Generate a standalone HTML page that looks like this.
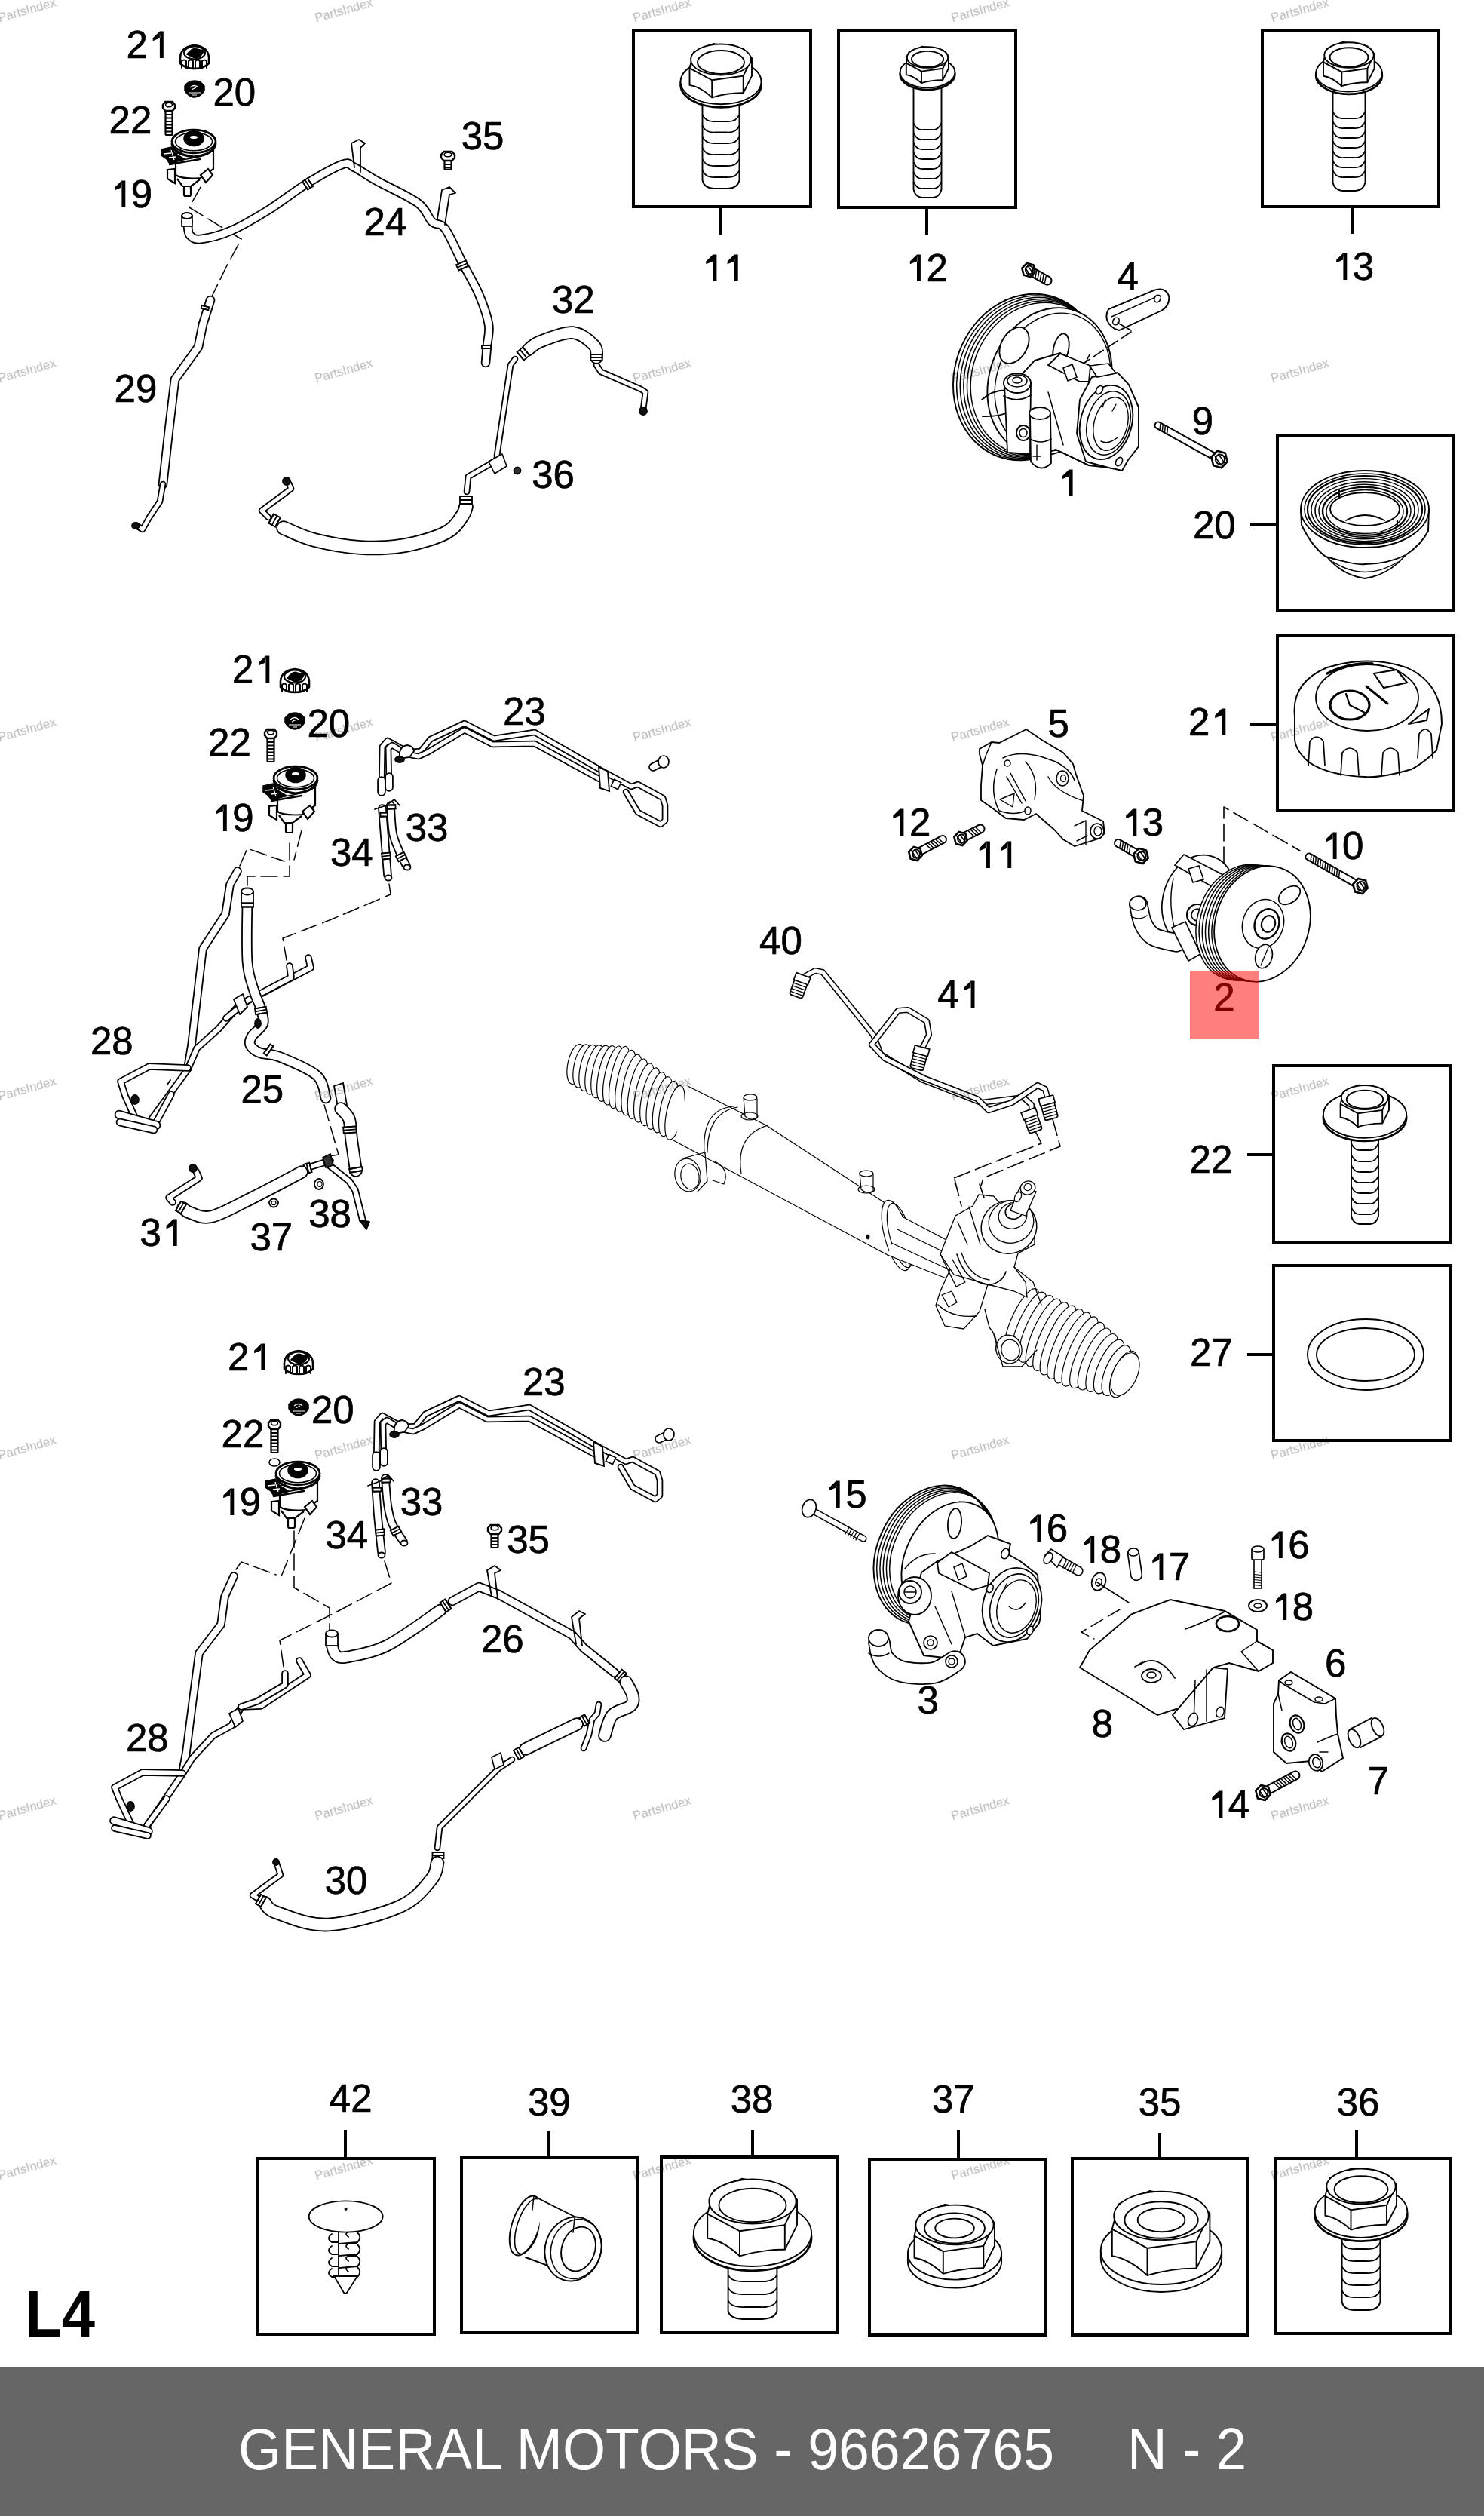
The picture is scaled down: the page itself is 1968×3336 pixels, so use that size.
<!DOCTYPE html>
<html><head><meta charset="utf-8"><style>
html,body{margin:0;padding:0;background:#fff;}
body{width:1968px;height:3336px;overflow:hidden;position:relative;}
svg{position:absolute;left:0;top:0;}
.lb{font-family:"Liberation Sans",sans-serif;font-size:51px;text-anchor:middle;fill:#000;stroke:#000;stroke-width:0.7px;}
.wm{font-family:"Liberation Sans",sans-serif;font-size:16.5px;text-anchor:middle;fill:#b8b8b8;}
.bx{fill:none;stroke:#000;stroke-width:4;}
.st{stroke:#000;stroke-width:4;}
.ln{fill:none;stroke:#000;stroke-width:1.8;stroke-linejoin:round;stroke-linecap:round;}
.lw{fill:#fff;stroke:#000;stroke-width:1.8;stroke-linejoin:round;stroke-linecap:round;}
.dash{fill:none;stroke:#000;stroke-width:1.8;stroke-dasharray:26 10 4 10;}
</style></head><body>
<svg width="1968" height="3336" viewBox="0 0 1968 3336">
<path d="M239.0,76.0 Q240.0,62.0 258.0,60.0 Q276.0,62.0 277.0,76.0 L277.0,84.0 Q270.0,91.0 258.0,91.0 Q246.0,91.0 239.0,84.0 Z" fill="#fff" stroke="#000" stroke-width="2.6"/><ellipse cx="258.0" cy="70.0" rx="14.0" ry="8.5" fill="#fff" stroke="#000" stroke-width="2.2"/><path d="M248.0,72.0 Q256.0,62.0 261.0,65.0 L270.0,67.0 Q268.0,76.0 258.0,77.0 Z" fill="#000" stroke="#000" stroke-width="1.5"/><path d="M241.0,90.0 L241.0,81.0 Q244.0,78.0 247.0,81.0 L247.0,90.0" fill="none" stroke="#000" stroke-width="2.0" stroke-linejoin="round" stroke-linecap="round"/><path d="M250.0,90.0 L250.0,81.0 Q253.0,78.0 256.0,81.0 L256.0,90.0" fill="none" stroke="#000" stroke-width="2.0" stroke-linejoin="round" stroke-linecap="round"/><path d="M259.0,90.0 L259.0,81.0 Q262.0,78.0 265.0,81.0 L265.0,90.0" fill="none" stroke="#000" stroke-width="2.0" stroke-linejoin="round" stroke-linecap="round"/><path d="M268.0,90.0 L268.0,81.0 Q271.0,78.0 274.0,81.0 L274.0,90.0" fill="none" stroke="#000" stroke-width="2.0" stroke-linejoin="round" stroke-linecap="round"/><path d="M245.0,114.0 Q250.0,107.0 258.0,107.0 Q266.0,107.0 271.0,114.0 L271.0,120.0 Q266.0,129.0 258.0,129.0 Q250.0,129.0 245.0,120.0 Z" fill="#000" stroke="#000" stroke-width="1.5"/><path d="M252.0,116.0 Q258.0,111.0 263.0,116.0 M254.0,119.0 L260.0,116.0 M250.0,123.0 L266.0,123.0 M255.0,126.0 L261.0,126.0" fill="none" stroke="#fff" stroke-width="1.2"/><g><rect x="219.5" y="146.0" width="9" height="33.0" rx="1.5" fill="#fff" stroke="#000" stroke-width="2.2"/><path d="M220.0,152.0 L228.0,152.0" fill="none" stroke="#000" stroke-width="1.8" stroke-linejoin="round" stroke-linecap="round"/><path d="M220.0,156.5 L228.0,156.5" fill="none" stroke="#000" stroke-width="1.8" stroke-linejoin="round" stroke-linecap="round"/><path d="M220.0,161.0 L228.0,161.0" fill="none" stroke="#000" stroke-width="1.8" stroke-linejoin="round" stroke-linecap="round"/><path d="M220.0,165.5 L228.0,165.5" fill="none" stroke="#000" stroke-width="1.8" stroke-linejoin="round" stroke-linecap="round"/><path d="M220.0,170.0 L228.0,170.0" fill="none" stroke="#000" stroke-width="1.8" stroke-linejoin="round" stroke-linecap="round"/><path d="M220.0,174.5 L228.0,174.5" fill="none" stroke="#000" stroke-width="1.8" stroke-linejoin="round" stroke-linecap="round"/><path d="M216.0,143.0 L216.0,139.0 L219.2,135.0 L228.8,135.0 L232.0,139.0 L232.0,143.0 L228.8,147.0 L219.2,147.0 Z" fill="#fff" stroke="#000" stroke-width="2.4"/><ellipse cx="224.0" cy="139.0" rx="4.4" ry="2.8" fill="#fff" stroke="#000" stroke-width="1.6"/></g><path d="M233.0,204.0 L233.0,232.0 Q242.0,238.0 266.0,236.0 L283.0,224.0 L283.0,188.0 Z" fill="#fff" stroke="#000" stroke-width="2.2"/><path d="M235.0,237.0 L242.0,247.0 L253.0,247.0 L265.0,238.0" fill="#fff" stroke="#000" stroke-width="2.2"/><rect x="244.0" y="247.0" width="9" height="13" rx="2" fill="#fff" stroke="#000" stroke-width="2.2"/><path d="M266.0,232.0 L276.0,224.0 L282.0,232.0 L273.0,242.0 Z" fill="#fff" stroke="#000" stroke-width="2.2"/><path d="M222.0,225.0 L232.0,224.0 L232.0,243.0 L222.0,237.0 Z" fill="#fff" stroke="#000" stroke-width="2.2"/><path d="M228.0,190.0 Q230.0,205.0 257.0,208.0 Q284.0,205.0 286.0,190.0" fill="none" stroke="#000" stroke-width="3.2"/><ellipse cx="257.0" cy="187.5" rx="29.0" ry="15.3" fill="#fff" stroke="#000" stroke-width="2.8"/><ellipse cx="257.0" cy="187.7" rx="24.5" ry="12.0" fill="#fff" stroke="#000" stroke-width="1.6"/><ellipse cx="257.0" cy="183.5" rx="13.0" ry="10.0" fill="#000" stroke="#000" stroke-width="1.5"/><ellipse cx="257.0" cy="182.0" rx="5.0" ry="2.0" fill="#fff" stroke="#000" stroke-width="0"/><path d="M214.0,198.0 L227.0,195.0 L233.0,204.0 L245.0,211.0 L225.0,217.0 L221.0,211.0 L214.0,206.0 Z" fill="#000" stroke="#000" stroke-width="1.5"/><path d="M217.0,204.0 L227.0,203.0 M224.0,209.0 L233.0,208.0 M227.0,199.0 L231.0,212.0" fill="none" stroke="#fff" stroke-width="1.3"/><path d="M225.0,218.0 L265.0,211.0" fill="none" stroke="#000" stroke-width="2.4" stroke-linejoin="round" stroke-linecap="round"/><path d="M225.0,215.0 L259.0,209.0" fill="none" stroke="#000" stroke-width="1.4" stroke-linejoin="round" stroke-linecap="round"/><path d="M266.0,248.0 L251.0,275.0 L320.0,317.0 L300.0,354.0 L279.0,397.0" fill="none" stroke="#000" stroke-width="1.5" stroke-linejoin="round" stroke-linecap="round" stroke-dasharray="22 8"/><path d="M249.0,300.0 C249.5,302.0 249.2,309.2 252.0,312.0 C254.8,314.8 257.0,318.0 266.0,317.0 C275.0,316.0 291.2,312.3 306.0,306.0 C320.8,299.7 338.3,289.3 355.0,279.0 C371.7,268.7 389.5,254.2 406.0,244.0 C422.5,233.8 443.3,221.7 454.0,218.0 C464.7,214.3 462.3,218.3 470.0,222.0 C477.7,225.7 486.0,232.2 500.0,240.0 C514.0,247.8 541.8,260.0 554.0,269.0 C566.2,278.0 567.0,288.3 573.0,294.0 C579.0,299.7 583.3,294.0 590.0,303.0 C596.7,312.0 605.5,333.5 613.0,348.0 C620.5,362.5 629.2,376.3 635.0,390.0 C640.8,403.7 646.2,418.7 648.0,430.0 C649.8,441.3 646.7,449.5 646.0,458.0 C645.3,466.5 644.3,477.2 644.0,481.0" fill="none" stroke="#000" stroke-width="12.6" stroke-linejoin="round" stroke-linecap="round"/><path d="M249.0,300.0 C249.5,302.0 249.2,309.2 252.0,312.0 C254.8,314.8 257.0,318.0 266.0,317.0 C275.0,316.0 291.2,312.3 306.0,306.0 C320.8,299.7 338.3,289.3 355.0,279.0 C371.7,268.7 389.5,254.2 406.0,244.0 C422.5,233.8 443.3,221.7 454.0,218.0 C464.7,214.3 462.3,218.3 470.0,222.0 C477.7,225.7 486.0,232.2 500.0,240.0 C514.0,247.8 541.8,260.0 554.0,269.0 C566.2,278.0 567.0,288.3 573.0,294.0 C579.0,299.7 583.3,294.0 590.0,303.0 C596.7,312.0 605.5,333.5 613.0,348.0 C620.5,362.5 629.2,376.3 635.0,390.0 C640.8,403.7 646.2,418.7 648.0,430.0 C649.8,441.3 646.7,449.5 646.0,458.0 C645.3,466.5 644.3,477.2 644.0,481.0" fill="none" stroke="#fff" stroke-width="9.0" stroke-linejoin="round" stroke-linecap="round"/><ellipse cx="248.0" cy="294.0" rx="7.0" ry="5.0" fill="#fff" stroke="#000" stroke-width="1.8"/><rect x="241" y="286" width="14" height="14" fill="#fff" stroke="#000" stroke-width="1.6"/><ellipse cx="248.0" cy="286.0" rx="7.0" ry="4.0" fill="#fff" stroke="#000" stroke-width="1.8"/><path d="M408.2,251.6 L414.9,247.3 L407.8,236.4 L401.1,240.7 Z" fill="#fff" stroke="#000" stroke-width="1.8"/><path d="M408.2,251.6 L401.1,240.7" fill="none" stroke="#000" stroke-width="1.8" stroke-linejoin="round" stroke-linecap="round"/><path d="M411.5,249.5 L404.5,238.5" fill="none" stroke="#000" stroke-width="1.8" stroke-linejoin="round" stroke-linecap="round"/><path d="M414.9,247.3 L407.8,236.4" fill="none" stroke="#000" stroke-width="1.8" stroke-linejoin="round" stroke-linecap="round"/><path d="M605.0,351.2 L608.2,358.5 L621.0,352.8 L617.8,345.5 Z" fill="#fff" stroke="#000" stroke-width="1.8"/><path d="M605.0,351.2 L617.8,345.5" fill="none" stroke="#000" stroke-width="1.8" stroke-linejoin="round" stroke-linecap="round"/><path d="M606.6,354.8 L619.4,349.2" fill="none" stroke="#000" stroke-width="1.8" stroke-linejoin="round" stroke-linecap="round"/><path d="M608.2,358.5 L621.0,352.8" fill="none" stroke="#000" stroke-width="1.8" stroke-linejoin="round" stroke-linecap="round"/><path d="M638.9,458.2 L639.1,462.2 L651.1,461.8 L650.9,457.8 Z" fill="#fff" stroke="#000" stroke-width="1.8"/><path d="M638.9,458.2 L650.9,457.8" fill="none" stroke="#000" stroke-width="1.8" stroke-linejoin="round" stroke-linecap="round"/><path d="M639.1,462.2 L651.1,461.8" fill="none" stroke="#000" stroke-width="1.8" stroke-linejoin="round" stroke-linecap="round"/><path d="M470,222 L466,190 L476,185 L484,190 L478,196 L478,228" fill="none" stroke="#000" stroke-width="1.8" stroke-linejoin="round" stroke-linecap="round"/><path d="M580,290 L586,252 L596,248 L604,256 L596,258 L590,298" fill="none" stroke="#000" stroke-width="1.8" stroke-linejoin="round" stroke-linecap="round"/><g><rect x="589.5" y="212.0" width="9" height="13.0" rx="1.5" fill="#fff" stroke="#000" stroke-width="2.2"/><path d="M590.0,218.0 L598.0,218.0" fill="none" stroke="#000" stroke-width="1.8" stroke-linejoin="round" stroke-linecap="round"/><path d="M590.0,222.5 L598.0,222.5" fill="none" stroke="#000" stroke-width="1.8" stroke-linejoin="round" stroke-linecap="round"/><path d="M585.0,209.0 L585.0,205.0 L588.6,201.0 L599.4,201.0 L603.0,205.0 L603.0,209.0 L599.4,213.0 L588.6,213.0 Z" fill="#fff" stroke="#000" stroke-width="2.4"/><ellipse cx="594.0" cy="205.0" rx="5.0" ry="2.8" fill="#fff" stroke="#000" stroke-width="1.6"/></g><path d="M279.0,398.0 L269.0,430.0 L263.0,460.0 L232.0,503.0 L224.0,570.0 L216.0,642.0" fill="none" stroke="#000" stroke-width="12.6" stroke-linejoin="round" stroke-linecap="round"/><path d="M279.0,398.0 L269.0,430.0 L263.0,460.0 L232.0,503.0 L224.0,570.0 L216.0,642.0" fill="none" stroke="#fff" stroke-width="9.0" stroke-linejoin="round" stroke-linecap="round"/><path d="M216.0,642.0 L212.0,665.0 L198.0,686.0 L189.0,702.0 L181.0,697.0" fill="none" stroke="#000" stroke-width="8.6" stroke-linejoin="round" stroke-linecap="round"/><path d="M216.0,642.0 L212.0,665.0 L198.0,686.0 L189.0,702.0 L181.0,697.0" fill="none" stroke="#fff" stroke-width="5.0" stroke-linejoin="round" stroke-linecap="round"/><ellipse cx="180.0" cy="697.0" rx="5.0" ry="4.0" fill="#111" stroke="#000" stroke-width="1.8"/><path d="M267.7,404.8 L266.7,408.6 L276.3,411.2 L277.3,407.4 Z" fill="#fff" stroke="#000" stroke-width="1.8"/><path d="M267.7,404.8 L277.3,407.4" fill="none" stroke="#000" stroke-width="1.8" stroke-linejoin="round" stroke-linecap="round"/><path d="M266.7,408.6 L276.3,411.2" fill="none" stroke="#000" stroke-width="1.8" stroke-linejoin="round" stroke-linecap="round"/><path d="M853.0,543.0 L856.0,520.0 L850.0,516.0 L797.0,493.0 L791.0,484.0" fill="none" stroke="#000" stroke-width="8.6" stroke-linejoin="round" stroke-linecap="round"/><path d="M853.0,543.0 L856.0,520.0 L850.0,516.0 L797.0,493.0 L791.0,484.0" fill="none" stroke="#fff" stroke-width="5.0" stroke-linejoin="round" stroke-linecap="round"/><ellipse cx="853.0" cy="545.0" rx="5.0" ry="5.0" fill="#111" stroke="#000" stroke-width="1.8"/><path d="M791.0,474.0 C790.5,471.3 793.3,463.5 788.0,458.0 C782.7,452.5 771.0,441.8 759.0,441.0 C747.0,440.2 725.8,449.2 716.0,453.0 C706.2,456.8 702.7,462.2 700.0,464.0" fill="none" stroke="#000" stroke-width="17.6" stroke-linejoin="round" stroke-linecap="round"/><path d="M791.0,474.0 C790.5,471.3 793.3,463.5 788.0,458.0 C782.7,452.5 771.0,441.8 759.0,441.0 C747.0,440.2 725.8,449.2 716.0,453.0 C706.2,456.8 702.7,462.2 700.0,464.0" fill="none" stroke="#fff" stroke-width="14.0" stroke-linejoin="round" stroke-linecap="round"/><path d="M783.5,470.0 L783.5,478.0 L798.5,478.0 L798.5,470.0 Z" fill="#fff" stroke="#000" stroke-width="1.8"/><path d="M783.5,470.0 L798.5,470.0" fill="none" stroke="#000" stroke-width="1.8" stroke-linejoin="round" stroke-linecap="round"/><path d="M783.5,474.0 L798.5,474.0" fill="none" stroke="#000" stroke-width="1.8" stroke-linejoin="round" stroke-linecap="round"/><path d="M783.5,478.0 L798.5,478.0" fill="none" stroke="#000" stroke-width="1.8" stroke-linejoin="round" stroke-linecap="round"/><path d="M693.3,460.4 L685.7,466.9 L694.7,477.6 L702.3,471.1 Z" fill="#fff" stroke="#000" stroke-width="1.8"/><path d="M693.3,460.4 L702.3,471.1" fill="none" stroke="#000" stroke-width="1.8" stroke-linejoin="round" stroke-linecap="round"/><path d="M689.5,463.6 L698.5,474.4" fill="none" stroke="#000" stroke-width="1.8" stroke-linejoin="round" stroke-linecap="round"/><path d="M685.7,466.9 L694.7,477.6" fill="none" stroke="#000" stroke-width="1.8" stroke-linejoin="round" stroke-linecap="round"/><path d="M683.0,476.0 L677.0,484.0 L659.0,604.0 L659.0,610.0 L621.0,632.0 L619.0,652.0" fill="none" stroke="#000" stroke-width="8.6" stroke-linejoin="round" stroke-linecap="round"/><path d="M683.0,476.0 L677.0,484.0 L659.0,604.0 L659.0,610.0 L621.0,632.0 L619.0,652.0" fill="none" stroke="#fff" stroke-width="5.0" stroke-linejoin="round" stroke-linecap="round"/><path d="M648,612 L666,602 L672,618 L656,628 Z" fill="#fff" stroke="#000" stroke-width="1.6" stroke-linejoin="round" stroke-linecap="round"/><path d="M618.0,672.0 C617.2,674.0 617.3,678.3 613.0,684.0 C608.7,689.7 604.5,699.5 592.0,706.0 C579.5,712.5 557.0,719.7 538.0,723.0 C519.0,726.3 498.2,727.2 478.0,726.0 C457.8,724.8 434.0,720.3 417.0,716.0 C400.0,711.7 382.8,702.7 376.0,700.0" fill="none" stroke="#000" stroke-width="19.6" stroke-linejoin="round" stroke-linecap="round"/><path d="M618.0,672.0 C617.2,674.0 617.3,678.3 613.0,684.0 C608.7,689.7 604.5,699.5 592.0,706.0 C579.5,712.5 557.0,719.7 538.0,723.0 C519.0,726.3 498.2,727.2 478.0,726.0 C457.8,724.8 434.0,720.3 417.0,716.0 C400.0,711.7 382.8,702.7 376.0,700.0" fill="none" stroke="#fff" stroke-width="16.0" stroke-linejoin="round" stroke-linecap="round"/><path d="M610.0,658.0 L610.0,668.0 L626.0,668.0 L626.0,658.0 Z" fill="#fff" stroke="#000" stroke-width="1.8"/><path d="M610.0,658.0 L626.0,658.0" fill="none" stroke="#000" stroke-width="1.8" stroke-linejoin="round" stroke-linecap="round"/><path d="M610.0,663.0 L626.0,663.0" fill="none" stroke="#000" stroke-width="1.8" stroke-linejoin="round" stroke-linecap="round"/><path d="M610.0,668.0 L626.0,668.0" fill="none" stroke="#000" stroke-width="1.8" stroke-linejoin="round" stroke-linecap="round"/><path d="M356.3,693.8 L365.1,698.5 L371.7,686.2 L362.9,681.5 Z" fill="#fff" stroke="#000" stroke-width="1.8"/><path d="M356.3,693.8 L362.9,681.5" fill="none" stroke="#000" stroke-width="1.8" stroke-linejoin="round" stroke-linecap="round"/><path d="M360.7,696.2 L367.3,683.8" fill="none" stroke="#000" stroke-width="1.8" stroke-linejoin="round" stroke-linecap="round"/><path d="M365.1,698.5 L371.7,686.2" fill="none" stroke="#000" stroke-width="1.8" stroke-linejoin="round" stroke-linecap="round"/><path d="M356.0,686.0 L347.0,677.0 L386.0,648.0 L383.0,641.0" fill="none" stroke="#000" stroke-width="8.6" stroke-linejoin="round" stroke-linecap="round"/><path d="M356.0,686.0 L347.0,677.0 L386.0,648.0 L383.0,641.0" fill="none" stroke="#fff" stroke-width="5.0" stroke-linejoin="round" stroke-linecap="round"/><ellipse cx="380.0" cy="638.0" rx="5.0" ry="5.0" fill="#111" stroke="#000" stroke-width="1.8"/><ellipse cx="686.0" cy="624.0" rx="4.5" ry="4.5" fill="#333" stroke="#000" stroke-width="1.8"/><path d="M931.5,134.0 L931.5,239.0 Q933.5,249.0 946.2,250.0 L965.8,250.0 Q978.5,249.0 980.5,239.0 L980.5,134.0 Z" fill="#fff" stroke="#000" stroke-width="1.9"/><path d="M931.5,152.0 Q935.5,162.0 948.6,161.0 L963.4,161.0 Q976.5,162.0 980.5,152.0" fill="none" stroke="#000" stroke-width="1.9"/><path d="M931.5,166.5 Q935.5,176.5 948.6,175.5 L963.4,175.5 Q976.5,176.5 980.5,166.5" fill="none" stroke="#000" stroke-width="1.9"/><path d="M931.5,181.0 Q935.5,191.0 948.6,190.0 L963.4,190.0 Q976.5,191.0 980.5,181.0" fill="none" stroke="#000" stroke-width="1.9"/><path d="M931.5,196.0 Q935.5,206.0 948.6,205.0 L963.4,205.0 Q976.5,206.0 980.5,196.0" fill="none" stroke="#000" stroke-width="1.9"/><path d="M931.5,211.0 Q935.5,221.0 948.6,220.0 L963.4,220.0 Q976.5,221.0 980.5,211.0" fill="none" stroke="#000" stroke-width="1.9"/><path d="M931.5,226.0 Q935.5,236.0 948.6,235.0 L963.4,235.0 Q976.5,236.0 980.5,226.0" fill="none" stroke="#000" stroke-width="1.9"/><ellipse cx="956.0" cy="112.3" rx="53.5" ry="30.0" fill="#fff" stroke="#000" stroke-width="2.7"/><ellipse cx="956.0" cy="108.3" rx="53.5" ry="30.0" fill="#fff" stroke="#000" stroke-width="1.9"/><path d="M914.5,90.3 L914.5,112.9 Q929.0,115.0 944.2,129.3 Q965.0,123.0 985.7,123.3 L997.0,100.7 L997.0,77.1 L986.0,65.0 L946.0,58.0 L920.0,69.0 Z" fill="#fff" stroke="#000" stroke-width="1.9" stroke-linejoin="round"/><path d="M914.5,90.3 L944.2,106.3 L985.7,100.7 L997.0,77.1 M944.2,106.3 L944.2,129.3 M985.7,100.7 L985.7,123.3" fill="none" stroke="#000" stroke-width="1.9"/><ellipse cx="956.0" cy="79.0" rx="40.0" ry="20.5" fill="#fff" stroke="#000" stroke-width="1.9"/><ellipse cx="956.0" cy="82.5" rx="31.0" ry="15.5" fill="#fff" stroke="#000" stroke-width="1.9"/><path d="M1211.5,113.4 L1211.5,251.0 Q1213.5,261.0 1222.6,262.0 L1237.4,262.0 Q1246.5,261.0 1248.5,251.0 L1248.5,113.4 Z" fill="#fff" stroke="#000" stroke-width="1.9"/><path d="M1211.5,163.0 Q1215.5,173.0 1224.5,172.0 L1235.5,172.0 Q1244.5,173.0 1248.5,163.0" fill="none" stroke="#000" stroke-width="1.9"/><path d="M1211.5,176.0 Q1215.5,186.0 1224.5,185.0 L1235.5,185.0 Q1244.5,186.0 1248.5,176.0" fill="none" stroke="#000" stroke-width="1.9"/><path d="M1211.5,189.0 Q1215.5,199.0 1224.5,198.0 L1235.5,198.0 Q1244.5,199.0 1248.5,189.0" fill="none" stroke="#000" stroke-width="1.9"/><path d="M1211.5,202.0 Q1215.5,212.0 1224.5,211.0 L1235.5,211.0 Q1244.5,212.0 1248.5,202.0" fill="none" stroke="#000" stroke-width="1.9"/><path d="M1211.5,215.0 Q1215.5,225.0 1224.5,224.0 L1235.5,224.0 Q1244.5,225.0 1248.5,215.0" fill="none" stroke="#000" stroke-width="1.9"/><path d="M1211.5,228.0 Q1215.5,238.0 1224.5,237.0 L1235.5,237.0 Q1244.5,238.0 1248.5,228.0" fill="none" stroke="#000" stroke-width="1.9"/><path d="M1211.5,241.0 Q1215.5,251.0 1224.5,250.0 L1235.5,250.0 Q1244.5,251.0 1248.5,241.0" fill="none" stroke="#000" stroke-width="1.9"/><ellipse cx="1230.0" cy="98.6" rx="36.4" ry="20.4" fill="#fff" stroke="#000" stroke-width="2.7"/><ellipse cx="1230.0" cy="95.9" rx="36.4" ry="20.4" fill="#fff" stroke="#000" stroke-width="1.9"/><path d="M1201.8,83.7 L1201.8,99.1 Q1211.6,100.5 1222.0,110.2 Q1236.1,105.9 1250.2,106.1 L1257.9,90.8 L1257.9,74.7 L1250.4,66.5 L1223.2,61.7 L1205.5,69.2 Z" fill="#fff" stroke="#000" stroke-width="1.9" stroke-linejoin="round"/><path d="M1201.8,83.7 L1222.0,94.6 L1250.2,90.8 L1257.9,74.7 M1222.0,94.6 L1222.0,110.2 M1250.2,90.8 L1250.2,106.1" fill="none" stroke="#000" stroke-width="1.9"/><ellipse cx="1230.0" cy="76.0" rx="27.2" ry="13.9" fill="#fff" stroke="#000" stroke-width="1.9"/><ellipse cx="1230.0" cy="78.4" rx="21.1" ry="10.5" fill="#fff" stroke="#000" stroke-width="1.9"/><path d="M1767.5,118.1 L1767.5,242.0 Q1769.5,252.0 1780.4,253.0 L1797.6,253.0 Q1808.5,252.0 1810.5,242.0 L1810.5,118.1 Z" fill="#fff" stroke="#000" stroke-width="1.9"/><path d="M1767.5,148.0 Q1771.5,158.0 1782.5,157.0 L1795.5,157.0 Q1806.5,158.0 1810.5,148.0" fill="none" stroke="#000" stroke-width="1.9"/><path d="M1767.5,161.0 Q1771.5,171.0 1782.5,170.0 L1795.5,170.0 Q1806.5,171.0 1810.5,161.0" fill="none" stroke="#000" stroke-width="1.9"/><path d="M1767.5,174.0 Q1771.5,184.0 1782.5,183.0 L1795.5,183.0 Q1806.5,184.0 1810.5,174.0" fill="none" stroke="#000" stroke-width="1.9"/><path d="M1767.5,187.0 Q1771.5,197.0 1782.5,196.0 L1795.5,196.0 Q1806.5,197.0 1810.5,187.0" fill="none" stroke="#000" stroke-width="1.9"/><path d="M1767.5,200.0 Q1771.5,210.0 1782.5,209.0 L1795.5,209.0 Q1806.5,210.0 1810.5,200.0" fill="none" stroke="#000" stroke-width="1.9"/><path d="M1767.5,213.0 Q1771.5,223.0 1782.5,222.0 L1795.5,222.0 Q1806.5,223.0 1810.5,213.0" fill="none" stroke="#000" stroke-width="1.9"/><path d="M1767.5,226.0 Q1771.5,236.0 1782.5,235.0 L1795.5,235.0 Q1806.5,236.0 1810.5,226.0" fill="none" stroke="#000" stroke-width="1.9"/><ellipse cx="1789.0" cy="100.3" rx="43.9" ry="24.6" fill="#fff" stroke="#000" stroke-width="2.7"/><ellipse cx="1789.0" cy="97.0" rx="43.9" ry="24.6" fill="#fff" stroke="#000" stroke-width="1.9"/><path d="M1755.0,82.3 L1755.0,100.8 Q1766.9,102.5 1779.3,114.2 Q1796.4,109.1 1813.4,109.3 L1822.6,90.8 L1822.6,71.4 L1813.6,61.5 L1780.8,55.8 L1759.5,64.8 Z" fill="#fff" stroke="#000" stroke-width="1.9" stroke-linejoin="round"/><path d="M1755.0,82.3 L1779.3,95.4 L1813.4,90.8 L1822.6,71.4 M1779.3,95.4 L1779.3,114.2 M1813.4,90.8 L1813.4,109.3" fill="none" stroke="#000" stroke-width="1.9"/><ellipse cx="1789.0" cy="73.0" rx="32.8" ry="16.8" fill="#fff" stroke="#000" stroke-width="1.9"/><ellipse cx="1789.0" cy="75.9" rx="25.4" ry="12.7" fill="#fff" stroke="#000" stroke-width="1.9"/><ellipse cx="1362.0" cy="500.0" rx="96.0" ry="112.0" fill="#fff" stroke="#000" stroke-width="1.9" transform="rotate(20 1362.0 500.0)"/><ellipse cx="1365.0" cy="500.5" rx="94.4" ry="110.2" fill="none" stroke="#000" stroke-width="1.5" transform="rotate(20 1365.0 500.5)"/><ellipse cx="1368.0" cy="501.0" rx="92.8" ry="108.4" fill="none" stroke="#000" stroke-width="1.5" transform="rotate(20 1368.0 501.0)"/><ellipse cx="1371.0" cy="501.5" rx="91.2" ry="106.6" fill="none" stroke="#000" stroke-width="1.5" transform="rotate(20 1371.0 501.5)"/><ellipse cx="1374.0" cy="502.0" rx="89.6" ry="104.8" fill="none" stroke="#000" stroke-width="1.5" transform="rotate(20 1374.0 502.0)"/><ellipse cx="1377.0" cy="502.5" rx="88.0" ry="103.0" fill="none" stroke="#000" stroke-width="1.5" transform="rotate(20 1377.0 502.5)"/><ellipse cx="1392.0" cy="506.0" rx="80.0" ry="100.0" fill="#fff" stroke="#000" stroke-width="1.9" transform="rotate(20 1392.0 506.0)"/><ellipse cx="1396.0" cy="507.0" rx="74.0" ry="94.0" fill="none" stroke="#000" stroke-width="1.4" transform="rotate(20 1396.0 507.0)"/><ellipse cx="1345.0" cy="458.0" rx="17.0" ry="26.0" fill="#fff" stroke="#000" stroke-width="1.9" transform="rotate(30 1345.0 458.0)"/><ellipse cx="1407.0" cy="463.0" rx="10.0" ry="21.0" fill="#fff" stroke="#000" stroke-width="1.9" transform="rotate(12 1407.0 463.0)"/><path d="M1302,530 Q1318,515 1340,518" fill="none" stroke="#000" stroke-width="1.9" stroke-linejoin="round" stroke-linecap="round"/><path d="M1303,552 Q1325,553 1342,545" fill="none" stroke="#000" stroke-width="1.9" stroke-linejoin="round" stroke-linecap="round"/><path d="M1372,478 L1406,468 L1453,492 L1490,505 L1509,538 L1505,590 L1488,622 L1444,617 L1400,596 L1372,604 L1345,600 L1333,520 Z" fill="#fff" stroke="#000" stroke-width="1.9"/><path d="M1448,500 L1482,494 L1497,510 L1510,540 L1510,592 L1496,610 L1488,624 L1470,620 L1440,612 L1428,575 L1432,530 Z" fill="#fff" stroke="#000" stroke-width="1.9"/><ellipse cx="1467.0" cy="560.0" rx="34.0" ry="50.0" fill="#fff" stroke="#000" stroke-width="1.9" transform="rotate(15 1467.0 560.0)"/><ellipse cx="1470.0" cy="561.0" rx="28.0" ry="43.0" fill="#fff" stroke="#000" stroke-width="1.6" transform="rotate(15 1470.0 561.0)"/><ellipse cx="1473.0" cy="562.0" rx="22.0" ry="36.0" fill="#fff" stroke="#000" stroke-width="1.4" transform="rotate(15 1473.0 562.0)"/><path d="M1462,540 L1466,530 M1475,545 L1480,536 M1460,585 Q1470,590 1482,580" fill="none" stroke="#000" stroke-width="1.4" stroke-linejoin="round" stroke-linecap="round"/><ellipse cx="1458.0" cy="517.0" rx="4.0" ry="6.0" fill="#fff" stroke="#000" stroke-width="1.6" transform="rotate(30 1458.0 517.0)"/><ellipse cx="1484.0" cy="612.0" rx="4.0" ry="6.0" fill="#fff" stroke="#000" stroke-width="1.6" transform="rotate(30 1484.0 612.0)"/><path d="M1400,596 L1444,617" fill="none" stroke="#000" stroke-width="1.8" stroke-linejoin="round" stroke-linecap="round"/><path d="M1390,520 L1410,590" fill="none" stroke="#000" stroke-width="1.5" stroke-linejoin="round" stroke-linecap="round"/><path d="M1390,484 L1406,469 L1446,485 L1444,506 L1432,506 L1409,494 Z" fill="#fff" stroke="#000" stroke-width="1.8"/><path d="M1410,488 L1422,483 L1428,500 L1416,505 Z" fill="#fff" stroke="#000" stroke-width="1.6"/><path d="M1445,485 L1470,482 L1480,495 L1455,500 Z" fill="#fff" stroke="#000" stroke-width="1.6"/><path d="M1440.0,480.0 L1445.0,470.0" fill="none" stroke="#000" stroke-width="1.6" stroke-linejoin="round" stroke-linecap="round"/><path d="M1332,508 L1336,600 L1366,602 L1367,508 Z" fill="#fff" stroke="#000" stroke-width="1.8"/><ellipse cx="1349.0" cy="508.0" rx="18.0" ry="13.0" fill="#fff" stroke="#000" stroke-width="1.9"/><ellipse cx="1349.0" cy="505.0" rx="13.0" ry="8.0" fill="#fff" stroke="#000" stroke-width="1.6"/><ellipse cx="1349.0" cy="504.0" rx="6.0" ry="4.0" fill="#fff" stroke="#000" stroke-width="1.5"/><path d="M1331,525 Q1349,535 1367,524" fill="none" stroke="#000" stroke-width="1.7" stroke-linejoin="round" stroke-linecap="round"/><path d="M1366,548 L1367,612 Q1380,628 1394,614 L1393,548 Z" fill="#fff" stroke="#000" stroke-width="1.8"/><ellipse cx="1379.0" cy="548.0" rx="14.0" ry="8.0" fill="#fff" stroke="#000" stroke-width="1.8"/><path d="M1366,582 Q1380,590 1394,582" fill="none" stroke="#000" stroke-width="1.6" stroke-linejoin="round" stroke-linecap="round"/><path d="M1375,590 L1375,610 M1370,605 L1380,605" fill="none" stroke="#000" stroke-width="1.4" stroke-linejoin="round" stroke-linecap="round"/><ellipse cx="1357.0" cy="574.0" rx="9.0" ry="10.0" fill="#fff" stroke="#000" stroke-width="1.9"/><ellipse cx="1357.0" cy="574.0" rx="5.0" ry="5.5" fill="#fff" stroke="#000" stroke-width="1.5"/><path d="M1478,436 Q1462,425 1470,410 L1530,385 Q1545,380 1550,392 Q1552,405 1540,412 L1484,438 Z" fill="#fff" stroke="#000" stroke-width="1.9"/><path d="M1474,420 L1535,393" fill="none" stroke="#000" stroke-width="1.4" stroke-linejoin="round" stroke-linecap="round"/><ellipse cx="1480.0" cy="426.0" rx="4.0" ry="5.0" fill="#fff" stroke="#000" stroke-width="1.6" transform="rotate(30 1480.0 426.0)"/><ellipse cx="1535.0" cy="396.0" rx="4.0" ry="5.0" fill="#fff" stroke="#000" stroke-width="1.6" transform="rotate(30 1535.0 396.0)"/><path d="M1482.0,428.0 L1500.0,438.0" fill="none" stroke="#000" stroke-width="1.6" stroke-linejoin="round" stroke-linecap="round"/><path d="M1500.0,440.0 L1438.0,481.0" fill="none" stroke="#000" stroke-width="1.6" stroke-linejoin="round" stroke-linecap="round" stroke-dasharray="16 6"/><path d="M1617.0,609.0 L1536.0,564.0" fill="none" stroke="#000" stroke-width="11.0" stroke-linejoin="round" stroke-linecap="round"/><path d="M1617.0,609.0 L1536.0,564.0" fill="none" stroke="#fff" stroke-width="7.0" stroke-linejoin="round" stroke-linecap="round"/><path d="M1539.0,561.7 L1538.2,569.2" fill="none" stroke="#000" stroke-width="1.5" stroke-linejoin="round" stroke-linecap="round"/><path d="M1542.2,563.4 L1541.4,571.0" fill="none" stroke="#000" stroke-width="1.5" stroke-linejoin="round" stroke-linecap="round"/><path d="M1545.3,565.2 L1544.5,572.7" fill="none" stroke="#000" stroke-width="1.5" stroke-linejoin="round" stroke-linecap="round"/><path d="M1548.5,566.9 L1547.7,574.5" fill="none" stroke="#000" stroke-width="1.5" stroke-linejoin="round" stroke-linecap="round"/><path d="M1627.6,612.0 L1619.8,620.2 L1609.2,617.2 L1606.4,606.0 L1614.2,597.8 L1624.8,600.8 Z" fill="#fff" stroke="#000" stroke-width="2.6"/><ellipse cx="1618.0" cy="609.0" rx="6.1" ry="6.6" fill="#fff" stroke="#000" stroke-width="2.0"/><path d="M1611.5,605.7 L1619.2,616.7" fill="none" stroke="#000" stroke-width="1.6" stroke-linejoin="round" stroke-linecap="round"/><path d="M1615.9,602.4 L1623.6,613.4" fill="none" stroke="#000" stroke-width="1.6" stroke-linejoin="round" stroke-linecap="round"/><path d="M1364.0,358.0 L1389.0,372.0" fill="none" stroke="#000" stroke-width="13.0" stroke-linejoin="round" stroke-linecap="round"/><path d="M1364.0,358.0 L1389.0,372.0" fill="none" stroke="#fff" stroke-width="9.0" stroke-linejoin="round" stroke-linecap="round"/><path d="M1385.5,375.2 L1387.3,365.9" fill="none" stroke="#000" stroke-width="1.5" stroke-linejoin="round" stroke-linecap="round"/><path d="M1382.4,373.4 L1384.1,364.1" fill="none" stroke="#000" stroke-width="1.5" stroke-linejoin="round" stroke-linecap="round"/><path d="M1379.2,371.7 L1381.0,362.4" fill="none" stroke="#000" stroke-width="1.5" stroke-linejoin="round" stroke-linecap="round"/><path d="M1376.1,369.9 L1377.8,360.6" fill="none" stroke="#000" stroke-width="1.5" stroke-linejoin="round" stroke-linecap="round"/><path d="M1372.9,368.2 L1374.7,358.8" fill="none" stroke="#000" stroke-width="1.5" stroke-linejoin="round" stroke-linecap="round"/><path d="M1369.8,366.4 L1371.6,357.1" fill="none" stroke="#000" stroke-width="1.5" stroke-linejoin="round" stroke-linecap="round"/><path d="M1366.6,364.6 L1368.4,355.3" fill="none" stroke="#000" stroke-width="1.5" stroke-linejoin="round" stroke-linecap="round"/><path d="M1372.7,360.4 L1366.3,367.1 L1357.6,364.7 L1355.3,355.6 L1361.7,348.9 L1370.4,351.3 Z" fill="#fff" stroke="#000" stroke-width="2.6"/><ellipse cx="1365.0" cy="358.0" rx="5.0" ry="5.4" fill="#fff" stroke="#000" stroke-width="2.0"/><path d="M1359.5,355.3 L1365.8,364.3" fill="none" stroke="#000" stroke-width="1.6" stroke-linejoin="round" stroke-linecap="round"/><path d="M1363.1,352.6 L1369.4,361.6" fill="none" stroke="#000" stroke-width="1.6" stroke-linejoin="round" stroke-linecap="round"/><path d="M1758,736 Q1778,762 1810,767 Q1842,762 1864,736 Z" fill="#fff" stroke="#000" stroke-width="1.9"/><path d="M1768,745 Q1810,772 1854,745" fill="none" stroke="#000" stroke-width="1.4" stroke-linejoin="round" stroke-linecap="round"/><path d="M1725,676 L1726,696 Q1740,725 1758,738 Q1800,750 1810,748 Q1840,748 1864,736 Q1885,722 1894,704 L1895,676 Z" fill="#fff" stroke="#000" stroke-width="1.9"/><ellipse cx="1810.0" cy="675.0" rx="85.0" ry="51.0" fill="#fff" stroke="#000" stroke-width="1.9"/><ellipse cx="1810.0" cy="675.0" rx="80.0" ry="47.0" fill="none" stroke="#000" stroke-width="1.5"/><ellipse cx="1810.0" cy="675.5" rx="76.0" ry="44.5" fill="none" stroke="#000" stroke-width="2.2"/><ellipse cx="1810.0" cy="676.1" rx="71.0" ry="41.5" fill="none" stroke="#000" stroke-width="1.4"/><ellipse cx="1810.0" cy="676.7" rx="66.0" ry="38.0" fill="none" stroke="#000" stroke-width="1.6"/><ellipse cx="1810.0" cy="677.3" rx="61.0" ry="35.0" fill="none" stroke="#000" stroke-width="1.4"/><ellipse cx="1810.0" cy="677.9" rx="56.0" ry="32.0" fill="none" stroke="#000" stroke-width="2.4"/><ellipse cx="1810.0" cy="678.5" rx="51.0" ry="29.0" fill="none" stroke="#000" stroke-width="1.4"/><ellipse cx="1810.0" cy="675.0" rx="46.0" ry="22.0" fill="#fff" stroke="#000" stroke-width="1.9"/><path d="M1785,690 Q1810,676 1836,690" fill="none" stroke="#000" stroke-width="1.8" stroke-linejoin="round" stroke-linecap="round"/><path d="M1776,650 L1776,660 M1853,690 L1853,698" fill="none" stroke="#000" stroke-width="2.2" stroke-linejoin="round" stroke-linecap="round"/><path d="M1717,950 Q1712,905 1760,885 Q1815,868 1865,885 Q1912,905 1912,960 L1905,995 Q1890,1010 1872,1020 Q1830,1032 1810,1030 Q1760,1028 1735,1010 Q1718,995 1717,980 Z" fill="#fff" stroke="#000" stroke-width="1.9"/><ellipse cx="1813.0" cy="925.0" rx="68.0" ry="44.0" fill="#fff" stroke="#000" stroke-width="1.8"/><ellipse cx="1790.0" cy="935.0" rx="26.0" ry="19.0" fill="#fff" stroke="#000" stroke-width="3.2"/><path d="M1790,935 L1785,920 M1790,935 L1810,945" fill="none" stroke="#000" stroke-width="2.2" stroke-linejoin="round" stroke-linecap="round"/><path d="M1822,893 L1852,888 L1866,905 L1835,912 Z" fill="#fff" stroke="#000" stroke-width="2.2"/><path d="M1812,910 L1840,933" fill="none" stroke="#000" stroke-width="3" stroke-linejoin="round" stroke-linecap="round"/><path d="M1760,893 Q1790,878 1820,880" fill="none" stroke="#000" stroke-width="3.5" stroke-linejoin="round" stroke-linecap="round"/><path d="M1868,960 L1895,940 L1892,955 Z" fill="none" stroke="#000" stroke-width="2" stroke-linejoin="round" stroke-linecap="round"/><path d="M1735,1015 L1737,983 Q1746.0,971 1755,983 L1757,1015" fill="none" stroke="#000" stroke-width="1.7" stroke-linejoin="round" stroke-linecap="round"/><path d="M1778,1028 L1780,998 Q1790.0,986 1800,998 L1802,1028" fill="none" stroke="#000" stroke-width="1.7" stroke-linejoin="round" stroke-linecap="round"/><path d="M1832,1028 L1834,998 Q1844.0,986 1854,998 L1856,1028" fill="none" stroke="#000" stroke-width="1.7" stroke-linejoin="round" stroke-linecap="round"/><path d="M1880,1005 L1882,973 Q1890.0,961 1898,973 L1900,1005" fill="none" stroke="#000" stroke-width="1.7" stroke-linejoin="round" stroke-linecap="round"/><path d="M372.0,903.0 Q373.0,889.0 391.0,887.0 Q409.0,889.0 410.0,903.0 L410.0,911.0 Q403.0,918.0 391.0,918.0 Q379.0,918.0 372.0,911.0 Z" fill="#fff" stroke="#000" stroke-width="2.6"/><ellipse cx="391.0" cy="897.0" rx="14.0" ry="8.5" fill="#fff" stroke="#000" stroke-width="2.2"/><path d="M381.0,899.0 Q389.0,889.0 394.0,892.0 L403.0,894.0 Q401.0,903.0 391.0,904.0 Z" fill="#000" stroke="#000" stroke-width="1.5"/><path d="M374.0,917.0 L374.0,908.0 Q377.0,905.0 380.0,908.0 L380.0,917.0" fill="none" stroke="#000" stroke-width="2.0" stroke-linejoin="round" stroke-linecap="round"/><path d="M383.0,917.0 L383.0,908.0 Q386.0,905.0 389.0,908.0 L389.0,917.0" fill="none" stroke="#000" stroke-width="2.0" stroke-linejoin="round" stroke-linecap="round"/><path d="M392.0,917.0 L392.0,908.0 Q395.0,905.0 398.0,908.0 L398.0,917.0" fill="none" stroke="#000" stroke-width="2.0" stroke-linejoin="round" stroke-linecap="round"/><path d="M401.0,917.0 L401.0,908.0 Q404.0,905.0 407.0,908.0 L407.0,917.0" fill="none" stroke="#000" stroke-width="2.0" stroke-linejoin="round" stroke-linecap="round"/><path d="M378.0,952.0 Q383.0,945.0 391.0,945.0 Q399.0,945.0 404.0,952.0 L404.0,958.0 Q399.0,967.0 391.0,967.0 Q383.0,967.0 378.0,958.0 Z" fill="#000" stroke="#000" stroke-width="1.5"/><path d="M385.0,954.0 Q391.0,949.0 396.0,954.0 M387.0,957.0 L393.0,954.0 M383.0,961.0 L399.0,961.0 M388.0,964.0 L394.0,964.0" fill="none" stroke="#fff" stroke-width="1.2"/><g><rect x="354.5" y="978.0" width="9" height="32.0" rx="1.5" fill="#fff" stroke="#000" stroke-width="2.2"/><path d="M355.0,984.0 L363.0,984.0" fill="none" stroke="#000" stroke-width="1.8" stroke-linejoin="round" stroke-linecap="round"/><path d="M355.0,988.5 L363.0,988.5" fill="none" stroke="#000" stroke-width="1.8" stroke-linejoin="round" stroke-linecap="round"/><path d="M355.0,993.0 L363.0,993.0" fill="none" stroke="#000" stroke-width="1.8" stroke-linejoin="round" stroke-linecap="round"/><path d="M355.0,997.5 L363.0,997.5" fill="none" stroke="#000" stroke-width="1.8" stroke-linejoin="round" stroke-linecap="round"/><path d="M355.0,1002.0 L363.0,1002.0" fill="none" stroke="#000" stroke-width="1.8" stroke-linejoin="round" stroke-linecap="round"/><path d="M355.0,1006.5 L363.0,1006.5" fill="none" stroke="#000" stroke-width="1.8" stroke-linejoin="round" stroke-linecap="round"/><path d="M351.0,975.0 L351.0,971.0 L354.2,967.0 L363.8,967.0 L367.0,971.0 L367.0,975.0 L363.8,979.0 L354.2,979.0 Z" fill="#fff" stroke="#000" stroke-width="2.4"/><ellipse cx="359.0" cy="971.0" rx="4.4" ry="2.8" fill="#fff" stroke="#000" stroke-width="1.6"/></g><path d="M368.0,1048.0 L368.0,1076.0 Q377.0,1082.0 401.0,1080.0 L418.0,1068.0 L418.0,1032.0 Z" fill="#fff" stroke="#000" stroke-width="2.2"/><path d="M370.0,1081.0 L377.0,1091.0 L388.0,1091.0 L400.0,1082.0" fill="#fff" stroke="#000" stroke-width="2.2"/><rect x="379.0" y="1091.0" width="9" height="13" rx="2" fill="#fff" stroke="#000" stroke-width="2.2"/><path d="M401.0,1076.0 L411.0,1068.0 L417.0,1076.0 L408.0,1086.0 Z" fill="#fff" stroke="#000" stroke-width="2.2"/><path d="M357.0,1069.0 L367.0,1068.0 L367.0,1087.0 L357.0,1081.0 Z" fill="#fff" stroke="#000" stroke-width="2.2"/><path d="M363.0,1034.0 Q365.0,1049.0 392.0,1052.0 Q419.0,1049.0 421.0,1034.0" fill="none" stroke="#000" stroke-width="3.2"/><ellipse cx="392.0" cy="1031.5" rx="29.0" ry="15.3" fill="#fff" stroke="#000" stroke-width="2.8"/><ellipse cx="392.0" cy="1031.7" rx="24.5" ry="12.0" fill="#fff" stroke="#000" stroke-width="1.6"/><ellipse cx="392.0" cy="1027.5" rx="13.0" ry="10.0" fill="#000" stroke="#000" stroke-width="1.5"/><ellipse cx="392.0" cy="1026.0" rx="5.0" ry="2.0" fill="#fff" stroke="#000" stroke-width="0"/><path d="M349.0,1042.0 L362.0,1039.0 L368.0,1048.0 L380.0,1055.0 L360.0,1061.0 L356.0,1055.0 L349.0,1050.0 Z" fill="#000" stroke="#000" stroke-width="1.5"/><path d="M352.0,1048.0 L362.0,1047.0 M359.0,1053.0 L368.0,1052.0 M362.0,1043.0 L366.0,1056.0" fill="none" stroke="#fff" stroke-width="1.3"/><path d="M360.0,1062.0 L400.0,1055.0" fill="none" stroke="#000" stroke-width="2.4" stroke-linejoin="round" stroke-linecap="round"/><path d="M360.0,1059.0 L394.0,1053.0" fill="none" stroke="#000" stroke-width="1.4" stroke-linejoin="round" stroke-linecap="round"/><path d="M506.0,1050.0 L507.0,990.0 L514.0,982.0 L532.0,992.0 L543.0,997.0 L558.0,996.0 L571.0,980.0 L616.0,959.0 L655.0,979.0 L709.0,971.0 L800.0,1023.0 L837.0,1043.0 L846.0,1040.0 L879.0,1058.0 L882.0,1068.0 L882.0,1088.0 L876.0,1093.0 L846.0,1077.0 L830.0,1050.0" fill="none" stroke="#000" stroke-width="8.6" stroke-linejoin="round" stroke-linecap="round"/><path d="M506.0,1050.0 L507.0,990.0 L514.0,982.0 L532.0,992.0 L543.0,997.0 L558.0,996.0 L571.0,980.0 L616.0,959.0 L655.0,979.0 L709.0,971.0 L800.0,1023.0 L837.0,1043.0 L846.0,1040.0 L879.0,1058.0 L882.0,1068.0 L882.0,1088.0 L876.0,1093.0 L846.0,1077.0 L830.0,1050.0" fill="none" stroke="#fff" stroke-width="5.0" stroke-linejoin="round" stroke-linecap="round"/><path d="M516.0,1044.0 L515.0,992.0 L520.0,988.0 L540.0,1000.0 L555.0,1003.0 L568.0,997.0 L616.0,968.0 L653.0,987.0 L709.0,986.0 L795.0,1033.0" fill="none" stroke="#000" stroke-width="8.6" stroke-linejoin="round" stroke-linecap="round"/><path d="M516.0,1044.0 L515.0,992.0 L520.0,988.0 L540.0,1000.0 L555.0,1003.0 L568.0,997.0 L616.0,968.0 L653.0,987.0 L709.0,986.0 L795.0,1033.0" fill="none" stroke="#fff" stroke-width="5.0" stroke-linejoin="round" stroke-linecap="round"/><path d="M506.0,1035.0 L506.0,1050.0" fill="none" stroke="#000" stroke-width="11.6" stroke-linejoin="round" stroke-linecap="round"/><path d="M506.0,1035.0 L506.0,1050.0" fill="none" stroke="#fff" stroke-width="8.0" stroke-linejoin="round" stroke-linecap="round"/><path d="M516.0,1030.0 L516.0,1044.0" fill="none" stroke="#000" stroke-width="11.6" stroke-linejoin="round" stroke-linecap="round"/><path d="M516.0,1030.0 L516.0,1044.0" fill="none" stroke="#fff" stroke-width="8.0" stroke-linejoin="round" stroke-linecap="round"/><path d="M530.0,1006.0 Q528.0,990.0 540.0,988.0 Q548.0,989.0 549.0,996.0 L543.0,1004.0 Z" fill="#fff" stroke="#000" stroke-width="1.8"/><ellipse cx="530.0" cy="1007.0" rx="6.0" ry="4.0" fill="#111" stroke="#000" stroke-width="1.8"/><path d="M794.0,1017.0 L806.0,1023.0 L808.0,1049.0 L796.0,1045.0 Z" fill="#fff" stroke="#000" stroke-width="1.9"/><rect x="812.0" y="1035.0" width="10" height="10" fill="#fff" stroke="#000" stroke-width="1.6" transform="rotate(25 817.0 1040.0)"/><path d="M866.0,1017.0 L880.0,1010.0" fill="none" stroke="#000" stroke-width="11.6" stroke-linejoin="round" stroke-linecap="round"/><path d="M866.0,1017.0 L880.0,1010.0" fill="none" stroke="#fff" stroke-width="8.0" stroke-linejoin="round" stroke-linecap="round"/><ellipse cx="880.0" cy="1010.0" rx="7.0" ry="8.0" fill="#fff" stroke="#000" stroke-width="1.7"/><path d="M507.0,1072.0 C507.5,1078.3 508.8,1095.3 510.0,1110.0 C511.2,1124.7 513.3,1151.7 514.0,1160.0" fill="none" stroke="#000" stroke-width="11.6" stroke-linejoin="round" stroke-linecap="round"/><path d="M507.0,1072.0 C507.5,1078.3 508.8,1095.3 510.0,1110.0 C511.2,1124.7 513.3,1151.7 514.0,1160.0" fill="none" stroke="#fff" stroke-width="8.0" stroke-linejoin="round" stroke-linecap="round"/><path d="M504.4,1077.7 L504.6,1082.7 L515.6,1082.3 L515.4,1077.3 Z" fill="#fff" stroke="#000" stroke-width="1.8"/><path d="M504.4,1077.7 L515.4,1077.3" fill="none" stroke="#000" stroke-width="1.8" stroke-linejoin="round" stroke-linecap="round"/><path d="M504.6,1082.7 L515.6,1082.3" fill="none" stroke="#000" stroke-width="1.8" stroke-linejoin="round" stroke-linecap="round"/><path d="M506.1,1131.6 L506.9,1139.6 L517.9,1138.4 L517.1,1130.4 Z" fill="#fff" stroke="#000" stroke-width="1.8"/><path d="M506.1,1131.6 L517.1,1130.4" fill="none" stroke="#000" stroke-width="1.8" stroke-linejoin="round" stroke-linecap="round"/><path d="M506.5,1135.6 L517.5,1134.4" fill="none" stroke="#000" stroke-width="1.8" stroke-linejoin="round" stroke-linecap="round"/><path d="M506.9,1139.6 L517.9,1138.4" fill="none" stroke="#000" stroke-width="1.8" stroke-linejoin="round" stroke-linecap="round"/><ellipse cx="515.0" cy="1164.0" rx="4.5" ry="3.5" fill="#fff" stroke="#000" stroke-width="1.8"/><path d="M518.0,1068.0 C518.5,1074.2 519.0,1094.7 521.0,1105.0 C523.0,1115.3 527.0,1122.8 530.0,1130.0 C533.0,1137.2 537.5,1145.0 539.0,1148.0" fill="none" stroke="#000" stroke-width="11.6" stroke-linejoin="round" stroke-linecap="round"/><path d="M518.0,1068.0 C518.5,1074.2 519.0,1094.7 521.0,1105.0 C523.0,1115.3 527.0,1122.8 530.0,1130.0 C533.0,1137.2 537.5,1145.0 539.0,1148.0" fill="none" stroke="#fff" stroke-width="8.0" stroke-linejoin="round" stroke-linecap="round"/><path d="M513.4,1067.7 L513.6,1072.7 L524.6,1072.3 L524.4,1067.3 Z" fill="#fff" stroke="#000" stroke-width="1.8"/><path d="M513.4,1067.7 L524.4,1067.3" fill="none" stroke="#000" stroke-width="1.8" stroke-linejoin="round" stroke-linecap="round"/><path d="M513.6,1072.7 L524.6,1072.3" fill="none" stroke="#000" stroke-width="1.8" stroke-linejoin="round" stroke-linecap="round"/><path d="M524.8,1135.3 L528.6,1142.3 L539.2,1136.7 L535.4,1129.7 Z" fill="#fff" stroke="#000" stroke-width="1.8"/><path d="M524.8,1135.3 L535.4,1129.7" fill="none" stroke="#000" stroke-width="1.8" stroke-linejoin="round" stroke-linecap="round"/><path d="M526.7,1138.8 L537.3,1133.2" fill="none" stroke="#000" stroke-width="1.8" stroke-linejoin="round" stroke-linecap="round"/><path d="M528.6,1142.3 L539.2,1136.7" fill="none" stroke="#000" stroke-width="1.8" stroke-linejoin="round" stroke-linecap="round"/><ellipse cx="540.0" cy="1150.0" rx="4.5" ry="3.5" fill="#fff" stroke="#000" stroke-width="1.8"/><path d="M497,1073 L512,1068 L523,1060 L530,1068" fill="none" stroke="#000" stroke-width="1.8" stroke-linejoin="round" stroke-linecap="round"/><path d="M400.0,1101.0 L390.0,1140.0" fill="none" stroke="#000" stroke-width="1.5" stroke-linejoin="round" stroke-linecap="round" stroke-dasharray="22 8"/><path d="M384.0,1118.0 L384.0,1162.0 L328.0,1162.0 L328.0,1182.0" fill="none" stroke="#000" stroke-width="1.5" stroke-linejoin="round" stroke-linecap="round" stroke-dasharray="22 8"/><path d="M318.0,1148.0 L328.0,1125.0 L377.0,1142.0" fill="none" stroke="#000" stroke-width="1.5" stroke-linejoin="round" stroke-linecap="round" stroke-dasharray="22 8"/><path d="M516.0,1172.0 L518.0,1186.0 L437.0,1220.0 L375.0,1244.0 L380.0,1273.0" fill="none" stroke="#000" stroke-width="1.5" stroke-linejoin="round" stroke-linecap="round" stroke-dasharray="22 8"/><path d="M315.0,1155.0 L305.0,1173.0 L299.0,1212.0 L269.0,1258.0 L254.0,1386.0 L249.0,1416.0" fill="none" stroke="#000" stroke-width="11.6" stroke-linejoin="round" stroke-linecap="round"/><path d="M315.0,1155.0 L305.0,1173.0 L299.0,1212.0 L269.0,1258.0 L254.0,1386.0 L249.0,1416.0" fill="none" stroke="#fff" stroke-width="8.0" stroke-linejoin="round" stroke-linecap="round"/><path d="M409.0,1270.0 L412.0,1283.0 L317.0,1333.0 L290.0,1364.0 L261.0,1390.0 L249.0,1418.0 L198.0,1488.0" fill="none" stroke="#000" stroke-width="9.6" stroke-linejoin="round" stroke-linecap="round"/><path d="M409.0,1270.0 L412.0,1283.0 L317.0,1333.0 L290.0,1364.0 L261.0,1390.0 L249.0,1418.0 L198.0,1488.0" fill="none" stroke="#fff" stroke-width="6.0" stroke-linejoin="round" stroke-linecap="round"/><path d="M384.0,1281.0 L386.0,1296.0 L329.0,1326.0 L300.0,1350.0" fill="none" stroke="#000" stroke-width="9.6" stroke-linejoin="round" stroke-linecap="round"/><path d="M384.0,1281.0 L386.0,1296.0 L329.0,1326.0 L300.0,1350.0" fill="none" stroke="#fff" stroke-width="6.0" stroke-linejoin="round" stroke-linecap="round"/><path d="M249.0,1416.0 L198.0,1414.0 L160.0,1434.0 L166.0,1453.0 L179.0,1482.0" fill="none" stroke="#000" stroke-width="9.6" stroke-linejoin="round" stroke-linecap="round"/><path d="M249.0,1416.0 L198.0,1414.0 L160.0,1434.0 L166.0,1453.0 L179.0,1482.0" fill="none" stroke="#fff" stroke-width="6.0" stroke-linejoin="round" stroke-linecap="round"/><path d="M227.0,1451.0 L206.0,1490.0" fill="none" stroke="#000" stroke-width="9.6" stroke-linejoin="round" stroke-linecap="round"/><path d="M227.0,1451.0 L206.0,1490.0" fill="none" stroke="#fff" stroke-width="6.0" stroke-linejoin="round" stroke-linecap="round"/><path d="M158.0,1478.0 L207.0,1492.0" fill="none" stroke="#000" stroke-width="12.6" stroke-linejoin="round" stroke-linecap="round"/><path d="M158.0,1478.0 L207.0,1492.0" fill="none" stroke="#fff" stroke-width="9.0" stroke-linejoin="round" stroke-linecap="round"/><path d="M159.0,1488.0 L204.0,1498.0" fill="none" stroke="#000" stroke-width="10.6" stroke-linejoin="round" stroke-linecap="round"/><path d="M159.0,1488.0 L204.0,1498.0" fill="none" stroke="#fff" stroke-width="7.0" stroke-linejoin="round" stroke-linecap="round"/><ellipse cx="179.0" cy="1458.0" rx="5.0" ry="6.0" fill="#111" stroke="#000" stroke-width="1.8"/><path d="M222,1438 L226,1432" fill="none" stroke="#000" stroke-width="1.8" stroke-linejoin="round" stroke-linecap="round"/><path d="M328.0,1190.0 C328.0,1204.2 326.5,1254.3 328.0,1275.0 C329.5,1295.7 334.2,1304.0 337.0,1314.0 C339.8,1324.0 343.0,1327.8 345.0,1335.0 C347.0,1342.2 350.8,1350.5 349.0,1357.0 C347.2,1363.5 336.8,1369.2 334.0,1374.0 C331.2,1378.8 330.2,1382.3 332.0,1386.0 C333.8,1389.7 338.7,1393.5 345.0,1396.0 C351.3,1398.5 357.5,1396.0 370.0,1401.0 C382.5,1406.0 409.7,1416.8 420.0,1426.0 C430.3,1435.2 430.0,1451.0 432.0,1456.0" fill="none" stroke="#000" stroke-width="14.6" stroke-linejoin="round" stroke-linecap="round"/><path d="M328.0,1190.0 C328.0,1204.2 326.5,1254.3 328.0,1275.0 C329.5,1295.7 334.2,1304.0 337.0,1314.0 C339.8,1324.0 343.0,1327.8 345.0,1335.0 C347.0,1342.2 350.8,1350.5 349.0,1357.0 C347.2,1363.5 336.8,1369.2 334.0,1374.0 C331.2,1378.8 330.2,1382.3 332.0,1386.0 C333.8,1389.7 338.7,1393.5 345.0,1396.0 C351.3,1398.5 357.5,1396.0 370.0,1401.0 C382.5,1406.0 409.7,1416.8 420.0,1426.0 C430.3,1435.2 430.0,1451.0 432.0,1456.0" fill="none" stroke="#fff" stroke-width="11.0" stroke-linejoin="round" stroke-linecap="round"/><rect x="320" y="1182" width="16" height="16" fill="#fff" stroke="#000" stroke-width="1.8"/><ellipse cx="328.0" cy="1182.0" rx="8.0" ry="4.5" fill="#fff" stroke="#000" stroke-width="1.8"/><path d="M320.0,1197.5 L320.0,1202.5 L336.0,1202.5 L336.0,1197.5 Z" fill="#fff" stroke="#000" stroke-width="1.8"/><path d="M320.0,1197.5 L336.0,1197.5" fill="none" stroke="#000" stroke-width="1.8" stroke-linejoin="round" stroke-linecap="round"/><path d="M320.0,1202.5 L336.0,1202.5" fill="none" stroke="#000" stroke-width="1.8" stroke-linejoin="round" stroke-linecap="round"/><path d="M337.9,1337.4 L339.3,1345.2 L354.1,1342.6 L352.7,1334.8 Z" fill="#fff" stroke="#000" stroke-width="1.8"/><path d="M337.9,1337.4 L352.7,1334.8" fill="none" stroke="#000" stroke-width="1.8" stroke-linejoin="round" stroke-linecap="round"/><path d="M338.6,1341.3 L353.4,1338.7" fill="none" stroke="#000" stroke-width="1.8" stroke-linejoin="round" stroke-linecap="round"/><path d="M339.3,1345.2 L354.1,1342.6" fill="none" stroke="#000" stroke-width="1.8" stroke-linejoin="round" stroke-linecap="round"/><path d="M349.7,1396.7 L353.7,1399.6 L362.3,1387.3 L358.3,1384.4 Z" fill="#fff" stroke="#000" stroke-width="1.8"/><path d="M349.7,1396.7 L358.3,1384.4" fill="none" stroke="#000" stroke-width="1.8" stroke-linejoin="round" stroke-linecap="round"/><path d="M353.7,1399.6 L362.3,1387.3" fill="none" stroke="#000" stroke-width="1.8" stroke-linejoin="round" stroke-linecap="round"/><ellipse cx="342.0" cy="1357.0" rx="4.0" ry="6.0" fill="#111" stroke="#000" stroke-width="1.8"/><path d="M310,1325 L322,1318 L328,1335 L318,1345 Z" fill="#fff" stroke="#000" stroke-width="1.8" stroke-linejoin="round" stroke-linecap="round"/><path d="M443,1440 L455,1436 L460,1465 L448,1468 Z" fill="#fff" stroke="#000" stroke-width="1.8"/><path d="M452.0,1470.0 C453.8,1472.3 460.7,1477.3 463.0,1484.0 C465.3,1490.7 464.7,1499.8 466.0,1510.0 C467.3,1520.2 470.0,1538.0 471.0,1545.0 C472.0,1552.0 471.8,1550.8 472.0,1552.0" fill="none" stroke="#000" stroke-width="17.6" stroke-linejoin="round" stroke-linecap="round"/><path d="M452.0,1470.0 C453.8,1472.3 460.7,1477.3 463.0,1484.0 C465.3,1490.7 464.7,1499.8 466.0,1510.0 C467.3,1520.2 470.0,1538.0 471.0,1545.0 C472.0,1552.0 471.8,1550.8 472.0,1552.0" fill="none" stroke="#fff" stroke-width="14.0" stroke-linejoin="round" stroke-linecap="round"/><path d="M455.2,1494.6 L455.8,1502.6 L472.8,1501.4 L472.2,1493.4 Z" fill="#fff" stroke="#000" stroke-width="1.8"/><path d="M455.2,1494.6 L472.2,1493.4" fill="none" stroke="#000" stroke-width="1.8" stroke-linejoin="round" stroke-linecap="round"/><path d="M455.5,1498.6 L472.5,1497.4" fill="none" stroke="#000" stroke-width="1.8" stroke-linejoin="round" stroke-linecap="round"/><path d="M455.8,1502.6 L472.8,1501.4" fill="none" stroke="#000" stroke-width="1.8" stroke-linejoin="round" stroke-linecap="round"/><path d="M463.2,1550.0 L464.1,1554.9 L480.8,1552.0 L479.9,1547.1 Z" fill="#fff" stroke="#000" stroke-width="1.8"/><path d="M463.2,1550.0 L479.9,1547.1" fill="none" stroke="#000" stroke-width="1.8" stroke-linejoin="round" stroke-linecap="round"/><path d="M464.1,1554.9 L480.8,1552.0" fill="none" stroke="#000" stroke-width="1.8" stroke-linejoin="round" stroke-linecap="round"/><path d="M430.0,1465.0 L449.0,1531.0 L436.0,1533.0" fill="none" stroke="#000" stroke-width="1.5" stroke-linejoin="round" stroke-linecap="round" stroke-dasharray="22 8"/><path d="M438.0,1539.0 L412.0,1547.0" fill="none" stroke="#000" stroke-width="9.6" stroke-linejoin="round" stroke-linecap="round"/><path d="M438.0,1539.0 L412.0,1547.0" fill="none" stroke="#fff" stroke-width="6.0" stroke-linejoin="round" stroke-linecap="round"/><path d="M405.8,1556.3 L413.5,1554.2 L410.2,1541.7 L402.5,1543.8 Z" fill="#fff" stroke="#000" stroke-width="1.8"/><path d="M405.8,1556.3 L402.5,1543.8" fill="none" stroke="#000" stroke-width="1.8" stroke-linejoin="round" stroke-linecap="round"/><path d="M409.7,1555.3 L406.3,1542.7" fill="none" stroke="#000" stroke-width="1.8" stroke-linejoin="round" stroke-linecap="round"/><path d="M413.5,1554.2 L410.2,1541.7" fill="none" stroke="#000" stroke-width="1.8" stroke-linejoin="round" stroke-linecap="round"/><path d="M400.0,1554.0 C389.2,1559.7 354.8,1578.2 335.0,1588.0 C315.2,1597.8 294.8,1609.7 281.0,1613.0 C267.2,1616.3 258.3,1609.8 252.0,1608.0 C245.7,1606.2 244.5,1603.0 243.0,1602.0" fill="none" stroke="#000" stroke-width="17.6" stroke-linejoin="round" stroke-linecap="round"/><path d="M400.0,1554.0 C389.2,1559.7 354.8,1578.2 335.0,1588.0 C315.2,1597.8 294.8,1609.7 281.0,1613.0 C267.2,1616.3 258.3,1609.8 252.0,1608.0 C245.7,1606.2 244.5,1603.0 243.0,1602.0" fill="none" stroke="#fff" stroke-width="14.0" stroke-linejoin="round" stroke-linecap="round"/><path d="M233.0,1605.1 L240.0,1609.1 L247.0,1596.9 L240.0,1592.9 Z" fill="#fff" stroke="#000" stroke-width="1.8"/><path d="M233.0,1605.1 L240.0,1592.9" fill="none" stroke="#000" stroke-width="1.8" stroke-linejoin="round" stroke-linecap="round"/><path d="M236.5,1607.1 L243.5,1594.9" fill="none" stroke="#000" stroke-width="1.8" stroke-linejoin="round" stroke-linecap="round"/><path d="M240.0,1609.1 L247.0,1596.9" fill="none" stroke="#000" stroke-width="1.8" stroke-linejoin="round" stroke-linecap="round"/><path d="M229.0,1594.0 L224.0,1588.0 L264.0,1562.0 L260.0,1553.0" fill="none" stroke="#000" stroke-width="9.6" stroke-linejoin="round" stroke-linecap="round"/><path d="M229.0,1594.0 L224.0,1588.0 L264.0,1562.0 L260.0,1553.0" fill="none" stroke="#fff" stroke-width="6.0" stroke-linejoin="round" stroke-linecap="round"/><ellipse cx="256.0" cy="1549.0" rx="5.0" ry="5.0" fill="#111" stroke="#000" stroke-width="1.8"/><path d="M434.0,1543.0 L463.0,1566.0 L471.0,1578.0 L481.0,1618.0" fill="none" stroke="#000" stroke-width="9.6" stroke-linejoin="round" stroke-linecap="round"/><path d="M434.0,1543.0 L463.0,1566.0 L471.0,1578.0 L481.0,1618.0" fill="none" stroke="#fff" stroke-width="6.0" stroke-linejoin="round" stroke-linecap="round"/><path d="M477,1618 L486,1630 L490,1620 Z" fill="#111" stroke="#000" stroke-width="1.8" stroke-linejoin="round" stroke-linecap="round"/><path d="M428,1535 L438,1530 L442,1545 L432,1548 Z" fill="#333" stroke="#000" stroke-width="1.8" stroke-linejoin="round" stroke-linecap="round"/><ellipse cx="423.0" cy="1570.0" rx="6.0" ry="7.0" fill="#fff" stroke="#000" stroke-width="1.8"/><ellipse cx="424.0" cy="1570.0" rx="3.0" ry="3.5" fill="#fff" stroke="#000" stroke-width="1.2"/><ellipse cx="363.0" cy="1595.0" rx="6.0" ry="5.5" fill="#fff" stroke="#000" stroke-width="1.8"/><ellipse cx="363.0" cy="1595.0" rx="3.0" ry="2.5" fill="#fff" stroke="#000" stroke-width="1.2"/><path d="M1299.0,993.0 L1315.0,984.0 L1325.0,985.0 L1361.0,967.0 L1383.0,982.0 L1410.0,998.0 L1423.0,1013.0 L1427.0,1027.0 L1437.0,1055.0 L1435.0,1075.0 L1463.0,1089.0 L1465.0,1105.0 L1457.0,1112.0 L1425.0,1122.0 L1410.0,1113.0 L1398.0,1100.0 L1374.0,1079.0 L1358.0,1087.0 L1334.0,1085.0 L1318.0,1073.0 L1301.0,1061.0 L1301.0,1041.0 L1303.0,1015.0 L1299.0,1000.0 Z" fill="#fff" stroke="#000" stroke-width="1.8"/><path d="M1315,984 L1308,1000 L1303,1015" fill="none" stroke="#000" stroke-width="1.5" stroke-linejoin="round" stroke-linecap="round"/><path d="M1330,1005 Q1350,995 1380,1003 L1400,1010 Q1420,1020 1425,1035" fill="none" stroke="#000" stroke-width="1.5" stroke-linejoin="round" stroke-linecap="round"/><path d="M1322,1020 Q1312,1050 1325,1075 Q1345,1082 1360,1075" fill="none" stroke="#000" stroke-width="1.5" stroke-linejoin="round" stroke-linecap="round"/><path d="M1335,1030 L1355,1065 M1340,1025 L1360,1062" fill="none" stroke="#000" stroke-width="1.5" stroke-linejoin="round" stroke-linecap="round"/><path d="M1326,1060 L1345,1052 L1343,1070 Z" fill="none" stroke="#000" stroke-width="1.4" stroke-linejoin="round" stroke-linecap="round"/><path d="M1360,1010 Q1378,1030 1372,1060" fill="none" stroke="#000" stroke-width="1.4" stroke-linejoin="round" stroke-linecap="round"/><ellipse cx="1336.0" cy="1012.0" rx="4.0" ry="4.0" fill="#fff" stroke="#000" stroke-width="1.5"/><ellipse cx="1363.0" cy="1075.0" rx="4.0" ry="5.0" fill="#fff" stroke="#000" stroke-width="1.5"/><ellipse cx="1409.0" cy="1032.0" rx="8.0" ry="10.0" fill="#fff" stroke="#000" stroke-width="1.6"/><ellipse cx="1410.0" cy="1032.0" rx="3.5" ry="4.5" fill="#fff" stroke="#000" stroke-width="1.3"/><path d="M1390,1030 Q1400,1050 1437,1062" fill="none" stroke="#000" stroke-width="1.4" stroke-linejoin="round" stroke-linecap="round"/><ellipse cx="1455.0" cy="1102.0" rx="9.0" ry="10.0" fill="#fff" stroke="#000" stroke-width="1.7"/><ellipse cx="1456.0" cy="1102.0" rx="5.0" ry="6.0" fill="#fff" stroke="#000" stroke-width="1.4"/><path d="M1425,1095 L1440,1088 L1440,1120 M1428,1115 L1442,1108" fill="none" stroke="#000" stroke-width="1.4" stroke-linejoin="round" stroke-linecap="round"/><path d="M1214.0,1132.0 L1250.0,1113.0" fill="none" stroke="#000" stroke-width="12.0" stroke-linejoin="round" stroke-linecap="round"/><path d="M1214.0,1132.0 L1250.0,1113.0" fill="none" stroke="#fff" stroke-width="8.0" stroke-linejoin="round" stroke-linecap="round"/><path d="M1250.5,1117.2 L1244.2,1111.6" fill="none" stroke="#000" stroke-width="1.5" stroke-linejoin="round" stroke-linecap="round"/><path d="M1247.4,1118.9 L1241.0,1113.2" fill="none" stroke="#000" stroke-width="1.5" stroke-linejoin="round" stroke-linecap="round"/><path d="M1244.2,1120.6 L1237.8,1114.9" fill="none" stroke="#000" stroke-width="1.5" stroke-linejoin="round" stroke-linecap="round"/><path d="M1241.0,1122.3 L1234.6,1116.6" fill="none" stroke="#000" stroke-width="1.5" stroke-linejoin="round" stroke-linecap="round"/><path d="M1237.8,1124.0 L1231.4,1118.3" fill="none" stroke="#000" stroke-width="1.5" stroke-linejoin="round" stroke-linecap="round"/><path d="M1234.6,1125.6 L1228.2,1120.0" fill="none" stroke="#000" stroke-width="1.5" stroke-linejoin="round" stroke-linecap="round"/><path d="M1222.7,1134.4 L1216.3,1141.1 L1207.6,1138.7 L1205.3,1129.6 L1211.7,1122.9 L1220.4,1125.3 Z" fill="#fff" stroke="#000" stroke-width="2.6"/><ellipse cx="1215.0" cy="1132.0" rx="5.0" ry="5.4" fill="#fff" stroke="#000" stroke-width="2.0"/><path d="M1209.5,1129.3 L1215.8,1138.3" fill="none" stroke="#000" stroke-width="1.6" stroke-linejoin="round" stroke-linecap="round"/><path d="M1213.1,1126.6 L1219.4,1135.6" fill="none" stroke="#000" stroke-width="1.6" stroke-linejoin="round" stroke-linecap="round"/><path d="M1274.0,1112.0 L1300.0,1099.0" fill="none" stroke="#000" stroke-width="13.0" stroke-linejoin="round" stroke-linecap="round"/><path d="M1274.0,1112.0 L1300.0,1099.0" fill="none" stroke="#fff" stroke-width="9.0" stroke-linejoin="round" stroke-linecap="round"/><path d="M1300.7,1103.7 L1294.0,1097.0" fill="none" stroke="#000" stroke-width="1.5" stroke-linejoin="round" stroke-linecap="round"/><path d="M1297.5,1105.3 L1290.7,1098.6" fill="none" stroke="#000" stroke-width="1.5" stroke-linejoin="round" stroke-linecap="round"/><path d="M1294.2,1106.9 L1287.5,1100.2" fill="none" stroke="#000" stroke-width="1.5" stroke-linejoin="round" stroke-linecap="round"/><path d="M1291.0,1108.5 L1284.3,1101.8" fill="none" stroke="#000" stroke-width="1.5" stroke-linejoin="round" stroke-linecap="round"/><path d="M1282.7,1114.4 L1276.3,1121.1 L1267.6,1118.7 L1265.3,1109.6 L1271.7,1102.9 L1280.4,1105.3 Z" fill="#fff" stroke="#000" stroke-width="2.6"/><ellipse cx="1275.0" cy="1112.0" rx="5.0" ry="5.4" fill="#fff" stroke="#000" stroke-width="2.0"/><path d="M1269.5,1109.3 L1275.8,1118.3" fill="none" stroke="#000" stroke-width="1.6" stroke-linejoin="round" stroke-linecap="round"/><path d="M1273.1,1106.6 L1279.4,1115.6" fill="none" stroke="#000" stroke-width="1.6" stroke-linejoin="round" stroke-linecap="round"/><path d="M1513.0,1135.0 L1483.0,1118.0" fill="none" stroke="#000" stroke-width="12.0" stroke-linejoin="round" stroke-linecap="round"/><path d="M1513.0,1135.0 L1483.0,1118.0" fill="none" stroke="#fff" stroke-width="8.0" stroke-linejoin="round" stroke-linecap="round"/><path d="M1486.3,1115.3 L1484.9,1123.7" fill="none" stroke="#000" stroke-width="1.5" stroke-linejoin="round" stroke-linecap="round"/><path d="M1489.4,1117.0 L1488.1,1125.5" fill="none" stroke="#000" stroke-width="1.5" stroke-linejoin="round" stroke-linecap="round"/><path d="M1492.5,1118.8 L1491.2,1127.2" fill="none" stroke="#000" stroke-width="1.5" stroke-linejoin="round" stroke-linecap="round"/><path d="M1495.7,1120.6 L1494.3,1129.0" fill="none" stroke="#000" stroke-width="1.5" stroke-linejoin="round" stroke-linecap="round"/><path d="M1498.8,1122.4 L1497.5,1130.8" fill="none" stroke="#000" stroke-width="1.5" stroke-linejoin="round" stroke-linecap="round"/><path d="M1522.7,1137.7 L1515.6,1145.1 L1505.9,1142.4 L1503.3,1132.3 L1510.4,1124.9 L1520.1,1127.6 Z" fill="#fff" stroke="#000" stroke-width="2.6"/><ellipse cx="1514.0" cy="1135.0" rx="5.5" ry="6.0" fill="#fff" stroke="#000" stroke-width="2.0"/><path d="M1508.0,1132.0 L1515.0,1142.0" fill="none" stroke="#000" stroke-width="1.6" stroke-linejoin="round" stroke-linecap="round"/><path d="M1512.0,1129.0 L1519.0,1139.0" fill="none" stroke="#000" stroke-width="1.6" stroke-linejoin="round" stroke-linecap="round"/><path d="M1804.0,1175.0 L1736.0,1136.0" fill="none" stroke="#000" stroke-width="11.0" stroke-linejoin="round" stroke-linecap="round"/><path d="M1804.0,1175.0 L1736.0,1136.0" fill="none" stroke="#fff" stroke-width="7.0" stroke-linejoin="round" stroke-linecap="round"/><path d="M1739.0,1133.7 L1738.2,1141.3" fill="none" stroke="#000" stroke-width="1.5" stroke-linejoin="round" stroke-linecap="round"/><path d="M1742.2,1135.5 L1741.3,1143.1" fill="none" stroke="#000" stroke-width="1.5" stroke-linejoin="round" stroke-linecap="round"/><path d="M1745.3,1137.3 L1744.4,1144.9" fill="none" stroke="#000" stroke-width="1.5" stroke-linejoin="round" stroke-linecap="round"/><path d="M1748.4,1139.1 L1747.5,1146.6" fill="none" stroke="#000" stroke-width="1.5" stroke-linejoin="round" stroke-linecap="round"/><path d="M1751.5,1140.9 L1750.7,1148.4" fill="none" stroke="#000" stroke-width="1.5" stroke-linejoin="round" stroke-linecap="round"/><path d="M1754.7,1142.7 L1753.8,1150.2" fill="none" stroke="#000" stroke-width="1.5" stroke-linejoin="round" stroke-linecap="round"/><path d="M1757.8,1144.5 L1756.9,1152.0" fill="none" stroke="#000" stroke-width="1.5" stroke-linejoin="round" stroke-linecap="round"/><path d="M1760.9,1146.2 L1760.0,1153.8" fill="none" stroke="#000" stroke-width="1.5" stroke-linejoin="round" stroke-linecap="round"/><path d="M1764.0,1148.0 L1763.1,1155.6" fill="none" stroke="#000" stroke-width="1.5" stroke-linejoin="round" stroke-linecap="round"/><path d="M1767.1,1149.8 L1766.3,1157.4" fill="none" stroke="#000" stroke-width="1.5" stroke-linejoin="round" stroke-linecap="round"/><path d="M1770.3,1151.6 L1769.4,1159.2" fill="none" stroke="#000" stroke-width="1.5" stroke-linejoin="round" stroke-linecap="round"/><path d="M1773.4,1153.4 L1772.5,1161.0" fill="none" stroke="#000" stroke-width="1.5" stroke-linejoin="round" stroke-linecap="round"/><path d="M1776.5,1155.2 L1775.6,1162.8" fill="none" stroke="#000" stroke-width="1.5" stroke-linejoin="round" stroke-linecap="round"/><path d="M1813.7,1177.7 L1806.6,1185.1 L1796.9,1182.4 L1794.3,1172.3 L1801.4,1164.9 L1811.1,1167.6 Z" fill="#fff" stroke="#000" stroke-width="2.6"/><ellipse cx="1805.0" cy="1175.0" rx="5.5" ry="6.0" fill="#fff" stroke="#000" stroke-width="2.0"/><path d="M1799.0,1172.0 L1806.0,1182.0" fill="none" stroke="#000" stroke-width="1.6" stroke-linejoin="round" stroke-linecap="round"/><path d="M1803.0,1169.0 L1810.0,1179.0" fill="none" stroke="#000" stroke-width="1.6" stroke-linejoin="round" stroke-linecap="round"/><path d="M1623.0,1175.0 L1623.0,1070.0 L1724.0,1128.0" fill="none" stroke="#000" stroke-width="1.6" stroke-linejoin="round" stroke-linecap="round" stroke-dasharray="22 8"/><ellipse cx="1590.0" cy="1195.0" rx="48.0" ry="62.0" fill="#fff" stroke="#000" stroke-width="1.7" transform="rotate(15 1590.0 1195.0)"/><path d="M1556,1165 Q1548,1200 1560,1240" fill="none" stroke="#000" stroke-width="1.4" stroke-linejoin="round" stroke-linecap="round"/><path d="M1558,1147 L1570,1133 L1622,1160 L1615,1180 Z" fill="#fff" stroke="#000" stroke-width="1.7"/><path d="M1576,1152 L1590,1148 L1596,1166 L1582,1170 Z" fill="#fff" stroke="#000" stroke-width="1.5"/><path d="M1510.0,1200.0 C1511.0,1204.2 1512.7,1218.0 1516.0,1225.0 C1519.3,1232.0 1522.7,1237.8 1530.0,1242.0 C1537.3,1246.2 1555.0,1248.7 1560.0,1250.0" fill="none" stroke="#000" stroke-width="25.4" stroke-linejoin="round" stroke-linecap="round"/><path d="M1510.0,1200.0 C1511.0,1204.2 1512.7,1218.0 1516.0,1225.0 C1519.3,1232.0 1522.7,1237.8 1530.0,1242.0 C1537.3,1246.2 1555.0,1248.7 1560.0,1250.0" fill="none" stroke="#fff" stroke-width="22.0" stroke-linejoin="round" stroke-linecap="round"/><ellipse cx="1509.0" cy="1198.0" rx="11.0" ry="9.0" fill="#fff" stroke="#000" stroke-width="1.7"/><path d="M1499,1214 Q1510,1222 1521,1214" fill="none" stroke="#000" stroke-width="1.5" stroke-linejoin="round" stroke-linecap="round"/><path d="M1554,1230 L1572,1222 L1592,1265 L1576,1274 Z" fill="#fff" stroke="#000" stroke-width="1.7"/><ellipse cx="1588.0" cy="1213.0" rx="14.0" ry="14.0" fill="#fff" stroke="#000" stroke-width="2.2"/><ellipse cx="1588.0" cy="1213.0" rx="8.0" ry="8.0" fill="#fff" stroke="#000" stroke-width="1.6"/><ellipse cx="1648.0" cy="1223.0" rx="60.0" ry="78.0" fill="#fff" stroke="#000" stroke-width="1.5" transform="rotate(18 1648.0 1223.0)"/><ellipse cx="1652.2" cy="1223.3" rx="60.0" ry="78.0" fill="none" stroke="#000" stroke-width="1.5" transform="rotate(18 1652.2 1223.3)"/><ellipse cx="1656.4" cy="1223.6" rx="60.0" ry="78.0" fill="none" stroke="#000" stroke-width="1.5" transform="rotate(18 1656.4 1223.6)"/><ellipse cx="1660.6" cy="1223.9" rx="60.0" ry="78.0" fill="none" stroke="#000" stroke-width="1.5" transform="rotate(18 1660.6 1223.9)"/><ellipse cx="1664.8" cy="1224.2" rx="60.0" ry="78.0" fill="none" stroke="#000" stroke-width="1.5" transform="rotate(18 1664.8 1224.2)"/><ellipse cx="1669.0" cy="1224.5" rx="60.0" ry="78.0" fill="none" stroke="#000" stroke-width="1.5" transform="rotate(18 1669.0 1224.5)"/><ellipse cx="1674.0" cy="1225.0" rx="62.0" ry="78.0" fill="#fff" stroke="#000" stroke-width="1.8" transform="rotate(18 1674.0 1225.0)"/><ellipse cx="1675.0" cy="1225.0" rx="27.0" ry="33.0" fill="#fff" stroke="#000" stroke-width="1.5" transform="rotate(18 1675.0 1225.0)"/><ellipse cx="1680.0" cy="1225.0" rx="16.0" ry="20.0" fill="#fff" stroke="#000" stroke-width="2.4" transform="rotate(18 1680.0 1225.0)"/><ellipse cx="1682.0" cy="1225.0" rx="9.0" ry="11.0" fill="#fff" stroke="#000" stroke-width="2.2" transform="rotate(18 1682.0 1225.0)"/><ellipse cx="1710.0" cy="1187.0" rx="10.0" ry="16.0" fill="#fff" stroke="#000" stroke-width="1.7" transform="rotate(55 1710.0 1187.0)"/><ellipse cx="1676.0" cy="1268.0" rx="11.0" ry="16.0" fill="#fff" stroke="#000" stroke-width="1.7" transform="rotate(15 1676.0 1268.0)"/><path d="M1672,1280 L1682,1256" fill="none" stroke="#000" stroke-width="1.3" stroke-linejoin="round" stroke-linecap="round"/><ellipse cx="764.0" cy="1411.0" rx="11.0" ry="27.0" fill="#fff" stroke="#000" stroke-width="1.2" transform="rotate(12 764.0 1411.0)"/><ellipse cx="772.2" cy="1413.5" rx="11.0" ry="29.1" fill="#fff" stroke="#000" stroke-width="1.2" transform="rotate(12 772.2 1413.5)"/><ellipse cx="780.4" cy="1416.0" rx="11.0" ry="31.2" fill="#fff" stroke="#000" stroke-width="1.2" transform="rotate(12 780.4 1416.0)"/><ellipse cx="788.6" cy="1418.5" rx="11.0" ry="33.4" fill="#fff" stroke="#000" stroke-width="1.2" transform="rotate(12 788.6 1418.5)"/><ellipse cx="796.8" cy="1421.0" rx="11.0" ry="35.5" fill="#fff" stroke="#000" stroke-width="1.2" transform="rotate(12 796.8 1421.0)"/><ellipse cx="804.9" cy="1423.5" rx="11.0" ry="37.6" fill="#fff" stroke="#000" stroke-width="1.2" transform="rotate(12 804.9 1423.5)"/><ellipse cx="813.1" cy="1426.0" rx="11.0" ry="39.8" fill="#fff" stroke="#000" stroke-width="1.2" transform="rotate(12 813.1 1426.0)"/><ellipse cx="821.3" cy="1428.5" rx="11.0" ry="41.9" fill="#fff" stroke="#000" stroke-width="1.2" transform="rotate(12 821.3 1428.5)"/><ellipse cx="829.5" cy="1433.2" rx="11.0" ry="41.8" fill="#fff" stroke="#000" stroke-width="1.2" transform="rotate(12 829.5 1433.2)"/><ellipse cx="837.7" cy="1438.5" rx="11.0" ry="41.1" fill="#fff" stroke="#000" stroke-width="1.2" transform="rotate(12 837.7 1438.5)"/><ellipse cx="845.9" cy="1443.7" rx="11.0" ry="40.5" fill="#fff" stroke="#000" stroke-width="1.2" transform="rotate(12 845.9 1443.7)"/><ellipse cx="854.1" cy="1449.0" rx="11.0" ry="39.9" fill="#fff" stroke="#000" stroke-width="1.2" transform="rotate(12 854.1 1449.0)"/><ellipse cx="862.2" cy="1454.3" rx="11.0" ry="39.2" fill="#fff" stroke="#000" stroke-width="1.2" transform="rotate(12 862.2 1454.3)"/><ellipse cx="870.4" cy="1459.5" rx="11.0" ry="38.6" fill="#fff" stroke="#000" stroke-width="1.2" transform="rotate(12 870.4 1459.5)"/><ellipse cx="878.6" cy="1464.8" rx="11.0" ry="37.9" fill="#fff" stroke="#000" stroke-width="1.2" transform="rotate(12 878.6 1464.8)"/><ellipse cx="886.8" cy="1470.1" rx="11.0" ry="37.3" fill="#fff" stroke="#000" stroke-width="1.2" transform="rotate(12 886.8 1470.1)"/><ellipse cx="895.0" cy="1475.3" rx="11.0" ry="36.6" fill="#fff" stroke="#000" stroke-width="1.2" transform="rotate(12 895.0 1475.3)"/><path d="M912,1440 L1016,1492 L1100,1543 L1198,1610 L1177,1664 L1100,1622 L1002,1567 L895,1512 Z" fill="#fff" stroke="none"/><path d="M912,1440 L1016,1492" fill="none" stroke="#000" stroke-width="1.2" stroke-linejoin="round" stroke-linecap="round"/><path d="M1016,1492 L1198,1611" fill="none" stroke="#000" stroke-width="1.2" stroke-linejoin="round" stroke-linecap="round"/><path d="M893,1512 L1177,1664" fill="none" stroke="#000" stroke-width="1.2" stroke-linejoin="round" stroke-linecap="round"/><path d="M973,1467 Q930,1470 934,1530" fill="none" stroke="#000" stroke-width="1.2" stroke-linejoin="round" stroke-linecap="round"/><path d="M978,1468 Q938,1475 938,1528" fill="none" stroke="#000" stroke-width="1.2" stroke-linejoin="round" stroke-linecap="round"/><path d="M1018,1492 Q975,1505 983,1556" fill="none" stroke="#000" stroke-width="1.2" stroke-linejoin="round" stroke-linecap="round"/><ellipse cx="912.0" cy="1558.0" rx="17.0" ry="22.0" fill="#fff" stroke="#000" stroke-width="1.2" transform="rotate(-10 912.0 1558.0)"/><ellipse cx="915.0" cy="1560.0" rx="12.0" ry="17.0" fill="#fff" stroke="#000" stroke-width="1.2" transform="rotate(-10 915.0 1560.0)"/><path d="M905,1536 L935,1528 L938,1566 L925,1580" fill="none" stroke="#000" stroke-width="1.2" stroke-linejoin="round" stroke-linecap="round"/><path d="M948,1540 Q968,1550 960,1570 L945,1565" fill="none" stroke="#000" stroke-width="1.2" stroke-linejoin="round" stroke-linecap="round"/><path d="M986,1455 L988,1480 Q996,1487 1004,1482 L1004,1457 Z" fill="#fff" stroke="#000" stroke-width="1.2"/><ellipse cx="995.0" cy="1455.0" rx="9.0" ry="4.0" fill="#fff" stroke="#000" stroke-width="1.2"/><ellipse cx="994.0" cy="1480.0" rx="11.0" ry="5.0" fill="none" stroke="#000" stroke-width="1.2"/><path d="M1140,1555 L1142,1577 Q1150,1584 1158,1579 L1158,1557 Z" fill="#fff" stroke="#000" stroke-width="1.2"/><ellipse cx="1149.0" cy="1556.0" rx="9.0" ry="4.0" fill="#fff" stroke="#000" stroke-width="1.2"/><ellipse cx="1149.0" cy="1577.0" rx="11.0" ry="5.0" fill="none" stroke="#000" stroke-width="1.2"/><ellipse cx="1151.0" cy="1640.0" rx="2.0" ry="3.0" fill="#000" stroke="#000" stroke-width="1"/><ellipse cx="1189.0" cy="1638.0" rx="16.0" ry="48.0" fill="#fff" stroke="#000" stroke-width="1.2" transform="rotate(-15 1189.0 1638.0)"/><ellipse cx="1194.0" cy="1638.0" rx="14.0" ry="44.0" fill="none" stroke="#000" stroke-width="1.2" transform="rotate(-15 1194.0 1638.0)"/><path d="M1198,1614 L1272,1653 L1260,1697 L1177,1664 Z" fill="#fff" stroke="none"/><path d="M1198,1614 L1272,1653 M1190,1630 L1268,1668 M1182,1648 L1262,1685 M1177,1664 L1260,1697" fill="none" stroke="#000" stroke-width="1.2" stroke-linejoin="round" stroke-linecap="round"/><ellipse cx="1355.0" cy="1752.0" rx="14.0" ry="47.0" fill="#fff" stroke="#000" stroke-width="1.2" transform="rotate(24 1355.0 1752.0)"/><ellipse cx="1364.6" cy="1757.0" rx="14.0" ry="47.6" fill="#fff" stroke="#000" stroke-width="1.2" transform="rotate(24 1364.6 1757.0)"/><ellipse cx="1374.3" cy="1762.0" rx="14.0" ry="48.1" fill="#fff" stroke="#000" stroke-width="1.2" transform="rotate(24 1374.3 1762.0)"/><ellipse cx="1383.9" cy="1767.0" rx="14.0" ry="48.7" fill="#fff" stroke="#000" stroke-width="1.2" transform="rotate(24 1383.9 1767.0)"/><ellipse cx="1393.6" cy="1772.0" rx="14.0" ry="49.3" fill="#fff" stroke="#000" stroke-width="1.2" transform="rotate(24 1393.6 1772.0)"/><ellipse cx="1403.2" cy="1777.0" rx="14.0" ry="49.9" fill="#fff" stroke="#000" stroke-width="1.2" transform="rotate(24 1403.2 1777.0)"/><ellipse cx="1412.9" cy="1782.0" rx="14.0" ry="50.4" fill="#fff" stroke="#000" stroke-width="1.2" transform="rotate(24 1412.9 1782.0)"/><ellipse cx="1422.5" cy="1787.0" rx="14.0" ry="51.0" fill="#fff" stroke="#000" stroke-width="1.2" transform="rotate(24 1422.5 1787.0)"/><ellipse cx="1432.1" cy="1792.0" rx="14.0" ry="50.1" fill="#fff" stroke="#000" stroke-width="1.2" transform="rotate(24 1432.1 1792.0)"/><ellipse cx="1441.8" cy="1797.0" rx="14.0" ry="47.3" fill="#fff" stroke="#000" stroke-width="1.2" transform="rotate(24 1441.8 1797.0)"/><ellipse cx="1451.4" cy="1802.0" rx="14.0" ry="44.4" fill="#fff" stroke="#000" stroke-width="1.2" transform="rotate(24 1451.4 1802.0)"/><ellipse cx="1461.1" cy="1807.0" rx="14.0" ry="41.6" fill="#fff" stroke="#000" stroke-width="1.2" transform="rotate(24 1461.1 1807.0)"/><ellipse cx="1470.7" cy="1812.0" rx="14.0" ry="38.7" fill="#fff" stroke="#000" stroke-width="1.2" transform="rotate(24 1470.7 1812.0)"/><ellipse cx="1480.4" cy="1817.0" rx="14.0" ry="35.9" fill="#fff" stroke="#000" stroke-width="1.2" transform="rotate(24 1480.4 1817.0)"/><ellipse cx="1490.0" cy="1822.0" rx="14.0" ry="33.0" fill="#fff" stroke="#000" stroke-width="1.2" transform="rotate(24 1490.0 1822.0)"/><ellipse cx="1492.0" cy="1822.0" rx="16.0" ry="30.0" fill="#fff" stroke="#000" stroke-width="1.2" transform="rotate(24 1492.0 1822.0)"/><path d="M1247,1712 L1241,1731 L1253,1758 L1278,1762 L1299,1739 L1310,1703 L1269,1663 Z" fill="#fff" stroke="#000" stroke-width="1.3"/><path d="M1244,1730 Q1262,1748 1295,1745" fill="none" stroke="#000" stroke-width="1.3" stroke-linejoin="round" stroke-linecap="round"/><path d="M1249,1717 L1258,1733 L1269,1727 L1262,1712 Z" fill="none" stroke="#000" stroke-width="1.3" stroke-linejoin="round" stroke-linecap="round"/><path d="M1247,1663 L1267,1612 L1290,1599 L1298,1584 L1318,1586 L1325,1595 L1372,1620 L1372,1650 L1350,1662 L1345,1680 L1360,1700 L1362,1720 L1345,1712 L1310,1703 L1265,1690 Z" fill="#fff" stroke="#000" stroke-width="1.3"/><ellipse cx="1338.0" cy="1627.0" rx="37.0" ry="35.0" fill="#fff" stroke="#000" stroke-width="1.5" transform="rotate(-20 1338.0 1627.0)"/><ellipse cx="1341.0" cy="1620.0" rx="30.0" ry="28.0" fill="#fff" stroke="#000" stroke-width="1.3" transform="rotate(-20 1341.0 1620.0)"/><ellipse cx="1343.0" cy="1612.0" rx="19.0" ry="17.0" fill="#fff" stroke="#000" stroke-width="1.3" transform="rotate(-20 1343.0 1612.0)"/><ellipse cx="1345.0" cy="1606.0" rx="12.0" ry="10.0" fill="#fff" stroke="#000" stroke-width="1.6" transform="rotate(-20 1345.0 1606.0)"/><path d="M1340,1605 L1352,1575 L1374,1580 L1360,1612 Z" fill="#fff" stroke="#000" stroke-width="1.3"/><ellipse cx="1350.0" cy="1587.0" rx="4.0" ry="7.0" fill="#fff" stroke="#000" stroke-width="1.3" transform="rotate(25 1350.0 1587.0)"/><ellipse cx="1363.0" cy="1575.0" rx="10.0" ry="9.0" fill="#fff" stroke="#000" stroke-width="1.4" transform="rotate(-20 1363.0 1575.0)"/><ellipse cx="1363.0" cy="1574.0" rx="5.0" ry="4.5" fill="#fff" stroke="#000" stroke-width="1.2" transform="rotate(-20 1363.0 1574.0)"/><path d="M1269,1663 Q1280,1700 1312,1704 Q1330,1700 1334,1686" fill="none" stroke="#000" stroke-width="1.6" stroke-linejoin="round" stroke-linecap="round"/><path d="M1275,1661 Q1286,1694 1312,1697" fill="none" stroke="#000" stroke-width="1.3" stroke-linejoin="round" stroke-linecap="round"/><path d="M1247,1663 L1268,1706 L1280,1700 L1263,1670" fill="none" stroke="#000" stroke-width="1.3" stroke-linejoin="round" stroke-linecap="round"/><path d="M1270,1620 L1283,1650 M1285,1600 L1300,1650" fill="none" stroke="#000" stroke-width="1.3" stroke-linejoin="round" stroke-linecap="round"/><path d="M1345,1680 L1370,1700 L1381,1730" fill="none" stroke="#000" stroke-width="1.3" stroke-linejoin="round" stroke-linecap="round"/><path d="M1306,1736 L1312,1760 Q1325,1775 1320,1790" fill="none" stroke="#000" stroke-width="1.3" stroke-linejoin="round" stroke-linecap="round"/><ellipse cx="1338.0" cy="1789.0" rx="17.0" ry="19.0" fill="#fff" stroke="#000" stroke-width="1.3" transform="rotate(-15 1338.0 1789.0)"/><ellipse cx="1340.0" cy="1790.0" rx="12.0" ry="14.0" fill="#fff" stroke="#000" stroke-width="1.3" transform="rotate(-15 1340.0 1790.0)"/><path d="M1318,1770 L1330,1812 L1355,1812 L1375,1790" fill="none" stroke="#000" stroke-width="1.3" stroke-linejoin="round" stroke-linecap="round"/><path d="M1068.0,1294.0 L1081.0,1287.0 L1091.0,1289.0 L1158.0,1372.0 L1168.0,1398.0 L1224.0,1432.0 L1301.0,1462.0 L1357.0,1455.0 L1368.0,1465.0 L1368.0,1478.0" fill="none" stroke="#000" stroke-width="8.2" stroke-linejoin="round" stroke-linecap="round"/><path d="M1068.0,1294.0 L1081.0,1287.0 L1091.0,1289.0 L1158.0,1372.0 L1168.0,1398.0 L1224.0,1432.0 L1301.0,1462.0 L1357.0,1455.0 L1368.0,1465.0 L1368.0,1478.0" fill="none" stroke="#fff" stroke-width="5.0" stroke-linejoin="round" stroke-linecap="round"/><path d="M1219.0,1398.0 L1232.0,1372.0 L1229.0,1354.0 L1204.0,1339.0 L1191.0,1340.0 L1156.0,1385.0 L1173.0,1403.0 L1224.0,1429.0 L1296.0,1457.0 L1311.0,1472.0 L1342.0,1462.0 L1376.0,1439.0 L1386.0,1444.0 L1391.0,1462.0" fill="none" stroke="#000" stroke-width="8.2" stroke-linejoin="round" stroke-linecap="round"/><path d="M1219.0,1398.0 L1232.0,1372.0 L1229.0,1354.0 L1204.0,1339.0 L1191.0,1340.0 L1156.0,1385.0 L1173.0,1403.0 L1224.0,1429.0 L1296.0,1457.0 L1311.0,1472.0 L1342.0,1462.0 L1376.0,1439.0 L1386.0,1444.0 L1391.0,1462.0" fill="none" stroke="#fff" stroke-width="5.0" stroke-linejoin="round" stroke-linecap="round"/><g transform="rotate(20 1060 1308)"><rect x="1051" y="1294" width="18" height="28" rx="3" fill="#fff" stroke="#000" stroke-width="1.7"/><rect x="1050" y="1292" width="20" height="10" fill="#fff" stroke="#000" stroke-width="1.7"/><path d="M1051.0,1306.0 L1069.0,1306.0" fill="none" stroke="#000" stroke-width="1.3" stroke-linejoin="round" stroke-linecap="round"/><path d="M1051.0,1310.0 L1069.0,1310.0" fill="none" stroke="#000" stroke-width="1.3" stroke-linejoin="round" stroke-linecap="round"/><path d="M1051.0,1314.0 L1069.0,1314.0" fill="none" stroke="#000" stroke-width="1.3" stroke-linejoin="round" stroke-linecap="round"/><path d="M1051.0,1318.0 L1069.0,1318.0" fill="none" stroke="#000" stroke-width="1.3" stroke-linejoin="round" stroke-linecap="round"/></g><g transform="rotate(15 1219 1404)"><rect x="1210" y="1390" width="18" height="28" rx="3" fill="#fff" stroke="#000" stroke-width="1.7"/><rect x="1209" y="1388" width="20" height="10" fill="#fff" stroke="#000" stroke-width="1.7"/><path d="M1210.0,1402.0 L1228.0,1402.0" fill="none" stroke="#000" stroke-width="1.3" stroke-linejoin="round" stroke-linecap="round"/><path d="M1210.0,1406.0 L1228.0,1406.0" fill="none" stroke="#000" stroke-width="1.3" stroke-linejoin="round" stroke-linecap="round"/><path d="M1210.0,1410.0 L1228.0,1410.0" fill="none" stroke="#000" stroke-width="1.3" stroke-linejoin="round" stroke-linecap="round"/><path d="M1210.0,1414.0 L1228.0,1414.0" fill="none" stroke="#000" stroke-width="1.3" stroke-linejoin="round" stroke-linecap="round"/></g><g transform="rotate(-20 1369 1487)"><rect x="1360" y="1473" width="18" height="28" rx="3" fill="#fff" stroke="#000" stroke-width="1.7"/><rect x="1359" y="1471" width="20" height="10" fill="#fff" stroke="#000" stroke-width="1.7"/><path d="M1360.0,1485.0 L1378.0,1485.0" fill="none" stroke="#000" stroke-width="1.3" stroke-linejoin="round" stroke-linecap="round"/><path d="M1360.0,1489.0 L1378.0,1489.0" fill="none" stroke="#000" stroke-width="1.3" stroke-linejoin="round" stroke-linecap="round"/><path d="M1360.0,1493.0 L1378.0,1493.0" fill="none" stroke="#000" stroke-width="1.3" stroke-linejoin="round" stroke-linecap="round"/><path d="M1360.0,1497.0 L1378.0,1497.0" fill="none" stroke="#000" stroke-width="1.3" stroke-linejoin="round" stroke-linecap="round"/></g><g transform="rotate(-15 1391 1470)"><rect x="1382" y="1456" width="18" height="28" rx="3" fill="#fff" stroke="#000" stroke-width="1.7"/><rect x="1381" y="1454" width="20" height="10" fill="#fff" stroke="#000" stroke-width="1.7"/><path d="M1382.0,1468.0 L1400.0,1468.0" fill="none" stroke="#000" stroke-width="1.3" stroke-linejoin="round" stroke-linecap="round"/><path d="M1382.0,1472.0 L1400.0,1472.0" fill="none" stroke="#000" stroke-width="1.3" stroke-linejoin="round" stroke-linecap="round"/><path d="M1382.0,1476.0 L1400.0,1476.0" fill="none" stroke="#000" stroke-width="1.3" stroke-linejoin="round" stroke-linecap="round"/><path d="M1382.0,1480.0 L1400.0,1480.0" fill="none" stroke="#000" stroke-width="1.3" stroke-linejoin="round" stroke-linecap="round"/></g><path d="M1373.0,1500.0 L1381.0,1516.0 L1265.0,1562.0 L1267.0,1572.0" fill="none" stroke="#000" stroke-width="1.6" stroke-linejoin="round" stroke-linecap="round" stroke-dasharray="22 8"/><path d="M1396.0,1484.0 L1406.0,1520.0 L1304.0,1562.0 L1301.0,1572.0" fill="none" stroke="#000" stroke-width="1.6" stroke-linejoin="round" stroke-linecap="round" stroke-dasharray="22 8"/><path d="M1266.0,1564.0 L1275.0,1599.0" fill="none" stroke="#000" stroke-width="1.6" stroke-linejoin="round" stroke-linecap="round" stroke-dasharray="22 8"/><path d="M1299.0,1570.0 L1305.0,1588.0" fill="none" stroke="#000" stroke-width="1.6" stroke-linejoin="round" stroke-linecap="round" stroke-dasharray="22 8"/><path d="M377.0,1807.0 Q378.0,1793.0 396.0,1791.0 Q414.0,1793.0 415.0,1807.0 L415.0,1815.0 Q408.0,1822.0 396.0,1822.0 Q384.0,1822.0 377.0,1815.0 Z" fill="#fff" stroke="#000" stroke-width="2.6"/><ellipse cx="396.0" cy="1801.0" rx="14.0" ry="8.5" fill="#fff" stroke="#000" stroke-width="2.2"/><path d="M386.0,1803.0 Q394.0,1793.0 399.0,1796.0 L408.0,1798.0 Q406.0,1807.0 396.0,1808.0 Z" fill="#000" stroke="#000" stroke-width="1.5"/><path d="M379.0,1821.0 L379.0,1812.0 Q382.0,1809.0 385.0,1812.0 L385.0,1821.0" fill="none" stroke="#000" stroke-width="2.0" stroke-linejoin="round" stroke-linecap="round"/><path d="M388.0,1821.0 L388.0,1812.0 Q391.0,1809.0 394.0,1812.0 L394.0,1821.0" fill="none" stroke="#000" stroke-width="2.0" stroke-linejoin="round" stroke-linecap="round"/><path d="M397.0,1821.0 L397.0,1812.0 Q400.0,1809.0 403.0,1812.0 L403.0,1821.0" fill="none" stroke="#000" stroke-width="2.0" stroke-linejoin="round" stroke-linecap="round"/><path d="M406.0,1821.0 L406.0,1812.0 Q409.0,1809.0 412.0,1812.0 L412.0,1821.0" fill="none" stroke="#000" stroke-width="2.0" stroke-linejoin="round" stroke-linecap="round"/><path d="M383.0,1862.0 Q388.0,1855.0 396.0,1855.0 Q404.0,1855.0 409.0,1862.0 L409.0,1868.0 Q404.0,1877.0 396.0,1877.0 Q388.0,1877.0 383.0,1868.0 Z" fill="#000" stroke="#000" stroke-width="1.5"/><path d="M390.0,1864.0 Q396.0,1859.0 401.0,1864.0 M392.0,1867.0 L398.0,1864.0 M388.0,1871.0 L404.0,1871.0 M393.0,1874.0 L399.0,1874.0" fill="none" stroke="#fff" stroke-width="1.2"/><g><rect x="359.5" y="1894.0" width="9" height="32.0" rx="1.5" fill="#fff" stroke="#000" stroke-width="2.2"/><path d="M360.0,1900.0 L368.0,1900.0" fill="none" stroke="#000" stroke-width="1.8" stroke-linejoin="round" stroke-linecap="round"/><path d="M360.0,1904.5 L368.0,1904.5" fill="none" stroke="#000" stroke-width="1.8" stroke-linejoin="round" stroke-linecap="round"/><path d="M360.0,1909.0 L368.0,1909.0" fill="none" stroke="#000" stroke-width="1.8" stroke-linejoin="round" stroke-linecap="round"/><path d="M360.0,1913.5 L368.0,1913.5" fill="none" stroke="#000" stroke-width="1.8" stroke-linejoin="round" stroke-linecap="round"/><path d="M360.0,1918.0 L368.0,1918.0" fill="none" stroke="#000" stroke-width="1.8" stroke-linejoin="round" stroke-linecap="round"/><path d="M360.0,1922.5 L368.0,1922.5" fill="none" stroke="#000" stroke-width="1.8" stroke-linejoin="round" stroke-linecap="round"/><path d="M356.0,1891.0 L356.0,1887.0 L359.2,1883.0 L368.8,1883.0 L372.0,1887.0 L372.0,1891.0 L368.8,1895.0 L359.2,1895.0 Z" fill="#fff" stroke="#000" stroke-width="2.4"/><ellipse cx="364.0" cy="1887.0" rx="4.4" ry="2.8" fill="#fff" stroke="#000" stroke-width="1.6"/></g><ellipse cx="364.0" cy="1939.0" rx="7.0" ry="5.0" fill="#fff" stroke="#000" stroke-width="1.5"/><path d="M371.0,1970.0 L371.0,1998.0 Q380.0,2004.0 404.0,2002.0 L421.0,1990.0 L421.0,1954.0 Z" fill="#fff" stroke="#000" stroke-width="2.2"/><path d="M373.0,2003.0 L380.0,2013.0 L391.0,2013.0 L403.0,2004.0" fill="#fff" stroke="#000" stroke-width="2.2"/><rect x="382.0" y="2013.0" width="9" height="13" rx="2" fill="#fff" stroke="#000" stroke-width="2.2"/><path d="M404.0,1998.0 L414.0,1990.0 L420.0,1998.0 L411.0,2008.0 Z" fill="#fff" stroke="#000" stroke-width="2.2"/><path d="M360.0,1991.0 L370.0,1990.0 L370.0,2009.0 L360.0,2003.0 Z" fill="#fff" stroke="#000" stroke-width="2.2"/><path d="M366.0,1956.0 Q368.0,1971.0 395.0,1974.0 Q422.0,1971.0 424.0,1956.0" fill="none" stroke="#000" stroke-width="3.2"/><ellipse cx="395.0" cy="1953.5" rx="29.0" ry="15.3" fill="#fff" stroke="#000" stroke-width="2.8"/><ellipse cx="395.0" cy="1953.7" rx="24.5" ry="12.0" fill="#fff" stroke="#000" stroke-width="1.6"/><ellipse cx="395.0" cy="1949.5" rx="13.0" ry="10.0" fill="#000" stroke="#000" stroke-width="1.5"/><ellipse cx="395.0" cy="1948.0" rx="5.0" ry="2.0" fill="#fff" stroke="#000" stroke-width="0"/><path d="M352.0,1964.0 L365.0,1961.0 L371.0,1970.0 L383.0,1977.0 L363.0,1983.0 L359.0,1977.0 L352.0,1972.0 Z" fill="#000" stroke="#000" stroke-width="1.5"/><path d="M355.0,1970.0 L365.0,1969.0 M362.0,1975.0 L371.0,1974.0 M365.0,1965.0 L369.0,1978.0" fill="none" stroke="#fff" stroke-width="1.3"/><path d="M363.0,1984.0 L403.0,1977.0" fill="none" stroke="#000" stroke-width="2.4" stroke-linejoin="round" stroke-linecap="round"/><path d="M363.0,1981.0 L397.0,1975.0" fill="none" stroke="#000" stroke-width="1.4" stroke-linejoin="round" stroke-linecap="round"/><g transform="translate(-7,895)"><path d="M506.0,1050.0 L507.0,990.0 L514.0,982.0 L532.0,992.0 L543.0,997.0 L558.0,996.0 L571.0,980.0 L616.0,959.0 L655.0,979.0 L709.0,971.0 L800.0,1023.0 L837.0,1043.0 L846.0,1040.0 L879.0,1058.0 L882.0,1068.0 L882.0,1088.0 L876.0,1093.0 L846.0,1077.0 L830.0,1050.0" fill="none" stroke="#000" stroke-width="8.6" stroke-linejoin="round" stroke-linecap="round"/><path d="M506.0,1050.0 L507.0,990.0 L514.0,982.0 L532.0,992.0 L543.0,997.0 L558.0,996.0 L571.0,980.0 L616.0,959.0 L655.0,979.0 L709.0,971.0 L800.0,1023.0 L837.0,1043.0 L846.0,1040.0 L879.0,1058.0 L882.0,1068.0 L882.0,1088.0 L876.0,1093.0 L846.0,1077.0 L830.0,1050.0" fill="none" stroke="#fff" stroke-width="5.0" stroke-linejoin="round" stroke-linecap="round"/><path d="M516.0,1044.0 L515.0,992.0 L520.0,988.0 L540.0,1000.0 L555.0,1003.0 L568.0,997.0 L616.0,968.0 L653.0,987.0 L709.0,986.0 L795.0,1033.0" fill="none" stroke="#000" stroke-width="8.6" stroke-linejoin="round" stroke-linecap="round"/><path d="M516.0,1044.0 L515.0,992.0 L520.0,988.0 L540.0,1000.0 L555.0,1003.0 L568.0,997.0 L616.0,968.0 L653.0,987.0 L709.0,986.0 L795.0,1033.0" fill="none" stroke="#fff" stroke-width="5.0" stroke-linejoin="round" stroke-linecap="round"/><path d="M506.0,1035.0 L506.0,1050.0" fill="none" stroke="#000" stroke-width="11.6" stroke-linejoin="round" stroke-linecap="round"/><path d="M506.0,1035.0 L506.0,1050.0" fill="none" stroke="#fff" stroke-width="8.0" stroke-linejoin="round" stroke-linecap="round"/><path d="M516.0,1030.0 L516.0,1044.0" fill="none" stroke="#000" stroke-width="11.6" stroke-linejoin="round" stroke-linecap="round"/><path d="M516.0,1030.0 L516.0,1044.0" fill="none" stroke="#fff" stroke-width="8.0" stroke-linejoin="round" stroke-linecap="round"/><path d="M530.0,1006.0 Q528.0,990.0 540.0,988.0 Q548.0,989.0 549.0,996.0 L543.0,1004.0 Z" fill="#fff" stroke="#000" stroke-width="1.8"/><ellipse cx="530.0" cy="1007.0" rx="6.0" ry="4.0" fill="#111" stroke="#000" stroke-width="1.8"/><path d="M794.0,1017.0 L806.0,1023.0 L808.0,1049.0 L796.0,1045.0 Z" fill="#fff" stroke="#000" stroke-width="1.9"/><rect x="812.0" y="1035.0" width="10" height="10" fill="#fff" stroke="#000" stroke-width="1.6" transform="rotate(25 817.0 1040.0)"/></g><path d="M874.0,1908.0 L887.0,1902.0" fill="none" stroke="#000" stroke-width="11.6" stroke-linejoin="round" stroke-linecap="round"/><path d="M874.0,1908.0 L887.0,1902.0" fill="none" stroke="#fff" stroke-width="8.0" stroke-linejoin="round" stroke-linecap="round"/><ellipse cx="887.0" cy="1902.0" rx="7.0" ry="8.0" fill="#fff" stroke="#000" stroke-width="1.7"/><path d="M498.0,1966.0 C498.5,1973.3 499.7,1994.7 501.0,2010.0 C502.3,2025.3 505.2,2050.0 506.0,2058.0" fill="none" stroke="#000" stroke-width="11.6" stroke-linejoin="round" stroke-linecap="round"/><path d="M498.0,1966.0 C498.5,1973.3 499.7,1994.7 501.0,2010.0 C502.3,2025.3 505.2,2050.0 506.0,2058.0" fill="none" stroke="#fff" stroke-width="8.0" stroke-linejoin="round" stroke-linecap="round"/><path d="M494.4,1972.7 L494.6,1977.7 L505.6,1977.3 L505.4,1972.3 Z" fill="#fff" stroke="#000" stroke-width="1.8"/><path d="M494.4,1972.7 L505.4,1972.3" fill="none" stroke="#000" stroke-width="1.8" stroke-linejoin="round" stroke-linecap="round"/><path d="M494.6,1977.7 L505.6,1977.3" fill="none" stroke="#000" stroke-width="1.8" stroke-linejoin="round" stroke-linecap="round"/><path d="M498.1,2028.6 L498.9,2036.6 L509.9,2035.4 L509.1,2027.4 Z" fill="#fff" stroke="#000" stroke-width="1.8"/><path d="M498.1,2028.6 L509.1,2027.4" fill="none" stroke="#000" stroke-width="1.8" stroke-linejoin="round" stroke-linecap="round"/><path d="M498.5,2032.6 L509.5,2031.4" fill="none" stroke="#000" stroke-width="1.8" stroke-linejoin="round" stroke-linecap="round"/><path d="M498.9,2036.6 L509.9,2035.4" fill="none" stroke="#000" stroke-width="1.8" stroke-linejoin="round" stroke-linecap="round"/><ellipse cx="506.0" cy="2062.0" rx="4.5" ry="3.5" fill="#fff" stroke="#000" stroke-width="1.8"/><path d="M511.0,1960.0 C511.5,1965.8 512.5,1985.0 514.0,1995.0 C515.5,2005.0 516.5,2011.8 520.0,2020.0 C523.5,2028.2 532.5,2040.0 535.0,2044.0" fill="none" stroke="#000" stroke-width="11.6" stroke-linejoin="round" stroke-linecap="round"/><path d="M511.0,1960.0 C511.5,1965.8 512.5,1985.0 514.0,1995.0 C515.5,2005.0 516.5,2011.8 520.0,2020.0 C523.5,2028.2 532.5,2040.0 535.0,2044.0" fill="none" stroke="#fff" stroke-width="8.0" stroke-linejoin="round" stroke-linecap="round"/><path d="M506.4,1960.7 L506.6,1965.7 L517.6,1965.3 L517.4,1960.3 Z" fill="#fff" stroke="#000" stroke-width="1.8"/><path d="M506.4,1960.7 L517.4,1960.3" fill="none" stroke="#000" stroke-width="1.8" stroke-linejoin="round" stroke-linecap="round"/><path d="M506.6,1965.7 L517.6,1965.3" fill="none" stroke="#000" stroke-width="1.8" stroke-linejoin="round" stroke-linecap="round"/><path d="M517.8,2029.3 L521.6,2036.3 L532.2,2030.7 L528.4,2023.7 Z" fill="#fff" stroke="#000" stroke-width="1.8"/><path d="M517.8,2029.3 L528.4,2023.7" fill="none" stroke="#000" stroke-width="1.8" stroke-linejoin="round" stroke-linecap="round"/><path d="M519.7,2032.8 L530.3,2027.2" fill="none" stroke="#000" stroke-width="1.8" stroke-linejoin="round" stroke-linecap="round"/><path d="M521.6,2036.3 L532.2,2030.7" fill="none" stroke="#000" stroke-width="1.8" stroke-linejoin="round" stroke-linecap="round"/><ellipse cx="536.0" cy="2046.0" rx="4.5" ry="3.5" fill="#fff" stroke="#000" stroke-width="1.8"/><path d="M488,1970 L504,1964 L515,1956 L522,1964" fill="none" stroke="#000" stroke-width="1.8" stroke-linejoin="round" stroke-linecap="round"/><path d="M404.0,2013.0 L373.0,2090.0" fill="none" stroke="#000" stroke-width="1.5" stroke-linejoin="round" stroke-linecap="round" stroke-dasharray="22 8"/><path d="M390.0,2030.0 L390.0,2105.0 L437.0,2132.0 L437.0,2166.0" fill="none" stroke="#000" stroke-width="1.5" stroke-linejoin="round" stroke-linecap="round" stroke-dasharray="22 8"/><path d="M313.0,2081.0 L320.0,2071.0 L366.0,2088.0" fill="none" stroke="#000" stroke-width="1.5" stroke-linejoin="round" stroke-linecap="round" stroke-dasharray="22 8"/><path d="M510.0,2070.0 L519.0,2099.0 L443.0,2139.0 L371.0,2175.0 L377.0,2217.0" fill="none" stroke="#000" stroke-width="1.5" stroke-linejoin="round" stroke-linecap="round" stroke-dasharray="22 8"/><path d="M310.0,2090.0 L298.0,2117.0 L293.0,2154.0 L264.0,2192.0 L255.0,2260.0 L247.0,2323.0 L242.0,2350.0" fill="none" stroke="#000" stroke-width="11.6" stroke-linejoin="round" stroke-linecap="round"/><path d="M310.0,2090.0 L298.0,2117.0 L293.0,2154.0 L264.0,2192.0 L255.0,2260.0 L247.0,2323.0 L242.0,2350.0" fill="none" stroke="#fff" stroke-width="8.0" stroke-linejoin="round" stroke-linecap="round"/><path d="M397.0,2202.0 L408.0,2221.0 L346.0,2262.0 L320.0,2263.0 L307.0,2288.0 L283.0,2301.0 L255.0,2331.0 L242.0,2352.0 L193.0,2424.0" fill="none" stroke="#000" stroke-width="9.6" stroke-linejoin="round" stroke-linecap="round"/><path d="M397.0,2202.0 L408.0,2221.0 L346.0,2262.0 L320.0,2263.0 L307.0,2288.0 L283.0,2301.0 L255.0,2331.0 L242.0,2352.0 L193.0,2424.0" fill="none" stroke="#fff" stroke-width="6.0" stroke-linejoin="round" stroke-linecap="round"/><path d="M378.0,2219.0 L378.0,2234.0 L341.0,2256.0 L320.0,2263.0" fill="none" stroke="#000" stroke-width="9.6" stroke-linejoin="round" stroke-linecap="round"/><path d="M378.0,2219.0 L378.0,2234.0 L341.0,2256.0 L320.0,2263.0" fill="none" stroke="#fff" stroke-width="6.0" stroke-linejoin="round" stroke-linecap="round"/><path d="M304,2272 L316,2265 L322,2282 L312,2290 Z" fill="#fff" stroke="#000" stroke-width="1.8" stroke-linejoin="round" stroke-linecap="round"/><path d="M242.0,2351.0 L189.0,2350.0 L152.0,2370.0 L158.0,2385.0 L173.0,2417.0" fill="none" stroke="#000" stroke-width="9.6" stroke-linejoin="round" stroke-linecap="round"/><path d="M242.0,2351.0 L189.0,2350.0 L152.0,2370.0 L158.0,2385.0 L173.0,2417.0" fill="none" stroke="#fff" stroke-width="6.0" stroke-linejoin="round" stroke-linecap="round"/><path d="M221.0,2385.0 L195.0,2420.0" fill="none" stroke="#000" stroke-width="9.6" stroke-linejoin="round" stroke-linecap="round"/><path d="M221.0,2385.0 L195.0,2420.0" fill="none" stroke="#fff" stroke-width="6.0" stroke-linejoin="round" stroke-linecap="round"/><path d="M151.0,2414.0 L197.0,2428.0" fill="none" stroke="#000" stroke-width="11.6" stroke-linejoin="round" stroke-linecap="round"/><path d="M151.0,2414.0 L197.0,2428.0" fill="none" stroke="#fff" stroke-width="8.0" stroke-linejoin="round" stroke-linecap="round"/><path d="M152.0,2424.0 L196.0,2434.0" fill="none" stroke="#000" stroke-width="9.6" stroke-linejoin="round" stroke-linecap="round"/><path d="M152.0,2424.0 L196.0,2434.0" fill="none" stroke="#fff" stroke-width="6.0" stroke-linejoin="round" stroke-linecap="round"/><ellipse cx="173.0" cy="2395.0" rx="5.0" ry="6.0" fill="#111" stroke="#000" stroke-width="1.8"/><path d="M440.0,2180.0 C440.8,2182.3 441.7,2191.2 445.0,2194.0 C448.3,2196.8 448.7,2199.0 460.0,2197.0 C471.3,2195.0 492.3,2192.3 513.0,2182.0 C533.7,2171.7 572.2,2142.8 584.0,2135.0" fill="none" stroke="#000" stroke-width="16.6" stroke-linejoin="round" stroke-linecap="round"/><path d="M440.0,2180.0 C440.8,2182.3 441.7,2191.2 445.0,2194.0 C448.3,2196.8 448.7,2199.0 460.0,2197.0 C471.3,2195.0 492.3,2192.3 513.0,2182.0 C533.7,2171.7 572.2,2142.8 584.0,2135.0" fill="none" stroke="#fff" stroke-width="13.0" stroke-linejoin="round" stroke-linecap="round"/><rect x="432" y="2166" width="16" height="16" fill="#fff" stroke="#000" stroke-width="1.8"/><ellipse cx="440.0" cy="2166.0" rx="8.0" ry="4.5" fill="#fff" stroke="#000" stroke-width="1.8"/><path d="M591.7,2137.5 L598.4,2133.1 L590.3,2120.5 L583.6,2124.9 Z" fill="#fff" stroke="#000" stroke-width="1.8"/><path d="M591.7,2137.5 L583.6,2124.9" fill="none" stroke="#000" stroke-width="1.8" stroke-linejoin="round" stroke-linecap="round"/><path d="M595.1,2135.3 L586.9,2122.7" fill="none" stroke="#000" stroke-width="1.8" stroke-linejoin="round" stroke-linecap="round"/><path d="M598.4,2133.1 L590.3,2120.5" fill="none" stroke="#000" stroke-width="1.8" stroke-linejoin="round" stroke-linecap="round"/><path d="M600.0,2123.0 L635.0,2104.0 L661.0,2114.0 L759.0,2168.0 L774.0,2185.0 L815.0,2218.0" fill="none" stroke="#000" stroke-width="12.6" stroke-linejoin="round" stroke-linecap="round"/><path d="M600.0,2123.0 L635.0,2104.0 L661.0,2114.0 L759.0,2168.0 L774.0,2185.0 L815.0,2218.0" fill="none" stroke="#fff" stroke-width="9.0" stroke-linejoin="round" stroke-linecap="round"/><path d="M815.1,2225.2 L821.2,2230.3 L830.9,2218.8 L824.8,2213.7 Z" fill="#fff" stroke="#000" stroke-width="1.8"/><path d="M815.1,2225.2 L824.8,2213.7" fill="none" stroke="#000" stroke-width="1.8" stroke-linejoin="round" stroke-linecap="round"/><path d="M818.2,2227.7 L827.8,2216.3" fill="none" stroke="#000" stroke-width="1.8" stroke-linejoin="round" stroke-linecap="round"/><path d="M821.2,2230.3 L830.9,2218.8" fill="none" stroke="#000" stroke-width="1.8" stroke-linejoin="round" stroke-linecap="round"/><path d="M830.0,2230.0 C831.5,2233.0 838.0,2242.7 839.0,2248.0 C840.0,2253.3 840.5,2257.7 836.0,2262.0 C831.5,2266.3 817.7,2267.5 812.0,2274.0 C806.3,2280.5 803.7,2296.5 802.0,2301.0" fill="none" stroke="#000" stroke-width="17.6" stroke-linejoin="round" stroke-linecap="round"/><path d="M830.0,2230.0 C831.5,2233.0 838.0,2242.7 839.0,2248.0 C840.0,2253.3 840.5,2257.7 836.0,2262.0 C831.5,2266.3 817.7,2267.5 812.0,2274.0 C806.3,2280.5 803.7,2296.5 802.0,2301.0" fill="none" stroke="#fff" stroke-width="14.0" stroke-linejoin="round" stroke-linecap="round"/><path d="M652,2117 L646,2082 L656,2076 L664,2082 L656,2086 L660,2120" fill="none" stroke="#000" stroke-width="1.8" stroke-linejoin="round" stroke-linecap="round"/><path d="M764,2180 L758,2144 L768,2136 L776,2140 L768,2146 L772,2182" fill="none" stroke="#000" stroke-width="1.8" stroke-linejoin="round" stroke-linecap="round"/><g><rect x="651.5" y="2033.0" width="9" height="19.0" rx="1.5" fill="#fff" stroke="#000" stroke-width="2.2"/><path d="M652.0,2039.0 L660.0,2039.0" fill="none" stroke="#000" stroke-width="1.8" stroke-linejoin="round" stroke-linecap="round"/><path d="M652.0,2043.5 L660.0,2043.5" fill="none" stroke="#000" stroke-width="1.8" stroke-linejoin="round" stroke-linecap="round"/><path d="M652.0,2048.0 L660.0,2048.0" fill="none" stroke="#000" stroke-width="1.8" stroke-linejoin="round" stroke-linecap="round"/><path d="M647.0,2030.0 L647.0,2026.0 L650.6,2022.0 L661.4,2022.0 L665.0,2026.0 L665.0,2030.0 L661.4,2034.0 L650.6,2034.0 Z" fill="#fff" stroke="#000" stroke-width="2.4"/><ellipse cx="656.0" cy="2026.0" rx="5.0" ry="2.8" fill="#fff" stroke="#000" stroke-width="1.6"/></g><path d="M794.0,2260.0 L792.0,2272.0 L785.0,2280.0 L781.0,2300.0 L774.0,2318.0" fill="none" stroke="#000" stroke-width="8.6" stroke-linejoin="round" stroke-linecap="round"/><path d="M794.0,2260.0 L792.0,2272.0 L785.0,2280.0 L781.0,2300.0 L774.0,2318.0" fill="none" stroke="#fff" stroke-width="5.0" stroke-linejoin="round" stroke-linecap="round"/><path d="M775.2,2273.4 L768.3,2277.4 L774.8,2288.6 L781.7,2284.6 Z" fill="#fff" stroke="#000" stroke-width="1.8"/><path d="M775.2,2273.4 L781.7,2284.6" fill="none" stroke="#000" stroke-width="1.8" stroke-linejoin="round" stroke-linecap="round"/><path d="M771.8,2275.4 L778.2,2286.6" fill="none" stroke="#000" stroke-width="1.8" stroke-linejoin="round" stroke-linecap="round"/><path d="M768.3,2277.4 L774.8,2288.6" fill="none" stroke="#000" stroke-width="1.8" stroke-linejoin="round" stroke-linecap="round"/><path d="M765.0,2286.0 L697.0,2319.0" fill="none" stroke="#000" stroke-width="17.6" stroke-linejoin="round" stroke-linecap="round"/><path d="M765.0,2286.0 L697.0,2319.0" fill="none" stroke="#fff" stroke-width="14.0" stroke-linejoin="round" stroke-linecap="round"/><path d="M688.0,2316.9 L681.0,2320.9 L688.0,2333.1 L695.0,2329.1 Z" fill="#fff" stroke="#000" stroke-width="1.8"/><path d="M688.0,2316.9 L695.0,2329.1" fill="none" stroke="#000" stroke-width="1.8" stroke-linejoin="round" stroke-linecap="round"/><path d="M684.5,2318.9 L691.5,2331.1" fill="none" stroke="#000" stroke-width="1.8" stroke-linejoin="round" stroke-linecap="round"/><path d="M681.0,2320.9 L688.0,2333.1" fill="none" stroke="#000" stroke-width="1.8" stroke-linejoin="round" stroke-linecap="round"/><path d="M679.0,2333.0 L661.0,2345.0 L583.0,2423.0 L580.0,2450.0" fill="none" stroke="#000" stroke-width="8.6" stroke-linejoin="round" stroke-linecap="round"/><path d="M679.0,2333.0 L661.0,2345.0 L583.0,2423.0 L580.0,2450.0" fill="none" stroke="#fff" stroke-width="5.0" stroke-linejoin="round" stroke-linecap="round"/><path d="M652,2330 L664,2324 L668,2340 L656,2346 Z" fill="#fff" stroke="#000" stroke-width="1.6" stroke-linejoin="round" stroke-linecap="round"/><path d="M573.5,2456.0 L573.5,2464.0 L588.5,2464.0 L588.5,2456.0 Z" fill="#fff" stroke="#000" stroke-width="1.8"/><path d="M573.5,2456.0 L588.5,2456.0" fill="none" stroke="#000" stroke-width="1.8" stroke-linejoin="round" stroke-linecap="round"/><path d="M573.5,2460.0 L588.5,2460.0" fill="none" stroke="#000" stroke-width="1.8" stroke-linejoin="round" stroke-linecap="round"/><path d="M573.5,2464.0 L588.5,2464.0" fill="none" stroke="#000" stroke-width="1.8" stroke-linejoin="round" stroke-linecap="round"/><path d="M580.0,2470.0 C578.7,2473.7 580.3,2482.3 572.0,2492.0 C563.7,2501.7 552.8,2518.0 530.0,2528.0 C507.2,2538.0 462.2,2550.7 435.0,2552.0 C407.8,2553.3 381.0,2540.8 367.0,2536.0 C353.0,2531.2 353.7,2525.2 351.0,2523.0" fill="none" stroke="#000" stroke-width="18.6" stroke-linejoin="round" stroke-linecap="round"/><path d="M580.0,2470.0 C578.7,2473.7 580.3,2482.3 572.0,2492.0 C563.7,2501.7 552.8,2518.0 530.0,2528.0 C507.2,2538.0 462.2,2550.7 435.0,2552.0 C407.8,2553.3 381.0,2540.8 367.0,2536.0 C353.0,2531.2 353.7,2525.2 351.0,2523.0" fill="none" stroke="#fff" stroke-width="15.0" stroke-linejoin="round" stroke-linecap="round"/><path d="M339.0,2524.1 L346.0,2528.1 L353.0,2515.9 L346.0,2511.9 Z" fill="#fff" stroke="#000" stroke-width="1.8"/><path d="M339.0,2524.1 L346.0,2511.9" fill="none" stroke="#000" stroke-width="1.8" stroke-linejoin="round" stroke-linecap="round"/><path d="M342.5,2526.1 L349.5,2513.9" fill="none" stroke="#000" stroke-width="1.8" stroke-linejoin="round" stroke-linecap="round"/><path d="M346.0,2528.1 L353.0,2515.9" fill="none" stroke="#000" stroke-width="1.8" stroke-linejoin="round" stroke-linecap="round"/><path d="M340.0,2516.0 L335.0,2513.0 L372.0,2486.0 L367.0,2471.0" fill="none" stroke="#000" stroke-width="8.6" stroke-linejoin="round" stroke-linecap="round"/><path d="M340.0,2516.0 L335.0,2513.0 L372.0,2486.0 L367.0,2471.0" fill="none" stroke="#fff" stroke-width="5.0" stroke-linejoin="round" stroke-linecap="round"/><ellipse cx="366.0" cy="2469.0" rx="4.0" ry="4.0" fill="#111" stroke="#000" stroke-width="1.8"/><ellipse cx="1237.0" cy="2062.0" rx="74.0" ry="96.0" fill="#fff" stroke="#000" stroke-width="1.9" transform="rotate(25 1237.0 2062.0)"/><ellipse cx="1239.8" cy="2062.3" rx="72.6" ry="94.4" fill="none" stroke="#000" stroke-width="1.5" transform="rotate(25 1239.8 2062.3)"/><ellipse cx="1242.6" cy="2062.6" rx="71.2" ry="92.8" fill="none" stroke="#000" stroke-width="1.5" transform="rotate(25 1242.6 2062.6)"/><ellipse cx="1245.4" cy="2062.9" rx="69.8" ry="91.2" fill="none" stroke="#000" stroke-width="1.5" transform="rotate(25 1245.4 2062.9)"/><ellipse cx="1248.2" cy="2063.2" rx="68.4" ry="89.6" fill="none" stroke="#000" stroke-width="1.5" transform="rotate(25 1248.2 2063.2)"/><ellipse cx="1251.0" cy="2063.5" rx="67.0" ry="88.0" fill="none" stroke="#000" stroke-width="1.5" transform="rotate(25 1251.0 2063.5)"/><ellipse cx="1260.0" cy="2070.0" rx="60.0" ry="82.0" fill="#fff" stroke="#000" stroke-width="1.9" transform="rotate(25 1260.0 2070.0)"/><ellipse cx="1266.0" cy="2020.0" rx="9.0" ry="20.0" fill="#fff" stroke="#000" stroke-width="1.8" transform="rotate(5 1266.0 2020.0)"/><path d="M1200,2080 Q1215,2060 1240,2060" fill="none" stroke="#000" stroke-width="1.6" stroke-linejoin="round" stroke-linecap="round"/><path d="M1222,2085 L1243,2070 L1289,2049 L1310,2036 L1340,2047 L1337,2061 L1353,2070 L1376,2088 L1380,2143 L1378,2152 L1362,2173 L1317,2182 L1296,2166 L1280,2171 L1270,2200 L1225,2195 L1205,2150 Z" fill="#fff" stroke="#000" stroke-width="1.9"/><ellipse cx="1342.0" cy="2128.0" rx="38.0" ry="50.0" fill="#fff" stroke="#000" stroke-width="1.9" transform="rotate(18 1342.0 2128.0)"/><ellipse cx="1345.0" cy="2129.0" rx="31.0" ry="43.0" fill="#fff" stroke="#000" stroke-width="1.6" transform="rotate(18 1345.0 2129.0)"/><ellipse cx="1348.0" cy="2130.0" rx="25.0" ry="36.0" fill="#fff" stroke="#000" stroke-width="1.4" transform="rotate(18 1348.0 2130.0)"/><path d="M1330,2110 L1335,2100 M1338,2130 Q1350,2140 1360,2125" fill="none" stroke="#000" stroke-width="1.4" stroke-linejoin="round" stroke-linecap="round"/><ellipse cx="1333.0" cy="2060.0" rx="5.0" ry="7.0" fill="#fff" stroke="#000" stroke-width="1.6" transform="rotate(20 1333.0 2060.0)"/><ellipse cx="1313.0" cy="2106.0" rx="4.0" ry="6.0" fill="#fff" stroke="#000" stroke-width="1.5" transform="rotate(20 1313.0 2106.0)"/><ellipse cx="1366.0" cy="2162.0" rx="4.0" ry="6.0" fill="#fff" stroke="#000" stroke-width="1.5" transform="rotate(20 1366.0 2162.0)"/><path d="M1243,2072 L1262,2058 L1312,2086 L1310,2102 L1290,2108 L1245,2086 Z" fill="#fff" stroke="#000" stroke-width="1.8"/><path d="M1265,2078 L1276,2073 L1282,2090 L1271,2095 Z" fill="#fff" stroke="#000" stroke-width="1.5"/><path d="M1240,2130 L1262,2180 M1262,2110 L1280,2170" fill="none" stroke="#000" stroke-width="1.4" stroke-linejoin="round" stroke-linecap="round"/><ellipse cx="1213.0" cy="2116.0" rx="22.0" ry="25.0" fill="#fff" stroke="#000" stroke-width="1.8"/><ellipse cx="1207.0" cy="2111.0" rx="15.0" ry="15.0" fill="#fff" stroke="#000" stroke-width="1.9"/><ellipse cx="1207.0" cy="2111.0" rx="8.0" ry="8.0" fill="#fff" stroke="#000" stroke-width="1.5"/><path d="M1200,2111 L1214,2111" fill="none" stroke="#000" stroke-width="1.5" stroke-linejoin="round" stroke-linecap="round"/><path d="M1166.0,2178.0 C1167.0,2181.7 1167.2,2193.7 1172.0,2200.0 C1176.8,2206.3 1184.0,2213.0 1195.0,2216.0 C1206.0,2219.0 1226.2,2220.2 1238.0,2218.0 C1249.8,2215.8 1261.3,2205.5 1266.0,2203.0" fill="none" stroke="#000" stroke-width="29.6" stroke-linejoin="round" stroke-linecap="round"/><path d="M1166.0,2178.0 C1167.0,2181.7 1167.2,2193.7 1172.0,2200.0 C1176.8,2206.3 1184.0,2213.0 1195.0,2216.0 C1206.0,2219.0 1226.2,2220.2 1238.0,2218.0 C1249.8,2215.8 1261.3,2205.5 1266.0,2203.0" fill="none" stroke="#fff" stroke-width="26.0" stroke-linejoin="round" stroke-linecap="round"/><ellipse cx="1165.0" cy="2172.0" rx="13.0" ry="11.0" fill="#fff" stroke="#000" stroke-width="1.8"/><path d="M1152,2192 Q1165,2200 1179,2192" fill="none" stroke="#000" stroke-width="1.5" stroke-linejoin="round" stroke-linecap="round"/><ellipse cx="1234.0" cy="2178.0" rx="9.0" ry="9.0" fill="#fff" stroke="#000" stroke-width="1.7"/><ellipse cx="1234.0" cy="2178.0" rx="4.0" ry="4.0" fill="#fff" stroke="#000" stroke-width="1.3"/><ellipse cx="1262.0" cy="2203.0" rx="8.0" ry="8.0" fill="#fff" stroke="#000" stroke-width="1.7"/><ellipse cx="1262.0" cy="2203.0" rx="4.0" ry="4.0" fill="#fff" stroke="#000" stroke-width="1.3"/><path d="M1076.0,2002.0 L1145.0,2040.0" fill="none" stroke="#000" stroke-width="9.2" stroke-linejoin="round" stroke-linecap="round"/><path d="M1076.0,2002.0 L1145.0,2040.0" fill="none" stroke="#fff" stroke-width="6.0" stroke-linejoin="round" stroke-linecap="round"/><path d="M1140.0,2033.0 L1135.0,2042.0" fill="none" stroke="#000" stroke-width="1.2" stroke-linejoin="round" stroke-linecap="round"/><path d="M1136.5,2031.0 L1131.5,2040.0" fill="none" stroke="#000" stroke-width="1.2" stroke-linejoin="round" stroke-linecap="round"/><path d="M1133.0,2029.0 L1128.0,2038.0" fill="none" stroke="#000" stroke-width="1.2" stroke-linejoin="round" stroke-linecap="round"/><path d="M1129.5,2027.0 L1124.5,2036.0" fill="none" stroke="#000" stroke-width="1.2" stroke-linejoin="round" stroke-linecap="round"/><path d="M1126.0,2025.0 L1121.0,2034.0" fill="none" stroke="#000" stroke-width="1.2" stroke-linejoin="round" stroke-linecap="round"/><ellipse cx="1073.0" cy="2000.0" rx="9.0" ry="12.0" fill="#fff" stroke="#000" stroke-width="1.8" transform="rotate(20 1073.0 2000.0)"/><path d="M1400.0,2066.0 L1430.0,2083.0" fill="none" stroke="#000" stroke-width="13.2" stroke-linejoin="round" stroke-linecap="round"/><path d="M1400.0,2066.0 L1430.0,2083.0" fill="none" stroke="#fff" stroke-width="10.0" stroke-linejoin="round" stroke-linecap="round"/><path d="M1427.0,2076.0 L1422.0,2086.0" fill="none" stroke="#000" stroke-width="1.2" stroke-linejoin="round" stroke-linecap="round"/><path d="M1423.8,2074.2 L1418.8,2084.2" fill="none" stroke="#000" stroke-width="1.2" stroke-linejoin="round" stroke-linecap="round"/><path d="M1420.6,2072.4 L1415.6,2082.4" fill="none" stroke="#000" stroke-width="1.2" stroke-linejoin="round" stroke-linecap="round"/><path d="M1417.4,2070.6 L1412.4,2080.6" fill="none" stroke="#000" stroke-width="1.2" stroke-linejoin="round" stroke-linecap="round"/><path d="M1414.2,2068.8 L1409.2,2078.8" fill="none" stroke="#000" stroke-width="1.2" stroke-linejoin="round" stroke-linecap="round"/><path d="M1386,2062 L1394,2054 L1410,2064 L1402,2078 Z" fill="#fff" stroke="#000" stroke-width="1.6"/><ellipse cx="1390.0" cy="2066.0" rx="5.0" ry="8.0" fill="#fff" stroke="#000" stroke-width="1.6" transform="rotate(30 1390.0 2066.0)"/><ellipse cx="1457.0" cy="2097.0" rx="9.0" ry="12.0" fill="#fff" stroke="#000" stroke-width="1.9" transform="rotate(20 1457.0 2097.0)"/><ellipse cx="1457.0" cy="2098.0" rx="4.0" ry="5.0" fill="#fff" stroke="#000" stroke-width="1.5" transform="rotate(20 1457.0 2098.0)"/><path d="M1503.0,2060.0 L1507.0,2088.0" fill="none" stroke="#000" stroke-width="16.4" stroke-linejoin="round" stroke-linecap="round"/><path d="M1503.0,2060.0 L1507.0,2088.0" fill="none" stroke="#fff" stroke-width="13.0" stroke-linejoin="round" stroke-linecap="round"/><ellipse cx="1503.0" cy="2058.0" rx="7.0" ry="5.0" fill="#fff" stroke="#000" stroke-width="1.6"/><rect x="1663" y="2066" width="10" height="40" fill="#fff" stroke="#000" stroke-width="1.6"/><path d="M1663.0,2084.0 L1673.0,2085.0" fill="none" stroke="#000" stroke-width="1.2" stroke-linejoin="round" stroke-linecap="round"/><path d="M1663.0,2087.5 L1673.0,2088.5" fill="none" stroke="#000" stroke-width="1.2" stroke-linejoin="round" stroke-linecap="round"/><path d="M1663.0,2091.0 L1673.0,2092.0" fill="none" stroke="#000" stroke-width="1.2" stroke-linejoin="round" stroke-linecap="round"/><path d="M1663.0,2094.5 L1673.0,2095.5" fill="none" stroke="#000" stroke-width="1.2" stroke-linejoin="round" stroke-linecap="round"/><path d="M1663.0,2098.0 L1673.0,2099.0" fill="none" stroke="#000" stroke-width="1.2" stroke-linejoin="round" stroke-linecap="round"/><path d="M1663.0,2101.5 L1673.0,2102.5" fill="none" stroke="#000" stroke-width="1.2" stroke-linejoin="round" stroke-linecap="round"/><rect x="1660" y="2054" width="16" height="14" rx="2" fill="#fff" stroke="#000" stroke-width="1.7"/><ellipse cx="1668.0" cy="2054.0" rx="8.0" ry="4.0" fill="#fff" stroke="#000" stroke-width="1.6"/><ellipse cx="1668.0" cy="2129.0" rx="12.0" ry="8.0" fill="#fff" stroke="#000" stroke-width="1.9"/><ellipse cx="1668.0" cy="2129.0" rx="5.0" ry="3.0" fill="#fff" stroke="#000" stroke-width="1.5"/><path d="M1432,2211 L1445,2188 L1501,2140 L1552,2121 L1624,2136 L1667,2161 L1667,2176 L1688,2188 L1688,2205 L1669,2216 L1630,2205 L1609,2211 L1563,2265 L1535,2274 Z" fill="#fff" stroke="#000" stroke-width="1.9"/><path d="M1609,2211 L1628,2213 L1624,2278 L1570,2293 L1555,2274 L1563,2265 Z" fill="#fff" stroke="#000" stroke-width="1.8"/><path d="M1600,2214 L1600,2282 M1585,2228 L1583,2285" fill="none" stroke="#000" stroke-width="1.5" stroke-linejoin="round" stroke-linecap="round"/><ellipse cx="1582.0" cy="2280.0" rx="6.0" ry="9.0" fill="#fff" stroke="#000" stroke-width="1.7" transform="rotate(20 1582.0 2280.0)"/><ellipse cx="1618.0" cy="2270.0" rx="5.0" ry="7.0" fill="#fff" stroke="#000" stroke-width="1.5" transform="rotate(20 1618.0 2270.0)"/><ellipse cx="1628.0" cy="2153.0" rx="15.0" ry="10.0" fill="#fff" stroke="#000" stroke-width="2.6"/><path d="M1572,2160 Q1600,2150 1624,2137" fill="none" stroke="#000" stroke-width="1.5" stroke-linejoin="round" stroke-linecap="round"/><path d="M1667,2176 L1646,2190 L1669,2216 M1667,2176 L1688,2188" fill="none" stroke="#000" stroke-width="1.5" stroke-linejoin="round" stroke-linecap="round"/><ellipse cx="1527.0" cy="2222.0" rx="13.0" ry="9.0" fill="#fff" stroke="#000" stroke-width="1.8"/><ellipse cx="1527.0" cy="2221.0" rx="6.0" ry="4.0" fill="#fff" stroke="#000" stroke-width="1.5"/><path d="M1510,2208 Q1535,2190 1558,2225" fill="none" stroke="#000" stroke-width="1.8" stroke-linejoin="round" stroke-linecap="round"/><path d="M1505,2210 L1515,2204" fill="none" stroke="#000" stroke-width="1.8" stroke-linejoin="round" stroke-linecap="round"/><path d="M1455.0,2098.0 L1497.0,2125.0" fill="none" stroke="#000" stroke-width="1.5" stroke-linejoin="round" stroke-linecap="round"/><path d="M1485.0,2134.0 L1434.0,2164.0 L1451.0,2173.0" fill="none" stroke="#000" stroke-width="1.5" stroke-linejoin="round" stroke-linecap="round" stroke-dasharray="18 8"/><path d="M1696,2228 L1712,2217 L1771,2252 L1772,2276 L1774,2299 L1781,2331 L1753,2349 L1738,2335 L1706,2338 L1689,2323 L1689,2259 L1695,2246 Z" fill="#fff" stroke="#000" stroke-width="1.9"/><path d="M1696,2228 L1702,2233 L1743,2257 L1757,2259 L1771,2252" fill="none" stroke="#000" stroke-width="1.7" stroke-linejoin="round" stroke-linecap="round"/><path d="M1695,2246 L1700,2268" fill="none" stroke="#000" stroke-width="1.5" stroke-linejoin="round" stroke-linecap="round"/><path d="M1747,2310 Q1765,2302 1774,2299 M1750,2323 L1761,2323" fill="none" stroke="#000" stroke-width="1.5" stroke-linejoin="round" stroke-linecap="round"/><ellipse cx="1709.0" cy="2231.0" rx="5.0" ry="3.0" fill="#fff" stroke="#000" stroke-width="1.5"/><ellipse cx="1749.0" cy="2253.0" rx="5.0" ry="3.0" fill="#fff" stroke="#000" stroke-width="1.5"/><ellipse cx="1720.0" cy="2286.0" rx="9.0" ry="12.0" fill="#fff" stroke="#000" stroke-width="2.2" transform="rotate(-20 1720.0 2286.0)"/><ellipse cx="1720.0" cy="2286.0" rx="5.0" ry="8.0" fill="#fff" stroke="#000" stroke-width="1.5" transform="rotate(-20 1720.0 2286.0)"/><ellipse cx="1709.0" cy="2310.0" rx="9.0" ry="12.0" fill="#fff" stroke="#000" stroke-width="2.2" transform="rotate(-20 1709.0 2310.0)"/><ellipse cx="1709.0" cy="2310.0" rx="5.0" ry="8.0" fill="#fff" stroke="#000" stroke-width="1.5" transform="rotate(-20 1709.0 2310.0)"/><ellipse cx="1745.0" cy="2337.0" rx="9.0" ry="11.0" fill="#fff" stroke="#000" stroke-width="1.8" transform="rotate(-20 1745.0 2337.0)"/><ellipse cx="1746.0" cy="2337.0" rx="5.0" ry="7.0" fill="#fff" stroke="#000" stroke-width="1.5" transform="rotate(-20 1746.0 2337.0)"/><path d="M1797.0,2305.0 L1826.0,2290.0" fill="none" stroke="#000" stroke-width="29.6" stroke-linejoin="round" stroke-linecap="butt"/><path d="M1797.0,2305.0 L1826.0,2290.0" fill="none" stroke="#fff" stroke-width="26.0" stroke-linejoin="round" stroke-linecap="butt"/><ellipse cx="1827.0" cy="2290.0" rx="7.0" ry="13.0" fill="#fff" stroke="#000" stroke-width="1.8" transform="rotate(-25 1827.0 2290.0)"/><ellipse cx="1796.0" cy="2305.0" rx="7.0" ry="13.0" fill="#fff" stroke="#000" stroke-width="1.9" transform="rotate(-25 1796.0 2305.0)"/><path d="M1675.0,2377.0 L1718.0,2354.0" fill="none" stroke="#000" stroke-width="13.0" stroke-linejoin="round" stroke-linecap="round"/><path d="M1675.0,2377.0 L1718.0,2354.0" fill="none" stroke="#fff" stroke-width="9.0" stroke-linejoin="round" stroke-linecap="round"/><path d="M1718.8,2358.7 L1711.9,2352.2" fill="none" stroke="#000" stroke-width="1.5" stroke-linejoin="round" stroke-linecap="round"/><path d="M1715.6,2360.4 L1708.7,2353.9" fill="none" stroke="#000" stroke-width="1.5" stroke-linejoin="round" stroke-linecap="round"/><path d="M1712.5,2362.1 L1705.6,2355.6" fill="none" stroke="#000" stroke-width="1.5" stroke-linejoin="round" stroke-linecap="round"/><path d="M1709.3,2363.8 L1702.4,2357.2" fill="none" stroke="#000" stroke-width="1.5" stroke-linejoin="round" stroke-linecap="round"/><path d="M1706.1,2365.5 L1699.2,2358.9" fill="none" stroke="#000" stroke-width="1.5" stroke-linejoin="round" stroke-linecap="round"/><path d="M1702.9,2367.2 L1696.0,2360.6" fill="none" stroke="#000" stroke-width="1.5" stroke-linejoin="round" stroke-linecap="round"/><path d="M1699.8,2368.9 L1692.9,2362.3" fill="none" stroke="#000" stroke-width="1.5" stroke-linejoin="round" stroke-linecap="round"/><path d="M1696.6,2370.6 L1689.7,2364.0" fill="none" stroke="#000" stroke-width="1.5" stroke-linejoin="round" stroke-linecap="round"/><path d="M1684.7,2379.7 L1677.6,2387.1 L1667.9,2384.4 L1665.3,2374.3 L1672.4,2366.9 L1682.1,2369.6 Z" fill="#fff" stroke="#000" stroke-width="2.6"/><ellipse cx="1676.0" cy="2377.0" rx="5.5" ry="6.0" fill="#fff" stroke="#000" stroke-width="2.0"/><path d="M1670.0,2374.0 L1677.0,2384.0" fill="none" stroke="#000" stroke-width="1.6" stroke-linejoin="round" stroke-linecap="round"/><path d="M1674.0,2371.0 L1681.0,2381.0" fill="none" stroke="#000" stroke-width="1.6" stroke-linejoin="round" stroke-linecap="round"/><path d="M438,2960 L438,3018 L479,3018 L479,2960 Z" fill="#fff" stroke="none"/><path d="M440,2962 Q432,2968 440,2973 L449,2973 M462,2966 Q456,2962 462,2959 L473,2959 Q481,2966 474,2973 L450,2975" fill="none" stroke="#000" stroke-width="1.8" stroke-linejoin="round" stroke-linecap="round"/><path d="M440,2978 Q432,2984 440,2989 L449,2989 M462,2982 Q456,2978 462,2975 L473,2975 Q481,2982 474,2989 L450,2991" fill="none" stroke="#000" stroke-width="1.8" stroke-linejoin="round" stroke-linecap="round"/><path d="M440,2994 Q432,3000 440,3005 L449,3005 M462,2998 Q456,2994 462,2991 L473,2991 Q481,2998 474,3005 L450,3007" fill="none" stroke="#000" stroke-width="1.8" stroke-linejoin="round" stroke-linecap="round"/><path d="M440,3008 Q432,3014 440,3019 L449,3019 M462,3012 Q456,3008 462,3005 L473,3005 Q481,3012 474,3019 L450,3021" fill="none" stroke="#000" stroke-width="1.8" stroke-linejoin="round" stroke-linecap="round"/><path d="M449,2960 L449,3018" fill="none" stroke="#000" stroke-width="1.8" stroke-linejoin="round" stroke-linecap="round"/><path d="M443,3018 L474,3018 L460,3040 Q458,3042 456,3040 Z" fill="#fff" stroke="#000" stroke-width="1.8"/><ellipse cx="458.6" cy="2939.0" rx="49.0" ry="20.6" fill="#fff" stroke="#000" stroke-width="1.8"/><ellipse cx="458.6" cy="2929.0" rx="1.5" ry="1.5" fill="#000" stroke="#000" stroke-width="1"/><ellipse cx="697.0" cy="2951.0" rx="18.0" ry="41.0" fill="#fff" stroke="#000" stroke-width="1.9" transform="rotate(18 697.0 2951.0)"/><ellipse cx="701.0" cy="2952.0" rx="15.0" ry="38.0" fill="none" stroke="#000" stroke-width="1.6" transform="rotate(18 701.0 2952.0)"/><path d="M712,2913 L766,2941 L736,3010 L697,2993 Q725,2960 712,2913 Z" fill="#fff" stroke="none"/><path d="M710,2913 L766,2941" fill="none" stroke="#000" stroke-width="1.9" stroke-linejoin="round" stroke-linecap="round"/><path d="M697,2993 L732,3006" fill="none" stroke="#000" stroke-width="1.9" stroke-linejoin="round" stroke-linecap="round"/><ellipse cx="760.0" cy="2982.0" rx="37.0" ry="43.0" fill="#fff" stroke="#000" stroke-width="1.9" transform="rotate(18 760.0 2982.0)"/><ellipse cx="764.0" cy="2982.0" rx="33.0" ry="40.0" fill="none" stroke="#000" stroke-width="1.5" transform="rotate(18 764.0 2982.0)"/><ellipse cx="767.0" cy="2982.0" rx="22.0" ry="30.0" fill="#fff" stroke="#000" stroke-width="1.9" transform="rotate(18 767.0 2982.0)"/><path d="M762,2941 L760,2960" fill="none" stroke="#000" stroke-width="1.5" stroke-linejoin="round" stroke-linecap="round"/><path d="M708,2912 L706,2930" fill="none" stroke="#000" stroke-width="1.5" stroke-linejoin="round" stroke-linecap="round"/><path d="M965.6,2998.2 L965.6,3064.0 Q967.6,3074.0 985.0,3075.0 L1011.0,3075.0 Q1028.4,3074.0 1030.4,3064.0 L1030.4,2998.2 Z" fill="#fff" stroke="#000" stroke-width="1.9"/><path d="M965.6,3016.0 Q969.6,3026.0 988.3,3025.0 L1007.7,3025.0 Q1026.4,3026.0 1030.4,3016.0" fill="none" stroke="#000" stroke-width="1.9"/><path d="M965.6,3033.0 Q969.6,3043.0 988.3,3042.0 L1007.7,3042.0 Q1026.4,3043.0 1030.4,3033.0" fill="none" stroke="#000" stroke-width="1.9"/><path d="M965.6,3050.0 Q969.6,3060.0 988.3,3059.0 L1007.7,3059.0 Q1026.4,3060.0 1030.4,3050.0" fill="none" stroke="#000" stroke-width="1.9"/><ellipse cx="998.0" cy="2967.0" rx="78.1" ry="43.8" fill="#fff" stroke="#000" stroke-width="2.7"/><ellipse cx="998.0" cy="2961.2" rx="78.1" ry="43.8" fill="#fff" stroke="#000" stroke-width="1.9"/><path d="M938.2,2935.3 L938.2,2967.8 Q959.1,2970.8 981.0,2991.4 Q1011.0,2982.4 1040.8,2982.8 L1057.0,2950.2 L1057.0,2916.3 L1041.2,2898.8 L983.6,2888.8 L946.2,2904.6 Z" fill="#fff" stroke="#000" stroke-width="1.9" stroke-linejoin="round"/><path d="M938.2,2935.3 L981.0,2958.3 L1040.8,2950.2 L1057.0,2916.3 M981.0,2958.3 L981.0,2991.4 M1040.8,2950.2 L1040.8,2982.8" fill="none" stroke="#000" stroke-width="1.9"/><ellipse cx="998.0" cy="2919.0" rx="57.6" ry="29.5" fill="#fff" stroke="#000" stroke-width="1.9"/><ellipse cx="998.0" cy="2924.0" rx="44.6" ry="22.3" fill="#fff" stroke="#000" stroke-width="1.9"/><path d="M1203.9,2987.8 L1203.9,2998.8 A62.1,34.8 0 0 0 1328.1,2998.8 L1328.1,2987.8 Z" fill="#fff" stroke="#000" stroke-width="1.9"/><ellipse cx="1266.0" cy="2987.8" rx="62.1" ry="34.8" fill="#fff" stroke="#000" stroke-width="1.9"/><path d="M1212.5,2964.6 L1212.5,2993.7 Q1231.2,2996.4 1250.8,3014.9 Q1277.6,3006.8 1304.3,3007.1 L1318.9,2978.0 L1318.9,2947.5 L1304.7,2931.9 L1253.1,2922.9 L1219.6,2937.1 Z" fill="#fff" stroke="#000" stroke-width="1.9" stroke-linejoin="round"/><path d="M1212.5,2964.6 L1250.8,2985.2 L1304.3,2978.0 L1318.9,2947.5 M1250.8,2985.2 L1250.8,3014.9 M1304.3,2978.0 L1304.3,3007.1" fill="none" stroke="#000" stroke-width="1.9"/><ellipse cx="1266.0" cy="2950.0" rx="51.6" ry="26.4" fill="#fff" stroke="#000" stroke-width="1.9"/><ellipse cx="1266.0" cy="2954.5" rx="40.0" ry="20.0" fill="#fff" stroke="#000" stroke-width="1.9"/><ellipse cx="1266.0" cy="2954.5" rx="25.8" ry="12.9" fill="#fff" stroke="#000" stroke-width="1.9"/><path d="M1459.8,2984.0 L1459.8,2994.0 A80.2,45.0 0 0 0 1620.2,2994.0 L1620.2,2984.0 Z" fill="#fff" stroke="#000" stroke-width="1.9"/><ellipse cx="1540.0" cy="2984.0" rx="80.2" ry="45.0" fill="#fff" stroke="#000" stroke-width="1.9"/><path d="M1474.8,2955.7 L1474.8,2991.2 Q1497.6,2994.5 1521.5,3017.0 Q1554.1,3007.1 1586.6,3007.6 L1604.4,2972.1 L1604.4,2935.0 L1587.1,2916.0 L1524.3,2905.0 L1483.5,2922.3 Z" fill="#fff" stroke="#000" stroke-width="1.9" stroke-linejoin="round"/><path d="M1474.8,2955.7 L1521.5,2980.9 L1586.6,2972.1 L1604.4,2935.0 M1521.5,2980.9 L1521.5,3017.0 M1586.6,2972.1 L1586.6,3007.6" fill="none" stroke="#000" stroke-width="1.9"/><ellipse cx="1540.0" cy="2938.0" rx="62.8" ry="32.2" fill="#fff" stroke="#000" stroke-width="1.9"/><ellipse cx="1540.0" cy="2943.5" rx="48.7" ry="24.3" fill="#fff" stroke="#000" stroke-width="1.9"/><ellipse cx="1540.0" cy="2943.5" rx="31.4" ry="15.7" fill="#fff" stroke="#000" stroke-width="1.9"/><path d="M1779.6,2962.0 L1779.6,3052.0 Q1781.6,3062.0 1794.8,3063.0 L1815.2,3063.0 Q1828.4,3062.0 1830.4,3052.0 L1830.4,2962.0 Z" fill="#fff" stroke="#000" stroke-width="1.9"/><path d="M1779.6,2973.0 Q1783.6,2983.0 1797.4,2982.0 L1812.6,2982.0 Q1826.4,2983.0 1830.4,2973.0" fill="none" stroke="#000" stroke-width="1.9"/><path d="M1779.6,2989.0 Q1783.6,2999.0 1797.4,2998.0 L1812.6,2998.0 Q1826.4,2999.0 1830.4,2989.0" fill="none" stroke="#000" stroke-width="1.9"/><path d="M1779.6,3005.0 Q1783.6,3015.0 1797.4,3014.0 L1812.6,3014.0 Q1826.4,3015.0 1830.4,3005.0" fill="none" stroke="#000" stroke-width="1.9"/><path d="M1779.6,3021.0 Q1783.6,3031.0 1797.4,3030.0 L1812.6,3030.0 Q1826.4,3031.0 1830.4,3021.0" fill="none" stroke="#000" stroke-width="1.9"/><path d="M1779.6,3037.0 Q1783.6,3047.0 1797.4,3046.0 L1812.6,3046.0 Q1826.4,3047.0 1830.4,3037.0" fill="none" stroke="#000" stroke-width="1.9"/><ellipse cx="1805.0" cy="2937.2" rx="61.3" ry="34.4" fill="#fff" stroke="#000" stroke-width="2.7"/><ellipse cx="1805.0" cy="2932.6" rx="61.3" ry="34.4" fill="#fff" stroke="#000" stroke-width="1.9"/><path d="M1757.4,2911.9 L1757.4,2937.8 Q1774.1,2940.3 1791.5,2956.6 Q1815.3,2949.4 1839.0,2949.8 L1852.0,2923.9 L1852.0,2896.8 L1839.4,2883.0 L1793.5,2874.9 L1763.7,2887.5 Z" fill="#fff" stroke="#000" stroke-width="1.9" stroke-linejoin="round"/><path d="M1757.4,2911.9 L1791.5,2930.3 L1839.0,2923.9 L1852.0,2896.8 M1791.5,2930.3 L1791.5,2956.6 M1839.0,2923.9 L1839.0,2949.8" fill="none" stroke="#000" stroke-width="1.9"/><ellipse cx="1805.0" cy="2899.0" rx="45.8" ry="23.5" fill="#fff" stroke="#000" stroke-width="1.9"/><ellipse cx="1805.0" cy="2903.0" rx="35.5" ry="17.8" fill="#fff" stroke="#000" stroke-width="1.9"/><path d="M1792.0,1497.9 L1792.0,1612.0 Q1794.0,1622.0 1802.8,1623.0 L1817.2,1623.0 Q1826.0,1622.0 1828.0,1612.0 L1828.0,1497.9 Z" fill="#fff" stroke="#000" stroke-width="1.9"/><path d="M1792.0,1516.0 Q1796.0,1526.0 1804.6,1525.0 L1815.4,1525.0 Q1824.0,1526.0 1828.0,1516.0" fill="none" stroke="#000" stroke-width="1.9"/><path d="M1792.0,1531.0 Q1796.0,1541.0 1804.6,1540.0 L1815.4,1540.0 Q1824.0,1541.0 1828.0,1531.0" fill="none" stroke="#000" stroke-width="1.9"/><path d="M1792.0,1545.0 Q1796.0,1555.0 1804.6,1554.0 L1815.4,1554.0 Q1824.0,1555.0 1828.0,1545.0" fill="none" stroke="#000" stroke-width="1.9"/><path d="M1792.0,1559.0 Q1796.0,1569.0 1804.6,1568.0 L1815.4,1568.0 Q1824.0,1569.0 1828.0,1559.0" fill="none" stroke="#000" stroke-width="1.9"/><path d="M1792.0,1573.0 Q1796.0,1583.0 1804.6,1582.0 L1815.4,1582.0 Q1824.0,1583.0 1828.0,1573.0" fill="none" stroke="#000" stroke-width="1.9"/><path d="M1792.0,1587.0 Q1796.0,1597.0 1804.6,1596.0 L1815.4,1596.0 Q1824.0,1597.0 1828.0,1587.0" fill="none" stroke="#000" stroke-width="1.9"/><path d="M1792.0,1601.0 Q1796.0,1611.0 1804.6,1610.0 L1815.4,1610.0 Q1824.0,1611.0 1828.0,1601.0" fill="none" stroke="#000" stroke-width="1.9"/><ellipse cx="1810.0" cy="1482.0" rx="55.1" ry="30.9" fill="#fff" stroke="#000" stroke-width="2.7"/><ellipse cx="1810.0" cy="1477.9" rx="55.1" ry="30.9" fill="#fff" stroke="#000" stroke-width="1.9"/><path d="M1777.6,1463.8 L1777.6,1481.4 Q1788.9,1483.1 1800.8,1494.2 Q1817.0,1489.3 1833.2,1489.6 L1842.0,1471.9 L1842.0,1453.5 L1833.4,1444.1 L1802.2,1438.6 L1781.9,1447.2 Z" fill="#fff" stroke="#000" stroke-width="1.9" stroke-linejoin="round"/><path d="M1777.6,1463.8 L1800.8,1476.3 L1833.2,1471.9 L1842.0,1453.5 M1800.8,1476.3 L1800.8,1494.2 M1833.2,1471.9 L1833.2,1489.6" fill="none" stroke="#000" stroke-width="1.9"/><ellipse cx="1810.0" cy="1455.0" rx="31.2" ry="16.0" fill="#fff" stroke="#000" stroke-width="1.9"/><ellipse cx="1810.0" cy="1457.7" rx="24.2" ry="12.1" fill="#fff" stroke="#000" stroke-width="1.9"/><ellipse cx="1811.0" cy="1796.0" rx="77.0" ry="47.0" fill="#fff" stroke="#000" stroke-width="1.9"/><ellipse cx="1811.0" cy="1796.0" rx="65.0" ry="35.0" fill="#fff" stroke="#000" stroke-width="1.9"/>
<rect x="840" y="40" width="235" height="234" class="bx"/>
<line x1="955" y1="276" x2="955" y2="311" class="st"/>
<rect x="1112" y="41" width="235" height="234" class="bx"/>
<line x1="1229" y1="277" x2="1229" y2="311" class="st"/>
<rect x="1674" y="40" width="234" height="234" class="bx"/>
<line x1="1793" y1="276" x2="1793" y2="310" class="st"/>
<rect x="1694" y="578" width="234" height="232" class="bx"/>
<line x1="1658" y1="695" x2="1692" y2="695" class="st"/>
<rect x="1694" y="843" width="234" height="232" class="bx"/>
<line x1="1658" y1="960" x2="1692" y2="960" class="st"/>
<rect x="1689" y="1413" width="234" height="234" class="bx"/>
<line x1="1654" y1="1531" x2="1687" y2="1531" class="st"/>
<rect x="1689" y="1678" width="235" height="232" class="bx"/>
<line x1="1654" y1="1796" x2="1687" y2="1796" class="st"/>
<rect x="341" y="2862" width="235" height="233" class="bx"/>
<line x1="458" y1="2824" x2="458" y2="2860" class="st"/>
<rect x="612" y="2861" width="233" height="232" class="bx"/>
<line x1="728" y1="2826" x2="728" y2="2859" class="st"/>
<rect x="877" y="2860" width="233" height="233" class="bx"/>
<line x1="998" y1="2824" x2="998" y2="2858" class="st"/>
<rect x="1153" y="2863" width="234" height="233" class="bx"/>
<line x1="1271" y1="2824" x2="1271" y2="2861" class="st"/>
<rect x="1422" y="2862" width="232" height="234" class="bx"/>
<line x1="1538" y1="2828" x2="1538" y2="2860" class="st"/>
<rect x="1691" y="2862" width="232" height="232" class="bx"/>
<line x1="1799" y1="2824" x2="1799" y2="2860" class="st"/>
<text x="167.6" y="77" class="lb" style="text-anchor:start">2</text>
<path d="M211.9,41.4 L216.8,41.4 L216.8,77.0 L211.9,77.0 Z M211.9,41.4 L202.7,50.6 L202.7,54.2 L212.4,50.2 Z" fill="#000"/>
<text x="282.4" y="140" class="lb" style="text-anchor:start">2</text>
<text x="310.7" y="140" class="lb" style="text-anchor:start">0</text>
<text x="144.6" y="177" class="lb" style="text-anchor:start">2</text>
<text x="173.0" y="177" class="lb" style="text-anchor:start">2</text>
<path d="M161.4,239.4 L166.3,239.4 L166.3,275.0 L161.4,275.0 Z M161.4,239.4 L152.2,248.6 L152.2,252.2 L161.9,248.2 Z" fill="#000"/>
<text x="173.8" y="275" class="lb" style="text-anchor:start">9</text>
<text x="611.7" y="198" class="lb" style="text-anchor:start">3</text>
<text x="640.1" y="198" class="lb" style="text-anchor:start">5</text>
<text x="482.6" y="312" class="lb" style="text-anchor:start">2</text>
<text x="511.0" y="312" class="lb" style="text-anchor:start">4</text>
<text x="732.0" y="415" class="lb" style="text-anchor:start">3</text>
<text x="760.3" y="415" class="lb" style="text-anchor:start">2</text>
<text x="151.6" y="533" class="lb" style="text-anchor:start">2</text>
<text x="179.9" y="533" class="lb" style="text-anchor:start">9</text>
<text x="705.3" y="647" class="lb" style="text-anchor:start">3</text>
<text x="733.6" y="647" class="lb" style="text-anchor:start">6</text>
<path d="M945.5,337.4 L950.4,337.4 L950.4,373.0 L945.5,373.0 Z M945.5,337.4 L936.3,346.6 L936.3,350.2 L946.0,346.2 Z" fill="#000"/>
<path d="M973.8,337.4 L978.7,337.4 L978.7,373.0 L973.8,373.0 Z M973.8,337.4 L964.6,346.6 L964.6,350.2 L974.3,346.2 Z" fill="#000"/>
<path d="M1216.0,337.4 L1220.9,337.4 L1220.9,373.0 L1216.0,373.0 Z M1216.0,337.4 L1206.8,346.6 L1206.8,350.2 L1216.5,346.2 Z" fill="#000"/>
<text x="1228.4" y="373" class="lb" style="text-anchor:start">2</text>
<path d="M1781.4,335.4 L1786.3,335.4 L1786.3,371.0 L1781.4,371.0 Z M1781.4,335.4 L1772.2,344.6 L1772.2,348.2 L1781.9,344.2 Z" fill="#000"/>
<text x="1793.7" y="371" class="lb" style="text-anchor:start">3</text>
<text x="1481.5" y="384" class="lb" style="text-anchor:start">4</text>
<text x="1580.8" y="576" class="lb" style="text-anchor:start">9</text>
<path d="M1417.7,622.4 L1422.6,622.4 L1422.6,658.0 L1417.7,658.0 Z M1417.7,622.4 L1408.5,631.6 L1408.5,635.2 L1418.2,631.2 Z" fill="#000"/>
<text x="1581.9" y="714" class="lb" style="text-anchor:start">2</text>
<text x="1610.2" y="714" class="lb" style="text-anchor:start">0</text>
<text x="1576.1" y="975" class="lb" style="text-anchor:start">2</text>
<path d="M1620.4,939.4 L1625.3,939.4 L1625.3,975.0 L1620.4,975.0 Z M1620.4,939.4 L1611.2,948.6 L1611.2,952.2 L1620.9,948.2 Z" fill="#000"/>
<text x="308.1" y="905" class="lb" style="text-anchor:start">2</text>
<path d="M352.4,869.4 L357.3,869.4 L357.3,905.0 L352.4,905.0 Z M352.4,869.4 L343.2,878.6 L343.2,882.2 L352.9,878.2 Z" fill="#000"/>
<text x="407.4" y="977" class="lb" style="text-anchor:start">2</text>
<text x="435.7" y="977" class="lb" style="text-anchor:start">0</text>
<text x="276.1" y="1002" class="lb" style="text-anchor:start">2</text>
<text x="304.5" y="1002" class="lb" style="text-anchor:start">2</text>
<path d="M295.9,1066.4 L300.8,1066.4 L300.8,1102.0 L295.9,1102.0 Z M295.9,1066.4 L286.7,1075.6 L286.7,1079.2 L296.4,1075.2 Z" fill="#000"/>
<text x="308.3" y="1102" class="lb" style="text-anchor:start">9</text>
<text x="667.0" y="961" class="lb" style="text-anchor:start">2</text>
<text x="695.3" y="961" class="lb" style="text-anchor:start">3</text>
<text x="437.9" y="1148" class="lb" style="text-anchor:start">3</text>
<text x="466.3" y="1148" class="lb" style="text-anchor:start">4</text>
<text x="537.8" y="1115" class="lb" style="text-anchor:start">3</text>
<text x="566.1" y="1115" class="lb" style="text-anchor:start">3</text>
<text x="120.0" y="1398" class="lb" style="text-anchor:start">2</text>
<text x="148.3" y="1398" class="lb" style="text-anchor:start">8</text>
<text x="319.4" y="1462" class="lb" style="text-anchor:start">2</text>
<text x="347.8" y="1462" class="lb" style="text-anchor:start">5</text>
<text x="185.4" y="1652" class="lb" style="text-anchor:start">3</text>
<path d="M229.8,1616.4 L234.7,1616.4 L234.7,1652.0 L229.8,1652.0 Z M229.8,1616.4 L220.6,1625.6 L220.6,1629.2 L230.3,1625.2 Z" fill="#000"/>
<text x="331.5" y="1658" class="lb" style="text-anchor:start">3</text>
<text x="359.8" y="1658" class="lb" style="text-anchor:start">7</text>
<text x="409.3" y="1627" class="lb" style="text-anchor:start">3</text>
<text x="437.6" y="1627" class="lb" style="text-anchor:start">8</text>
<text x="1389.4" y="977" class="lb" style="text-anchor:start">5</text>
<path d="M1193.5,1072.4 L1198.4,1072.4 L1198.4,1108.0 L1193.5,1108.0 Z M1193.5,1072.4 L1184.3,1081.6 L1184.3,1085.2 L1194.0,1081.2 Z" fill="#000"/>
<text x="1205.9" y="1108" class="lb" style="text-anchor:start">2</text>
<path d="M1308.0,1115.4 L1312.9,1115.4 L1312.9,1151.0 L1308.0,1151.0 Z M1308.0,1115.4 L1298.8,1124.6 L1298.8,1128.2 L1308.5,1124.2 Z" fill="#000"/>
<path d="M1336.3,1115.4 L1341.2,1115.4 L1341.2,1151.0 L1336.3,1151.0 Z M1336.3,1115.4 L1327.1,1124.6 L1327.1,1128.2 L1336.8,1124.2 Z" fill="#000"/>
<path d="M1502.4,1072.4 L1507.3,1072.4 L1507.3,1108.0 L1502.4,1108.0 Z M1502.4,1072.4 L1493.2,1081.6 L1493.2,1085.2 L1502.9,1081.2 Z" fill="#000"/>
<text x="1514.7" y="1108" class="lb" style="text-anchor:start">3</text>
<path d="M1767.7,1103.4 L1772.6,1103.4 L1772.6,1139.0 L1767.7,1139.0 Z M1767.7,1103.4 L1758.5,1112.6 L1758.5,1116.2 L1768.2,1112.2 Z" fill="#000"/>
<text x="1780.1" y="1139" class="lb" style="text-anchor:start">0</text>
<text x="1007.1" y="1265" class="lb" style="text-anchor:start">4</text>
<text x="1035.4" y="1265" class="lb" style="text-anchor:start">0</text>
<text x="1243.3" y="1336" class="lb" style="text-anchor:start">4</text>
<path d="M1287.6,1300.4 L1292.5,1300.4 L1292.5,1336.0 L1287.6,1336.0 Z M1287.6,1300.4 L1278.4,1309.6 L1278.4,1313.2 L1288.1,1309.2 Z" fill="#000"/>
<text x="1577.6" y="1555" class="lb" style="text-anchor:start">2</text>
<text x="1606.0" y="1555" class="lb" style="text-anchor:start">2</text>
<text x="1578.1" y="1811" class="lb" style="text-anchor:start">2</text>
<text x="1606.5" y="1811" class="lb" style="text-anchor:start">7</text>
<text x="302.1" y="1817" class="lb" style="text-anchor:start">2</text>
<path d="M346.4,1781.4 L351.3,1781.4 L351.3,1817.0 L346.4,1817.0 Z M346.4,1781.4 L337.2,1790.6 L337.2,1794.2 L346.9,1790.2 Z" fill="#000"/>
<text x="412.9" y="1887" class="lb" style="text-anchor:start">2</text>
<text x="441.2" y="1887" class="lb" style="text-anchor:start">0</text>
<text x="293.6" y="1919" class="lb" style="text-anchor:start">2</text>
<text x="322.0" y="1919" class="lb" style="text-anchor:start">2</text>
<path d="M305.4,1973.4 L310.3,1973.4 L310.3,2009.0 L305.4,2009.0 Z M305.4,1973.4 L296.2,1982.6 L296.2,1986.2 L305.9,1982.2 Z" fill="#000"/>
<text x="317.8" y="2009" class="lb" style="text-anchor:start">9</text>
<text x="693.0" y="1850" class="lb" style="text-anchor:start">2</text>
<text x="721.3" y="1850" class="lb" style="text-anchor:start">3</text>
<text x="530.8" y="2009" class="lb" style="text-anchor:start">3</text>
<text x="559.1" y="2009" class="lb" style="text-anchor:start">3</text>
<text x="431.4" y="2053" class="lb" style="text-anchor:start">3</text>
<text x="459.8" y="2053" class="lb" style="text-anchor:start">4</text>
<text x="672.2" y="2059" class="lb" style="text-anchor:start">3</text>
<text x="700.6" y="2059" class="lb" style="text-anchor:start">5</text>
<text x="638.0" y="2191" class="lb" style="text-anchor:start">2</text>
<text x="666.3" y="2191" class="lb" style="text-anchor:start">6</text>
<text x="167.0" y="2322" class="lb" style="text-anchor:start">2</text>
<text x="195.3" y="2322" class="lb" style="text-anchor:start">8</text>
<text x="430.7" y="2511" class="lb" style="text-anchor:start">3</text>
<text x="459.0" y="2511" class="lb" style="text-anchor:start">0</text>
<path d="M1108.8,1963.4 L1113.7,1963.4 L1113.7,1999.0 L1108.8,1999.0 Z M1108.8,1963.4 L1099.6,1972.6 L1099.6,1976.2 L1109.3,1972.2 Z" fill="#000"/>
<text x="1121.2" y="1999" class="lb" style="text-anchor:start">5</text>
<path d="M1375.4,2008.4 L1380.3,2008.4 L1380.3,2044.0 L1375.4,2044.0 Z M1375.4,2008.4 L1366.2,2017.6 L1366.2,2021.2 L1375.9,2017.2 Z" fill="#000"/>
<text x="1387.7" y="2044" class="lb" style="text-anchor:start">6</text>
<path d="M1446.3,2036.4 L1451.2,2036.4 L1451.2,2072.0 L1446.3,2072.0 Z M1446.3,2036.4 L1437.1,2045.6 L1437.1,2049.2 L1446.8,2045.2 Z" fill="#000"/>
<text x="1458.7" y="2072" class="lb" style="text-anchor:start">8</text>
<path d="M1537.5,2059.4 L1542.4,2059.4 L1542.4,2095.0 L1537.5,2095.0 Z M1537.5,2059.4 L1528.3,2068.6 L1528.3,2072.2 L1538.0,2068.2 Z" fill="#000"/>
<text x="1549.9" y="2095" class="lb" style="text-anchor:start">7</text>
<path d="M1695.9,2030.4 L1700.8,2030.4 L1700.8,2066.0 L1695.9,2066.0 Z M1695.9,2030.4 L1686.7,2039.6 L1686.7,2043.2 L1696.4,2039.2 Z" fill="#000"/>
<text x="1708.2" y="2066" class="lb" style="text-anchor:start">6</text>
<path d="M1701.3,2112.4 L1706.2,2112.4 L1706.2,2148.0 L1701.3,2148.0 Z M1701.3,2112.4 L1692.1,2121.6 L1692.1,2125.2 L1701.8,2121.2 Z" fill="#000"/>
<text x="1713.7" y="2148" class="lb" style="text-anchor:start">8</text>
<text x="1757.1" y="2223" class="lb" style="text-anchor:start">6</text>
<text x="1216.5" y="2272" class="lb" style="text-anchor:start">3</text>
<text x="1447.8" y="2303" class="lb" style="text-anchor:start">8</text>
<text x="1813.8" y="2379" class="lb" style="text-anchor:start">7</text>
<path d="M1616.5,2374.4 L1621.4,2374.4 L1621.4,2410.0 L1616.5,2410.0 Z M1616.5,2374.4 L1607.3,2383.6 L1607.3,2387.2 L1617.0,2383.2 Z" fill="#000"/>
<text x="1628.8" y="2410" class="lb" style="text-anchor:start">4</text>
<text x="436.8" y="2800" class="lb" style="text-anchor:start">4</text>
<text x="465.2" y="2800" class="lb" style="text-anchor:start">2</text>
<text x="699.9" y="2805" class="lb" style="text-anchor:start">3</text>
<text x="728.2" y="2805" class="lb" style="text-anchor:start">9</text>
<text x="968.8" y="2801" class="lb" style="text-anchor:start">3</text>
<text x="997.1" y="2801" class="lb" style="text-anchor:start">8</text>
<text x="1236.0" y="2801" class="lb" style="text-anchor:start">3</text>
<text x="1264.3" y="2801" class="lb" style="text-anchor:start">7</text>
<text x="1509.7" y="2805" class="lb" style="text-anchor:start">3</text>
<text x="1538.1" y="2805" class="lb" style="text-anchor:start">5</text>
<text x="1772.8" y="2805" class="lb" style="text-anchor:start">3</text>
<text x="1801.1" y="2805" class="lb" style="text-anchor:start">6</text>
<g style="mix-blend-mode:multiply"><text x="36" y="19" class="wm" transform="rotate(-16 36 14)">PartsIndex</text>
<text x="456" y="19" class="wm" transform="rotate(-16 456 14)">PartsIndex</text>
<text x="878" y="19" class="wm" transform="rotate(-16 878 14)">PartsIndex</text>
<text x="1300" y="19" class="wm" transform="rotate(-16 1300 14)">PartsIndex</text>
<text x="1724" y="19" class="wm" transform="rotate(-16 1724 14)">PartsIndex</text>
<text x="36" y="497" class="wm" transform="rotate(-16 36 492)">PartsIndex</text>
<text x="456" y="497" class="wm" transform="rotate(-16 456 492)">PartsIndex</text>
<text x="878" y="497" class="wm" transform="rotate(-16 878 492)">PartsIndex</text>
<text x="1300" y="497" class="wm" transform="rotate(-16 1300 492)">PartsIndex</text>
<text x="1724" y="497" class="wm" transform="rotate(-16 1724 492)">PartsIndex</text>
<text x="36" y="973" class="wm" transform="rotate(-16 36 968)">PartsIndex</text>
<text x="456" y="973" class="wm" transform="rotate(-16 456 968)">PartsIndex</text>
<text x="878" y="973" class="wm" transform="rotate(-16 878 968)">PartsIndex</text>
<text x="1300" y="973" class="wm" transform="rotate(-16 1300 968)">PartsIndex</text>
<text x="1724" y="973" class="wm" transform="rotate(-16 1724 968)">PartsIndex</text>
<text x="36" y="1449" class="wm" transform="rotate(-16 36 1444)">PartsIndex</text>
<text x="456" y="1449" class="wm" transform="rotate(-16 456 1444)">PartsIndex</text>
<text x="878" y="1449" class="wm" transform="rotate(-16 878 1444)">PartsIndex</text>
<text x="1300" y="1449" class="wm" transform="rotate(-16 1300 1444)">PartsIndex</text>
<text x="1724" y="1449" class="wm" transform="rotate(-16 1724 1444)">PartsIndex</text>
<text x="36" y="1925" class="wm" transform="rotate(-16 36 1920)">PartsIndex</text>
<text x="456" y="1925" class="wm" transform="rotate(-16 456 1920)">PartsIndex</text>
<text x="878" y="1925" class="wm" transform="rotate(-16 878 1920)">PartsIndex</text>
<text x="1300" y="1925" class="wm" transform="rotate(-16 1300 1920)">PartsIndex</text>
<text x="1724" y="1925" class="wm" transform="rotate(-16 1724 1920)">PartsIndex</text>
<text x="36" y="2403" class="wm" transform="rotate(-16 36 2398)">PartsIndex</text>
<text x="456" y="2403" class="wm" transform="rotate(-16 456 2398)">PartsIndex</text>
<text x="878" y="2403" class="wm" transform="rotate(-16 878 2398)">PartsIndex</text>
<text x="1300" y="2403" class="wm" transform="rotate(-16 1300 2398)">PartsIndex</text>
<text x="1724" y="2403" class="wm" transform="rotate(-16 1724 2398)">PartsIndex</text>
<text x="36" y="2880" class="wm" transform="rotate(-16 36 2875)">PartsIndex</text>
<text x="456" y="2880" class="wm" transform="rotate(-16 456 2875)">PartsIndex</text>
<text x="878" y="2880" class="wm" transform="rotate(-16 878 2875)">PartsIndex</text>
<text x="1300" y="2880" class="wm" transform="rotate(-16 1300 2875)">PartsIndex</text>
<text x="1724" y="2880" class="wm" transform="rotate(-16 1724 2875)">PartsIndex</text></g>
<text x="1623.5" y="1340" class="lb">2</text>
<rect x="1578" y="1287" width="91" height="91" fill="rgba(255,0,0,0.5)"/>
<text x="33" y="3098" textLength="93" lengthAdjust="spacingAndGlyphs" style="font-family:'Liberation Sans',sans-serif;font-size:88px;font-weight:bold" fill="#000">L4</text>
<rect x="0" y="3139" width="1968" height="197" fill="#666666"/>
<text x="316" y="3274" textLength="1082" lengthAdjust="spacingAndGlyphs" style="font-family:'Liberation Sans',sans-serif;font-size:78px" fill="#fff">GENERAL MOTORS - 96626765</text>
<text x="1495" y="3274" textLength="158" lengthAdjust="spacingAndGlyphs" style="font-family:'Liberation Sans',sans-serif;font-size:78px" fill="#fff">N - 2</text>
</svg>
</body></html>
